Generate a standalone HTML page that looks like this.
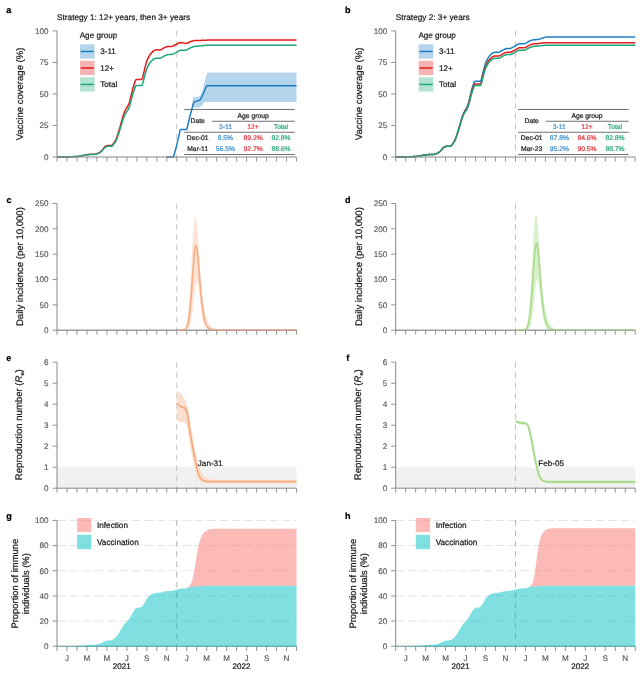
<!DOCTYPE html>
<html><head><meta charset="utf-8"><title>Figure</title>
<style>
html,body{margin:0;padding:0;background:#fff;}
body{width:640px;height:673px;overflow:hidden;font-family:"Liberation Sans", sans-serif;}
svg{display:block;font-family:"Liberation Sans", sans-serif;text-rendering:geometricPrecision;}
</style></head>
<body>
<svg width="640" height="673" viewBox="0 0 640 673">
<defs><filter id="soft" x="0" y="0" width="640" height="673" filterUnits="userSpaceOnUse"><feGaussianBlur stdDeviation="0.3"/></filter></defs>
<rect width="640" height="673" fill="#ffffff"/>
<g filter="url(#soft)">
<path d="M176.76,31 V157" fill="none" stroke="#c2c2c2" stroke-width="1" stroke-dasharray="5.6 4.7"/>
<path d="M192.5,99.5 L193.5,97.2 L199.9,96.4 L202,92 L204.5,82 L207.3,72.6 L296.5,72.6 L296.5,102.1 L204.3,102.1 L202,105.5 L199.4,107.6 L193.5,107.6 L192.5,104Z" fill="#1f7fc4" fill-opacity="0.33"/>
<path d="M57,157 L57.5,156.99 L58,156.99 L58.5,156.98 L59,156.98 L59.5,156.97 L60,156.97 L60.5,156.96 L61,156.96 L61.5,156.95 L62,156.95 L62.5,156.94 L63,156.93 L63.5,156.93 L64,156.92 L64.5,156.92 L65,156.91 L65.5,156.91 L66,156.9 L66.5,156.9 L67,156.88 L67.5,156.87 L68,156.85 L68.5,156.83 L69,156.81 L69.5,156.79 L70,156.77 L70.5,156.75 L71,156.73 L71.5,156.71 L72,156.68 L72.5,156.66 L73,156.64 L73.5,156.62 L74,156.6 L74.5,156.58 L75,156.56 L75.5,156.54 L76,156.52 L76.5,156.5 L77,156.47 L77.5,156.43 L78,156.37 L78.5,156.29 L79,156.2 L79.5,156.12 L80,156.04 L80.5,155.95 L81,155.87 L81.5,155.78 L82,155.69 L82.5,155.59 L83,155.48 L83.5,155.37 L84,155.26 L84.5,155.16 L85,155.05 L85.5,154.94 L86,154.83 L86.5,154.73 L87,154.64 L87.5,154.58 L88,154.53 L88.5,154.49 L89,154.45 L89.5,154.41 L90,154.37 L90.5,154.33 L91,154.3 L91.5,154.28 L92,154.26 L92.5,154.25 L93,154.24 L93.5,154.23 L94,154.22 L94.5,154.2 L95,154.18 L95.5,154.12 L96,153.99 L96.5,153.82 L97,153.62 L97.5,153.42 L98,153.22 L98.5,153.02 L99,152.79 L99.5,152.48 L100,152.09 L100.5,151.64 L101,151.17 L101.5,150.7 L102,150.2 L102.5,149.64 L103,149.03 L103.5,148.39 L104,147.75 L104.5,147.15 L105,146.66 L105.5,146.29 L106,146.04 L106.5,145.82 L107,145.63 L107.5,145.49 L108,145.42 L108.5,145.42 L109,145.43 L109.5,145.44 L110,145.45 L110.5,145.46 L111,145.48 L111.5,145.4 L112,145.14 L112.5,144.68 L113,144.06 L113.5,143.4 L114,142.75 L114.5,142.03 L115,141.21 L115.5,140.3 L116,139.29 L116.5,138.14 L117,136.82 L117.5,135.32 L118,133.71 L118.5,132.07 L119,130.41 L119.5,128.72 L120,127.03 L120.5,125.32 L121,123.56 L121.5,121.75 L122,119.89 L122.5,118.01 L123,116.26 L123.5,114.69 L124,113.31 L124.5,112.07 L125,110.86 L125.5,109.78 L126,108.82 L126.5,108 L127,107.24 L127.5,106.48 L128,105.69 L128.5,104.69 L129,103.47 L129.5,101.97 L130,100.21 L130.5,98.28 L131,96.17 L131.5,94.03 L132,91.92 L132.5,89.95 L133,88.13 L133.5,86.44 L134,84.79 L134.5,83.15 L135,81.58 L135.5,80.43 L136,79.75 L136.5,79.53 L137,79.53 L137.5,79.53 L138,79.53 L138.5,79.53 L139,79.53 L139.5,79.53 L140,79.53 L140.5,79.53 L141,79.53 L141.5,79.51 L142,79.03 L142.5,77.93 L143,76.2 L143.5,74.01 L144,71.8 L144.5,69.62 L145,67.56 L145.5,65.61 L146,63.78 L146.5,62.09 L147,60.63 L147.5,59.4 L148,58.39 L148.5,57.41 L149,56.43 L149.5,55.48 L150,54.67 L150.5,53.98 L151,53.43 L151.5,52.91 L152,52.38 L152.5,51.86 L153,51.35 L153.5,50.91 L154,50.57 L154.5,50.34 L155,50.18 L155.5,50.03 L156,49.91 L156.5,49.84 L157,49.8 L157.5,49.82 L158,49.84 L158.5,49.86 L159,49.88 L159.5,49.9 L160,49.91 L160.5,49.83 L161,49.67 L161.5,49.41 L162,49.11 L162.5,48.81 L163,48.51 L163.5,48.21 L164,47.91 L164.5,47.62 L165,47.38 L165.5,47.17 L166,47.01 L166.5,46.85 L167,46.7 L167.5,46.55 L168,46.45 L168.5,46.4 L169,46.4 L169.5,46.42 L170,46.44 L170.5,46.46 L171,46.48 L171.5,46.47 L172,46.38 L172.5,46.21 L173,45.98 L173.5,45.73 L174,45.48 L174.5,45.23 L175,44.98 L175.5,44.73 L176,44.48 L176.5,44.21 L177,43.99 L177.5,43.74 L178,43.5 L178.5,43.25 L179,43 L179.5,42.78 L180,42.65 L180.5,42.62 L181,42.67 L181.5,42.74 L182,42.82 L182.5,42.9 L183,42.97 L183.5,43.05 L184,43.13 L184.5,43.2 L185,43.28 L185.5,43.36 L186,43.39 L186.5,43.33 L187,43.18 L187.5,42.95 L188,42.71 L188.5,42.46 L189,42.21 L189.5,41.98 L190,41.77 L190.5,41.6 L191,41.46 L191.5,41.32 L192,41.19 L192.5,41.06 L193,40.88 L193.5,40.74 L194,40.64 L194.5,40.59 L195,40.58 L195.5,40.57 L196,40.56 L196.5,40.55 L197,40.53 L197.5,40.52 L198,40.51 L198.5,40.5 L199,40.49 L199.5,40.47 L200,40.45 L200.5,40.42 L201,40.39 L201.5,40.35 L202,40.31 L202.5,40.27 L203,40.24 L203.5,40.22 L204,40.2 L204.5,40.18 L205,40.17 L205.5,40.15 L206,40.14 L206.5,40.13 L207,40.13 L207.5,40.11 L208,40.11 L208.5,40.11 L209,40.11 L209.5,40.11 L210,40.11 L210.5,40.11 L211,40.11 L211.5,40.11 L212,40.11 L212.5,40.11 L213,40.11 L213.5,40.11 L214,40.11 L214.5,40.11 L215,40.11 L215.5,40.11 L216,40.11 L216.5,40.11 L217,40.11 L217.5,40.11 L218,40.11 L218.5,40.11 L219,40.11 L219.5,40.11 L220,40.11 L220.5,40.11 L221,40.11 L221.5,40.11 L222,40.11 L222.5,40.11 L223,40.11 L223.5,40.11 L224,40.11 L224.5,40.11 L225,40.11 L225.5,40.11 L226,40.11 L226.5,40.11 L227,40.11 L227.5,40.11 L228,40.11 L228.5,40.11 L229,40.11 L229.5,40.11 L230,40.11 L230.5,40.11 L231,40.11 L231.5,40.11 L232,40.11 L232.5,40.11 L233,40.11 L233.5,40.11 L234,40.11 L234.5,40.11 L235,40.11 L235.5,40.11 L236,40.11 L236.5,40.11 L237,40.11 L237.5,40.11 L238,40.11 L238.5,40.11 L239,40.11 L239.5,40.11 L240,40.11 L240.5,40.11 L241,40.11 L241.5,40.11 L242,40.11 L242.5,40.11 L243,40.11 L243.5,40.11 L244,40.11 L244.5,40.11 L245,40.11 L245.5,40.11 L246,40.11 L246.5,40.11 L247,40.11 L247.5,40.11 L248,40.11 L248.5,40.11 L249,40.11 L249.5,40.11 L250,40.11 L250.5,40.11 L251,40.11 L251.5,40.11 L252,40.11 L252.5,40.11 L253,40.11 L253.5,40.11 L254,40.11 L254.5,40.11 L255,40.11 L255.5,40.11 L256,40.11 L256.5,40.11 L257,40.11 L257.5,40.11 L258,40.11 L258.5,40.11 L259,40.11 L259.5,40.11 L260,40.11 L260.5,40.11 L261,40.11 L261.5,40.11 L262,40.11 L262.5,40.11 L263,40.11 L263.5,40.11 L264,40.11 L264.5,40.11 L265,40.11 L265.5,40.11 L266,40.11 L266.5,40.11 L267,40.11 L267.5,40.11 L268,40.11 L268.5,40.11 L269,40.11 L269.5,40.11 L270,40.11 L270.5,40.11 L271,40.11 L271.5,40.11 L272,40.11 L272.5,40.11 L273,40.11 L273.5,40.11 L274,40.11 L274.5,40.11 L275,40.11 L275.5,40.11 L276,40.11 L276.5,40.11 L277,40.11 L277.5,40.11 L278,40.11 L278.5,40.11 L279,40.11 L279.5,40.11 L280,40.11 L280.5,40.11 L281,40.11 L281.5,40.11 L282,40.11 L282.5,40.11 L283,40.11 L283.5,40.11 L284,40.11 L284.5,40.11 L285,40.11 L285.5,40.11 L286,40.11 L286.5,40.11 L287,40.11 L287.5,40.11 L288,40.11 L288.5,40.11 L289,40.11 L289.5,40.11 L290,40.11 L290.5,40.11 L291,40.11 L291.5,40.11 L292,40.11 L292.5,40.11 L293,40.11 L293.5,40.11 L294,40.11 L294.5,40.11 L295,40.11 L295.5,40.11 L296,40.11 L296.5,40.11" fill="none" stroke="#e41a1c" stroke-width="1.5" stroke-linejoin="round" stroke-linecap="butt" />
<path d="M57,157 L57.5,156.99 L58,156.99 L58.5,156.99 L59,156.98 L59.5,156.98 L60,156.97 L60.5,156.96 L61,156.96 L61.5,156.96 L62,156.95 L62.5,156.94 L63,156.94 L63.5,156.93 L64,156.93 L64.5,156.93 L65,156.92 L65.5,156.91 L66,156.91 L66.5,156.9 L67,156.89 L67.5,156.88 L68,156.86 L68.5,156.84 L69,156.82 L69.5,156.8 L70,156.79 L70.5,156.77 L71,156.75 L71.5,156.73 L72,156.71 L72.5,156.69 L73,156.67 L73.5,156.65 L74,156.63 L74.5,156.61 L75,156.6 L75.5,156.58 L76,156.56 L76.5,156.54 L77,156.51 L77.5,156.47 L78,156.42 L78.5,156.34 L79,156.27 L79.5,156.19 L80,156.11 L80.5,156.03 L81,155.96 L81.5,155.88 L82,155.79 L82.5,155.7 L83,155.6 L83.5,155.5 L84,155.4 L84.5,155.3 L85,155.2 L85.5,155.1 L86,155 L86.5,154.91 L87,154.83 L87.5,154.77 L88,154.73 L88.5,154.69 L89,154.65 L89.5,154.61 L90,154.58 L90.5,154.54 L91,154.51 L91.5,154.49 L92,154.48 L92.5,154.47 L93,154.46 L93.5,154.45 L94,154.43 L94.5,154.42 L95,154.41 L95.5,154.34 L96,154.23 L96.5,154.07 L97,153.88 L97.5,153.7 L98,153.52 L98.5,153.33 L99,153.12 L99.5,152.83 L100,152.48 L100.5,152.06 L101,151.63 L101.5,151.2 L102,150.73 L102.5,150.22 L103,149.66 L103.5,149.07 L104,148.48 L104.5,147.92 L105,147.47 L105.5,147.13 L106,146.9 L106.5,146.7 L107,146.52 L107.5,146.39 L108,146.33 L108.5,146.32 L109,146.33 L109.5,146.35 L110,146.36 L110.5,146.37 L111,146.38 L111.5,146.31 L112,146.07 L112.5,145.65 L113,145.07 L113.5,144.47 L114,143.87 L114.5,143.2 L115,142.45 L115.5,141.6 L116,140.68 L116.5,139.62 L117,138.4 L117.5,137.02 L118,135.53 L118.5,134.02 L119,132.49 L119.5,130.94 L120,129.38 L120.5,127.8 L121,126.18 L121.5,124.51 L122,122.79 L122.5,121.07 L123,119.45 L123.5,118 L124,116.73 L124.5,115.59 L125,114.48 L125.5,113.47 L126,112.6 L126.5,111.84 L127,111.14 L127.5,110.44 L128,109.71 L128.5,108.79 L129,107.66 L129.5,106.28 L130,104.66 L130.5,102.88 L131,100.94 L131.5,98.96 L132,97.02 L132.5,95.2 L133,93.52 L133.5,91.97 L134,90.45 L134.5,88.94 L135,87.49 L135.5,86.43 L136,85.8 L136.5,85.6 L137,85.6 L137.5,85.6 L138,85.6 L138.5,85.6 L139,85.6 L139.5,85.6 L140,85.6 L140.5,85.6 L141,85.6 L141.5,85.58 L142,85.14 L142.5,84.12 L143,82.53 L143.5,80.51 L144,78.47 L144.5,76.47 L145,74.57 L145.5,72.77 L146,71.08 L146.5,69.53 L147,68.18 L147.5,67.05 L148,66.11 L148.5,65.21 L149,64.31 L149.5,63.44 L150,62.68 L150.5,62.05 L151,61.54 L151.5,61.06 L152,60.58 L152.5,60.1 L153,59.62 L153.5,59.22 L154,58.91 L154.5,58.69 L155,58.55 L155.5,58.41 L156,58.3 L156.5,58.23 L157,58.2 L157.5,58.2 L158,58.2 L158.5,58.2 L159,58.2 L159.5,58.2 L160,58.19 L160.5,58.1 L161,57.92 L161.5,57.67 L162,57.37 L162.5,57.08 L163,56.78 L163.5,56.49 L164,56.19 L164.5,55.91 L165,55.66 L165.5,55.45 L166,55.28 L166.5,55.12 L167,54.95 L167.5,54.8 L168,54.69 L168.5,54.62 L169,54.6 L169.5,54.6 L170,54.6 L170.5,54.6 L171,54.6 L171.5,54.57 L172,54.46 L172.5,54.29 L173,54.05 L173.5,53.8 L174,53.55 L174.5,53.3 L175,53.05 L175.5,52.8 L176,52.55 L176.5,52.28 L177,52 L177.5,51.7 L178,51.4 L178.5,51.1 L179,50.8 L179.5,50.52 L180,50.33 L180.5,50.22 L181,50.2 L181.5,50.2 L182,50.2 L182.5,50.2 L183,50.2 L183.5,50.2 L184,50.2 L184.5,50.2 L185,50.2 L185.5,50.2 L186,50.16 L186.5,50.03 L187,49.82 L187.5,49.53 L188,49.22 L188.5,48.92 L189,48.61 L189.5,48.31 L190,48.05 L190.5,47.81 L191,47.6 L191.5,47.4 L192,47.2 L192.5,47 L193,46.8 L193.5,46.64 L194,46.52 L194.5,46.44 L195,46.4 L195.5,46.36 L196,46.32 L196.5,46.28 L197,46.24 L197.5,46.2 L198,46.16 L198.5,46.12 L199,46.08 L199.5,46.04 L200,45.99 L200.5,45.93 L201,45.87 L201.5,45.8 L202,45.73 L202.5,45.67 L203,45.61 L203.5,45.56 L204,45.51 L204.5,45.47 L205,45.42 L205.5,45.38 L206,45.34 L206.5,45.3 L207,45.27 L207.5,45.25 L208,45.25 L208.5,45.25 L209,45.25 L209.5,45.25 L210,45.25 L210.5,45.25 L211,45.25 L211.5,45.25 L212,45.25 L212.5,45.25 L213,45.25 L213.5,45.25 L214,45.25 L214.5,45.25 L215,45.25 L215.5,45.25 L216,45.25 L216.5,45.25 L217,45.25 L217.5,45.25 L218,45.25 L218.5,45.25 L219,45.25 L219.5,45.25 L220,45.25 L220.5,45.25 L221,45.25 L221.5,45.25 L222,45.25 L222.5,45.25 L223,45.25 L223.5,45.25 L224,45.25 L224.5,45.25 L225,45.25 L225.5,45.25 L226,45.25 L226.5,45.25 L227,45.25 L227.5,45.25 L228,45.25 L228.5,45.25 L229,45.25 L229.5,45.25 L230,45.25 L230.5,45.25 L231,45.25 L231.5,45.25 L232,45.25 L232.5,45.25 L233,45.25 L233.5,45.25 L234,45.25 L234.5,45.25 L235,45.25 L235.5,45.25 L236,45.25 L236.5,45.25 L237,45.25 L237.5,45.25 L238,45.25 L238.5,45.25 L239,45.25 L239.5,45.25 L240,45.25 L240.5,45.25 L241,45.25 L241.5,45.25 L242,45.25 L242.5,45.25 L243,45.25 L243.5,45.25 L244,45.25 L244.5,45.25 L245,45.25 L245.5,45.25 L246,45.25 L246.5,45.25 L247,45.25 L247.5,45.25 L248,45.25 L248.5,45.25 L249,45.25 L249.5,45.25 L250,45.25 L250.5,45.25 L251,45.25 L251.5,45.25 L252,45.25 L252.5,45.25 L253,45.25 L253.5,45.25 L254,45.25 L254.5,45.25 L255,45.25 L255.5,45.25 L256,45.25 L256.5,45.25 L257,45.25 L257.5,45.25 L258,45.25 L258.5,45.25 L259,45.25 L259.5,45.25 L260,45.25 L260.5,45.25 L261,45.25 L261.5,45.25 L262,45.25 L262.5,45.25 L263,45.25 L263.5,45.25 L264,45.25 L264.5,45.25 L265,45.25 L265.5,45.25 L266,45.25 L266.5,45.25 L267,45.25 L267.5,45.25 L268,45.25 L268.5,45.25 L269,45.25 L269.5,45.25 L270,45.25 L270.5,45.25 L271,45.25 L271.5,45.25 L272,45.25 L272.5,45.25 L273,45.25 L273.5,45.25 L274,45.25 L274.5,45.25 L275,45.25 L275.5,45.25 L276,45.25 L276.5,45.25 L277,45.25 L277.5,45.25 L278,45.25 L278.5,45.25 L279,45.25 L279.5,45.25 L280,45.25 L280.5,45.25 L281,45.25 L281.5,45.25 L282,45.25 L282.5,45.25 L283,45.25 L283.5,45.25 L284,45.25 L284.5,45.25 L285,45.25 L285.5,45.25 L286,45.25 L286.5,45.25 L287,45.25 L287.5,45.25 L288,45.25 L288.5,45.25 L289,45.25 L289.5,45.25 L290,45.25 L290.5,45.25 L291,45.25 L291.5,45.25 L292,45.25 L292.5,45.25 L293,45.25 L293.5,45.25 L294,45.25 L294.5,45.25 L295,45.25 L295.5,45.25 L296,45.25 L296.5,45.25" fill="none" stroke="#1aa67a" stroke-width="1.5" stroke-linejoin="round" stroke-linecap="butt" />
<path d="M166.7,157 L173.4,157 L176.5,146.2 L180.3,129.4 L186.8,129.4 L190,116 L193.7,102.4 L195,101.6 L199.7,100.3 L201.5,97.5 L206.6,86 L207.3,85.75 L296.5,85.75" fill="none" stroke="#1f7fc4" stroke-width="1.5" stroke-linejoin="round" stroke-linecap="butt" />
<path d="M57,30.9 V157 H296.52" fill="none" stroke="#888888" stroke-width="1"/>
<path d="M52.5,157 H57 M52.5,125.47 H57 M52.5,93.95 H57 M52.5,62.43 H57 M52.5,30.9 H57 M57,157 v4.5 M66.98,157 v4.5 M76.96,157 v4.5 M86.94,157 v4.5 M96.92,157 v4.5 M106.9,157 v4.5 M116.88,157 v4.5 M126.86,157 v4.5 M136.84,157 v4.5 M146.82,157 v4.5 M156.8,157 v4.5 M166.78,157 v4.5 M176.76,157 v4.5 M186.74,157 v4.5 M196.72,157 v4.5 M206.7,157 v4.5 M216.68,157 v4.5 M226.66,157 v4.5 M236.64,157 v4.5 M246.62,157 v4.5 M256.6,157 v4.5 M266.58,157 v4.5 M276.56,157 v4.5 M286.54,157 v4.5 M296.52,157 v4.5 " fill="none" stroke="#888888" stroke-width="0.9"/>
<text x="48.6" y="159.85" text-anchor="end" font-size="8.1" fill="#555555" stroke="#555555" stroke-width="0.14">0</text>
<text x="48.6" y="128.32" text-anchor="end" font-size="8.1" fill="#555555" stroke="#555555" stroke-width="0.14">25</text>
<text x="48.6" y="96.8" text-anchor="end" font-size="8.1" fill="#555555" stroke="#555555" stroke-width="0.14">50</text>
<text x="48.6" y="65.28" text-anchor="end" font-size="8.1" fill="#555555" stroke="#555555" stroke-width="0.14">75</text>
<text x="48.6" y="33.75" text-anchor="end" font-size="8.1" fill="#555555" stroke="#555555" stroke-width="0.14">100</text>
<text transform="translate(23.3,93.9) rotate(-90)" text-anchor="middle" font-size="9.55" fill="#1a1a1a" stroke="#1a1a1a" stroke-width="0.22">Vaccine coverage (%)</text>
<text x="57.1" y="20.1" font-size="8.22" fill="#1a1a1a" stroke="#1a1a1a" stroke-width="0.22">Strategy 1: 12+ years, then 3+ years</text>
<text x="79.7" y="38.1" font-size="8.15" fill="#1a1a1a" stroke="#1a1a1a" stroke-width="0.22">Age group</text>
<rect x="80" y="44.3" width="14.6" height="14.3" fill="#1f7fc4" fill-opacity="0.33"/>
<path d="M80.7,51.45 h13.2" stroke="#1f7fc4" stroke-width="1.5" fill="none"/>
<text x="100.2" y="54.3" font-size="8.15" fill="#1a1a1a" stroke="#1a1a1a" stroke-width="0.22">3-11</text>
<rect x="80" y="60.8" width="14.6" height="14.3" fill="#e41a1c" fill-opacity="0.33"/>
<path d="M80.7,67.95 h13.2" stroke="#e41a1c" stroke-width="1.5" fill="none"/>
<text x="100.2" y="70.8" font-size="8.15" fill="#1a1a1a" stroke="#1a1a1a" stroke-width="0.22">12+</text>
<rect x="80" y="77.3" width="14.6" height="14.3" fill="#1aa67a" fill-opacity="0.33"/>
<path d="M80.7,84.45 h13.2" stroke="#1aa67a" stroke-width="1.5" fill="none"/>
<text x="100.2" y="87.3" font-size="8.15" fill="#1a1a1a" stroke="#1a1a1a" stroke-width="0.22">Total</text>
<path d="M184.2,109.45 H294.8 M211.9,121.25 H294.8 M184.2,132.25 H294.8 M184.2,154.5 H294.8" stroke="#555555" stroke-width="0.85" fill="none"/>
<g font-size="6.75" text-anchor="middle">
<text x="253.1" y="118.3" fill="#1a1a1a" stroke="#1a1a1a" stroke-width="0.22">Age group</text>
<text x="197.7" y="123.2" fill="#1a1a1a" stroke="#1a1a1a" stroke-width="0.22">Date</text>
<text x="225.4" y="129.2" fill="#3f8fd0" stroke="#3f8fd0" stroke-width="0.22">3-11</text>
<text x="253.1" y="129.2" fill="#e2373f" stroke="#e2373f" stroke-width="0.22">12+</text>
<text x="281" y="129.2" fill="#2aa87c" stroke="#2aa87c" stroke-width="0.22">Total</text>
<text x="197.7" y="140.1" fill="#1a1a1a" stroke="#1a1a1a" stroke-width="0.22">Dec-01</text>
<text x="225.4" y="140.1" fill="#3f8fd0" stroke="#3f8fd0" stroke-width="0.22">8.5%</text>
<text x="253.1" y="140.1" fill="#e2373f" stroke="#e2373f" stroke-width="0.22">89.2%</text>
<text x="281" y="140.1" fill="#2aa87c" stroke="#2aa87c" stroke-width="0.22">82.8%</text>
<text x="197.7" y="151.0" fill="#1a1a1a" stroke="#1a1a1a" stroke-width="0.22">Mar-11</text>
<text x="225.4" y="151.0" fill="#3f8fd0" stroke="#3f8fd0" stroke-width="0.22">56.5%</text>
<text x="253.1" y="151.0" fill="#e2373f" stroke="#e2373f" stroke-width="0.22">92.7%</text>
<text x="281" y="151.0" fill="#2aa87c" stroke="#2aa87c" stroke-width="0.22">88.6%</text>
</g>
<text x="6.3" y="12.7" font-size="9.1" font-weight="bold" fill="#000" stroke="#000" stroke-width="0.22">a</text>
<path d="M515.46,31 V157" fill="none" stroke="#c2c2c2" stroke-width="1" stroke-dasharray="5.6 4.7"/>
<path d="M395.7,157 L396.2,156.99 L396.7,156.99 L397.2,156.99 L397.7,156.98 L398.2,156.98 L398.7,156.97 L399.2,156.96 L399.7,156.96 L400.2,156.96 L400.7,156.95 L401.2,156.94 L401.7,156.94 L402.2,156.93 L402.7,156.93 L403.2,156.93 L403.7,156.92 L404.2,156.91 L404.7,156.91 L405.2,156.9 L405.7,156.89 L406.2,156.88 L406.7,156.86 L407.2,156.84 L407.7,156.82 L408.2,156.8 L408.7,156.79 L409.2,156.77 L409.7,156.75 L410.2,156.73 L410.7,156.71 L411.2,156.69 L411.7,156.67 L412.2,156.65 L412.7,156.63 L413.2,156.61 L413.7,156.6 L414.2,156.58 L414.7,156.56 L415.2,156.54 L415.7,156.51 L416.2,156.47 L416.7,156.42 L417.2,156.34 L417.7,156.27 L418.2,156.19 L418.7,156.11 L419.2,156.03 L419.7,155.96 L420.2,155.88 L420.7,155.79 L421.2,155.7 L421.7,155.6 L422.2,155.5 L422.7,155.4 L423.2,155.3 L423.7,155.2 L424.2,155.1 L424.7,155 L425.2,154.91 L425.7,154.83 L426.2,154.77 L426.7,154.73 L427.2,154.69 L427.7,154.65 L428.2,154.61 L428.7,154.58 L429.2,154.54 L429.7,154.51 L430.2,154.49 L430.7,154.48 L431.2,154.47 L431.7,154.46 L432.2,154.45 L432.7,154.43 L433.2,154.42 L433.7,154.41 L434.2,154.34 L434.7,154.23 L435.2,154.07 L435.7,153.88 L436.2,153.7 L436.7,153.52 L437.2,153.33 L437.7,153.12 L438.2,152.83 L438.7,152.48 L439.2,152.06 L439.7,151.63 L440.2,151.2 L440.7,150.73 L441.2,150.22 L441.7,149.66 L442.2,149.07 L442.7,148.48 L443.2,147.92 L443.7,147.47 L444.2,147.13 L444.7,146.9 L445.2,146.7 L445.7,146.52 L446.2,146.39 L446.7,146.33 L447.2,146.32 L447.7,146.33 L448.2,146.35 L448.7,146.36 L449.2,146.37 L449.7,146.38 L450.2,146.31 L450.7,146.07 L451.2,145.65 L451.7,145.07 L452.2,144.47 L452.7,143.87 L453.2,143.2 L453.7,142.45 L454.2,141.6 L454.7,140.68 L455.2,139.62 L455.7,138.4 L456.2,136.98 L456.7,135.45 L457.2,133.88 L457.7,132.29 L458.2,130.68 L458.7,129.04 L459.2,127.39 L459.7,125.68 L460.2,123.92 L460.7,122.11 L461.2,120.27 L461.7,118.55 L462.2,116.99 L462.7,115.6 L463.2,114.34 L463.7,113.11 L464.2,111.99 L464.7,111 L465.2,110.12 L465.7,109.31 L466.2,108.48 L466.7,107.63 L467.2,106.57 L467.7,105.29 L468.2,103.75 L468.7,101.94 L469.2,99.95 L469.7,97.8 L470.2,95.59 L470.7,93.42 L471.2,91.49 L471.7,89.71 L472.2,88.07 L472.7,86.46 L473.2,84.85 L473.7,83.31 L474.2,82.19 L474.7,81.53 L475.2,81.32 L475.7,81.32 L476.2,81.32 L476.7,81.32 L477.2,81.32 L477.7,81.32 L478.2,81.32 L478.7,81.32 L479.2,81.32 L479.7,81.32 L480.2,81.3 L480.7,80.83 L481.2,79.75 L481.7,78.06 L482.2,75.92 L482.7,73.76 L483.2,71.63 L483.7,69.62 L484.2,67.72 L484.7,65.93 L485.2,64.28 L485.7,62.85 L486.2,61.65 L486.7,60.66 L487.2,59.7 L487.7,58.74 L488.2,57.82 L488.7,57.03 L489.2,56.36 L489.7,55.81 L490.2,55.3 L490.7,54.79 L491.2,54.29 L491.7,53.78 L492.2,53.35 L492.7,53.02 L493.2,52.79 L493.7,52.64 L494.2,52.5 L494.7,52.38 L495.2,52.31 L495.7,52.27 L496.2,52.27 L496.7,52.27 L497.2,52.27 L497.7,52.27 L498.2,52.27 L498.7,52.26 L499.2,52.16 L499.7,51.98 L500.2,51.71 L500.7,51.4 L501.2,51.08 L501.7,50.77 L502.2,50.46 L502.7,50.14 L503.2,49.84 L503.7,49.58 L504.2,49.36 L504.7,49.17 L505.2,49 L505.7,48.83 L506.2,48.67 L506.7,48.55 L507.2,48.48 L507.7,48.46 L508.2,48.46 L508.7,48.46 L509.2,48.46 L509.7,48.46 L510.2,48.42 L510.7,48.31 L511.2,48.13 L511.7,47.87 L512.2,47.61 L512.7,47.34 L513.2,47.08 L513.7,46.81 L514.2,46.55 L514.7,46.28 L515.2,45.99 L515.7,45.7 L516.2,45.38 L516.7,45.06 L517.2,44.75 L517.7,44.43 L518.2,44.14 L518.7,43.93 L519.2,43.82 L519.7,43.79 L520.2,43.79 L520.7,43.79 L521.2,43.79 L521.7,43.79 L522.2,43.79 L522.7,43.79 L523.2,43.79 L523.7,43.79 L524.2,43.79 L524.7,43.75 L525.2,43.62 L525.7,43.39 L526.2,43.08 L526.7,42.76 L527.2,42.43 L527.7,42.11 L528.2,41.79 L528.7,41.51 L529.2,41.26 L529.7,41.04 L530.2,40.82 L530.7,40.61 L531.2,40.4 L531.7,40.19 L532.2,40.01 L532.7,39.89 L533.2,39.81 L533.7,39.76 L534.2,39.72 L534.7,39.68 L535.2,39.64 L535.7,39.59 L536.2,39.55 L536.7,39.51 L537.2,39.47 L537.7,39.42 L538.2,39.38 L538.7,39.33 L539.2,39.27 L539.7,39.09 L540.2,38.91 L540.7,38.72 L541.2,38.54 L541.7,38.37 L542.2,38.2 L542.7,38.04 L543.2,37.88 L543.7,37.73 L544.2,37.57 L544.7,37.41 L545.2,37.25 L545.7,37.11 L546.2,37.1 L546.7,37.09 L547.2,37.09 L547.7,37.09 L548.2,37.09 L548.7,37.09 L549.2,37.09 L549.7,37.09 L550.2,37.09 L550.7,37.09 L551.2,37.09 L551.7,37.09 L552.2,37.09 L552.7,37.09 L553.2,37.09 L553.7,37.09 L554.2,37.09 L554.7,37.09 L555.2,37.09 L555.7,37.09 L556.2,37.09 L556.7,37.09 L557.2,37.09 L557.7,37.09 L558.2,37.09 L558.7,37.09 L559.2,37.09 L559.7,37.09 L560.2,37.09 L560.7,37.09 L561.2,37.09 L561.7,37.09 L562.2,37.09 L562.7,37.09 L563.2,37.09 L563.7,37.09 L564.2,37.09 L564.7,37.09 L565.2,37.09 L565.7,37.09 L566.2,37.09 L566.7,37.09 L567.2,37.09 L567.7,37.09 L568.2,37.09 L568.7,37.09 L569.2,37.09 L569.7,37.09 L570.2,37.09 L570.7,37.09 L571.2,37.09 L571.7,37.09 L572.2,37.09 L572.7,37.09 L573.2,37.09 L573.7,37.09 L574.2,37.09 L574.7,37.09 L575.2,37.09 L575.7,37.09 L576.2,37.09 L576.7,37.09 L577.2,37.09 L577.7,37.09 L578.2,37.09 L578.7,37.09 L579.2,37.09 L579.7,37.09 L580.2,37.09 L580.7,37.09 L581.2,37.09 L581.7,37.09 L582.2,37.09 L582.7,37.09 L583.2,37.09 L583.7,37.09 L584.2,37.09 L584.7,37.09 L585.2,37.09 L585.7,37.09 L586.2,37.09 L586.7,37.09 L587.2,37.09 L587.7,37.09 L588.2,37.09 L588.7,37.09 L589.2,37.09 L589.7,37.09 L590.2,37.09 L590.7,37.09 L591.2,37.09 L591.7,37.09 L592.2,37.09 L592.7,37.09 L593.2,37.09 L593.7,37.09 L594.2,37.09 L594.7,37.09 L595.2,37.09 L595.7,37.09 L596.2,37.09 L596.7,37.09 L597.2,37.09 L597.7,37.09 L598.2,37.09 L598.7,37.09 L599.2,37.09 L599.7,37.09 L600.2,37.09 L600.7,37.09 L601.2,37.09 L601.7,37.09 L602.2,37.09 L602.7,37.09 L603.2,37.09 L603.7,37.09 L604.2,37.09 L604.7,37.09 L605.2,37.09 L605.7,37.09 L606.2,37.09 L606.7,37.09 L607.2,37.09 L607.7,37.09 L608.2,37.09 L608.7,37.09 L609.2,37.09 L609.7,37.09 L610.2,37.09 L610.7,37.09 L611.2,37.09 L611.7,37.09 L612.2,37.09 L612.7,37.09 L613.2,37.09 L613.7,37.09 L614.2,37.09 L614.7,37.09 L615.2,37.09 L615.7,37.09 L616.2,37.09 L616.7,37.09 L617.2,37.09 L617.7,37.09 L618.2,37.09 L618.7,37.09 L619.2,37.09 L619.7,37.09 L620.2,37.09 L620.7,37.09 L621.2,37.09 L621.7,37.09 L622.2,37.09 L622.7,37.09 L623.2,37.09 L623.7,37.09 L624.2,37.09 L624.7,37.09 L625.2,37.09 L625.7,37.09 L626.2,37.09 L626.7,37.09 L627.2,37.09 L627.7,37.09 L628.2,37.09 L628.7,37.09 L629.2,37.09 L629.7,37.09 L630.2,37.09 L630.7,37.09 L631.2,37.09 L631.7,37.09 L632.2,37.09 L632.7,37.09 L633.2,37.09 L633.7,37.09 L634.2,37.09 L634.7,37.09 L635.2,37.09" fill="none" stroke="#1f7fc4" stroke-width="1.5" stroke-linejoin="round" stroke-linecap="butt" />
<path d="M395.7,157 L396.2,156.99 L396.7,156.99 L397.2,156.99 L397.7,156.98 L398.2,156.98 L398.7,156.97 L399.2,156.96 L399.7,156.96 L400.2,156.96 L400.7,156.95 L401.2,156.94 L401.7,156.94 L402.2,156.93 L402.7,156.93 L403.2,156.93 L403.7,156.92 L404.2,156.91 L404.7,156.91 L405.2,156.9 L405.7,156.89 L406.2,156.88 L406.7,156.86 L407.2,156.84 L407.7,156.82 L408.2,156.8 L408.7,156.79 L409.2,156.77 L409.7,156.75 L410.2,156.73 L410.7,156.71 L411.2,156.69 L411.7,156.67 L412.2,156.65 L412.7,156.63 L413.2,156.61 L413.7,156.6 L414.2,156.58 L414.7,156.56 L415.2,156.54 L415.7,156.51 L416.2,156.47 L416.7,156.42 L417.2,156.34 L417.7,156.27 L418.2,156.19 L418.7,156.11 L419.2,156.03 L419.7,155.96 L420.2,155.88 L420.7,155.79 L421.2,155.7 L421.7,155.6 L422.2,155.5 L422.7,155.4 L423.2,155.3 L423.7,155.2 L424.2,155.1 L424.7,155 L425.2,154.91 L425.7,154.83 L426.2,154.77 L426.7,154.73 L427.2,154.69 L427.7,154.65 L428.2,154.61 L428.7,154.58 L429.2,154.54 L429.7,154.51 L430.2,154.49 L430.7,154.48 L431.2,154.47 L431.7,154.46 L432.2,154.45 L432.7,154.43 L433.2,154.42 L433.7,154.41 L434.2,154.34 L434.7,154.23 L435.2,154.07 L435.7,153.88 L436.2,153.7 L436.7,153.52 L437.2,153.33 L437.7,153.12 L438.2,152.83 L438.7,152.48 L439.2,152.06 L439.7,151.63 L440.2,151.2 L440.7,150.73 L441.2,150.22 L441.7,149.66 L442.2,149.07 L442.7,148.48 L443.2,147.92 L443.7,147.47 L444.2,147.13 L444.7,146.9 L445.2,146.7 L445.7,146.52 L446.2,146.39 L446.7,146.33 L447.2,146.32 L447.7,146.33 L448.2,146.35 L448.7,146.36 L449.2,146.37 L449.7,146.38 L450.2,146.31 L450.7,146.07 L451.2,145.65 L451.7,145.07 L452.2,144.47 L452.7,143.87 L453.2,143.2 L453.7,142.45 L454.2,141.6 L454.7,140.68 L455.2,139.62 L455.7,138.4 L456.2,137.01 L456.7,135.5 L457.2,133.97 L457.7,132.41 L458.2,130.84 L458.7,129.25 L459.2,127.64 L459.7,125.99 L460.2,124.28 L460.7,122.53 L461.2,120.76 L461.7,119.1 L462.2,117.62 L462.7,116.3 L463.2,115.11 L463.7,113.95 L464.2,112.91 L464.7,111.98 L465.2,111.18 L465.7,110.44 L466.2,109.69 L466.7,108.91 L467.2,107.94 L467.7,106.75 L468.2,105.31 L468.7,103.62 L469.2,101.76 L469.7,99.74 L470.2,97.67 L470.7,95.67 L471.2,93.81 L471.7,92.09 L472.2,90.5 L472.7,88.95 L473.2,87.4 L473.7,85.92 L474.2,84.84 L474.7,84.2 L475.2,83.99 L475.7,83.99 L476.2,83.99 L476.7,83.99 L477.2,83.99 L477.7,83.99 L478.2,83.99 L478.7,83.99 L479.2,83.99 L479.7,83.99 L480.2,83.97 L480.7,83.52 L481.2,82.48 L481.7,80.85 L482.2,78.79 L482.7,76.71 L483.2,74.65 L483.7,72.71 L484.2,70.88 L484.7,69.15 L485.2,67.56 L485.7,66.18 L486.2,65.03 L486.7,64.07 L487.2,63.14 L487.7,62.22 L488.2,61.33 L488.7,60.56 L489.2,59.92 L489.7,59.39 L490.2,58.9 L490.7,58.41 L491.2,57.92 L491.7,57.43 L492.2,57.02 L492.7,56.7 L493.2,56.48 L493.7,56.33 L494.2,56.19 L494.7,56.08 L495.2,56.01 L495.7,55.98 L496.2,55.98 L496.7,55.98 L497.2,55.98 L497.7,55.98 L498.2,55.98 L498.7,55.96 L499.2,55.87 L499.7,55.7 L500.2,55.43 L500.7,55.13 L501.2,54.83 L501.7,54.53 L502.2,54.22 L502.7,53.92 L503.2,53.63 L503.7,53.38 L504.2,53.16 L504.7,52.99 L505.2,52.82 L505.7,52.66 L506.2,52.5 L506.7,52.39 L507.2,52.32 L507.7,52.3 L508.2,52.3 L508.7,52.3 L509.2,52.3 L509.7,52.3 L510.2,52.26 L510.7,52.16 L511.2,51.98 L511.7,51.73 L512.2,51.48 L512.7,51.22 L513.2,50.97 L513.7,50.71 L514.2,50.46 L514.7,50.2 L515.2,49.92 L515.7,49.63 L516.2,49.33 L516.7,49.02 L517.2,48.72 L517.7,48.41 L518.2,48.13 L518.7,47.93 L519.2,47.82 L519.7,47.8 L520.2,47.8 L520.7,47.8 L521.2,47.8 L521.7,47.8 L522.2,47.8 L522.7,47.8 L523.2,47.8 L523.7,47.8 L524.2,47.8 L524.7,47.76 L525.2,47.63 L525.7,47.41 L526.2,47.11 L526.7,46.8 L527.2,46.48 L527.7,46.17 L528.2,45.87 L528.7,45.59 L529.2,45.35 L529.7,45.14 L530.2,44.93 L530.7,44.73 L531.2,44.53 L531.7,44.32 L532.2,44.15 L532.7,44.03 L533.2,43.95 L533.7,43.91 L534.2,43.87 L534.7,43.83 L535.2,43.79 L535.7,43.75 L536.2,43.71 L536.7,43.67 L537.2,43.63 L537.7,43.58 L538.2,43.54 L538.7,43.49 L539.2,43.43 L539.7,43.37 L540.2,43.3 L540.7,43.23 L541.2,43.16 L541.7,43.1 L542.2,43.05 L542.7,43 L543.2,42.96 L543.7,42.91 L544.2,42.87 L544.7,42.83 L545.2,42.78 L545.7,42.76 L546.2,42.74 L546.7,42.74 L547.2,42.74 L547.7,42.74 L548.2,42.74 L548.7,42.74 L549.2,42.74 L549.7,42.74 L550.2,42.74 L550.7,42.74 L551.2,42.74 L551.7,42.74 L552.2,42.74 L552.7,42.74 L553.2,42.74 L553.7,42.74 L554.2,42.74 L554.7,42.74 L555.2,42.74 L555.7,42.74 L556.2,42.74 L556.7,42.74 L557.2,42.74 L557.7,42.74 L558.2,42.74 L558.7,42.74 L559.2,42.74 L559.7,42.74 L560.2,42.74 L560.7,42.74 L561.2,42.74 L561.7,42.74 L562.2,42.74 L562.7,42.74 L563.2,42.74 L563.7,42.74 L564.2,42.74 L564.7,42.74 L565.2,42.74 L565.7,42.74 L566.2,42.74 L566.7,42.74 L567.2,42.74 L567.7,42.74 L568.2,42.74 L568.7,42.74 L569.2,42.74 L569.7,42.74 L570.2,42.74 L570.7,42.74 L571.2,42.74 L571.7,42.74 L572.2,42.74 L572.7,42.74 L573.2,42.74 L573.7,42.74 L574.2,42.74 L574.7,42.74 L575.2,42.74 L575.7,42.74 L576.2,42.74 L576.7,42.74 L577.2,42.74 L577.7,42.74 L578.2,42.74 L578.7,42.74 L579.2,42.74 L579.7,42.74 L580.2,42.74 L580.7,42.74 L581.2,42.74 L581.7,42.74 L582.2,42.74 L582.7,42.74 L583.2,42.74 L583.7,42.74 L584.2,42.74 L584.7,42.74 L585.2,42.74 L585.7,42.74 L586.2,42.74 L586.7,42.74 L587.2,42.74 L587.7,42.74 L588.2,42.74 L588.7,42.74 L589.2,42.74 L589.7,42.74 L590.2,42.74 L590.7,42.74 L591.2,42.74 L591.7,42.74 L592.2,42.74 L592.7,42.74 L593.2,42.74 L593.7,42.74 L594.2,42.74 L594.7,42.74 L595.2,42.74 L595.7,42.74 L596.2,42.74 L596.7,42.74 L597.2,42.74 L597.7,42.74 L598.2,42.74 L598.7,42.74 L599.2,42.74 L599.7,42.74 L600.2,42.74 L600.7,42.74 L601.2,42.74 L601.7,42.74 L602.2,42.74 L602.7,42.74 L603.2,42.74 L603.7,42.74 L604.2,42.74 L604.7,42.74 L605.2,42.74 L605.7,42.74 L606.2,42.74 L606.7,42.74 L607.2,42.74 L607.7,42.74 L608.2,42.74 L608.7,42.74 L609.2,42.74 L609.7,42.74 L610.2,42.74 L610.7,42.74 L611.2,42.74 L611.7,42.74 L612.2,42.74 L612.7,42.74 L613.2,42.74 L613.7,42.74 L614.2,42.74 L614.7,42.74 L615.2,42.74 L615.7,42.74 L616.2,42.74 L616.7,42.74 L617.2,42.74 L617.7,42.74 L618.2,42.74 L618.7,42.74 L619.2,42.74 L619.7,42.74 L620.2,42.74 L620.7,42.74 L621.2,42.74 L621.7,42.74 L622.2,42.74 L622.7,42.74 L623.2,42.74 L623.7,42.74 L624.2,42.74 L624.7,42.74 L625.2,42.74 L625.7,42.74 L626.2,42.74 L626.7,42.74 L627.2,42.74 L627.7,42.74 L628.2,42.74 L628.7,42.74 L629.2,42.74 L629.7,42.74 L630.2,42.74 L630.7,42.74 L631.2,42.74 L631.7,42.74 L632.2,42.74 L632.7,42.74 L633.2,42.74 L633.7,42.74 L634.2,42.74 L634.7,42.74 L635.2,42.74" fill="none" stroke="#e41a1c" stroke-width="1.5" stroke-linejoin="round" stroke-linecap="butt" />
<path d="M395.7,157 L396.2,156.99 L396.7,156.99 L397.2,156.99 L397.7,156.98 L398.2,156.98 L398.7,156.97 L399.2,156.96 L399.7,156.96 L400.2,156.96 L400.7,156.95 L401.2,156.94 L401.7,156.94 L402.2,156.93 L402.7,156.93 L403.2,156.93 L403.7,156.92 L404.2,156.91 L404.7,156.91 L405.2,156.9 L405.7,156.89 L406.2,156.88 L406.7,156.86 L407.2,156.84 L407.7,156.82 L408.2,156.8 L408.7,156.79 L409.2,156.77 L409.7,156.75 L410.2,156.73 L410.7,156.71 L411.2,156.69 L411.7,156.67 L412.2,156.65 L412.7,156.63 L413.2,156.61 L413.7,156.6 L414.2,156.58 L414.7,156.56 L415.2,156.54 L415.7,156.51 L416.2,156.47 L416.7,156.42 L417.2,156.34 L417.7,156.27 L418.2,156.19 L418.7,156.11 L419.2,156.03 L419.7,155.96 L420.2,155.88 L420.7,155.79 L421.2,155.7 L421.7,155.6 L422.2,155.5 L422.7,155.4 L423.2,155.3 L423.7,155.2 L424.2,155.1 L424.7,155 L425.2,154.91 L425.7,154.83 L426.2,154.77 L426.7,154.73 L427.2,154.69 L427.7,154.65 L428.2,154.61 L428.7,154.58 L429.2,154.54 L429.7,154.51 L430.2,154.49 L430.7,154.48 L431.2,154.47 L431.7,154.46 L432.2,154.45 L432.7,154.43 L433.2,154.42 L433.7,154.41 L434.2,154.34 L434.7,154.23 L435.2,154.07 L435.7,153.88 L436.2,153.7 L436.7,153.52 L437.2,153.33 L437.7,153.12 L438.2,152.83 L438.7,152.48 L439.2,152.06 L439.7,151.63 L440.2,151.2 L440.7,150.73 L441.2,150.22 L441.7,149.66 L442.2,149.07 L442.7,148.48 L443.2,147.92 L443.7,147.47 L444.2,147.13 L444.7,146.9 L445.2,146.7 L445.7,146.52 L446.2,146.39 L446.7,146.33 L447.2,146.32 L447.7,146.33 L448.2,146.35 L448.7,146.36 L449.2,146.37 L449.7,146.38 L450.2,146.31 L450.7,146.07 L451.2,145.65 L451.7,145.07 L452.2,144.47 L452.7,143.87 L453.2,143.2 L453.7,142.45 L454.2,141.6 L454.7,140.68 L455.2,139.62 L455.7,138.4 L456.2,137.02 L456.7,135.53 L457.2,134.02 L457.7,132.49 L458.2,130.94 L458.7,129.38 L459.2,127.8 L459.7,126.18 L460.2,124.51 L460.7,122.79 L461.2,121.07 L461.7,119.45 L462.2,118 L462.7,116.73 L463.2,115.59 L463.7,114.48 L464.2,113.47 L464.7,112.6 L465.2,111.84 L465.7,111.14 L466.2,110.44 L466.7,109.71 L467.2,108.79 L467.7,107.66 L468.2,106.28 L468.7,104.66 L469.2,102.88 L469.7,100.94 L470.2,98.96 L470.7,97.02 L471.2,95.2 L471.7,93.52 L472.2,91.97 L472.7,90.45 L473.2,88.94 L473.7,87.49 L474.2,86.43 L474.7,85.8 L475.2,85.6 L475.7,85.6 L476.2,85.6 L476.7,85.6 L477.2,85.6 L477.7,85.6 L478.2,85.6 L478.7,85.6 L479.2,85.6 L479.7,85.6 L480.2,85.58 L480.7,85.14 L481.2,84.12 L481.7,82.53 L482.2,80.51 L482.7,78.47 L483.2,76.47 L483.7,74.57 L484.2,72.77 L484.7,71.08 L485.2,69.53 L485.7,68.18 L486.2,67.05 L486.7,66.11 L487.2,65.21 L487.7,64.31 L488.2,63.44 L488.7,62.68 L489.2,62.05 L489.7,61.54 L490.2,61.06 L490.7,60.58 L491.2,60.1 L491.7,59.62 L492.2,59.22 L492.7,58.91 L493.2,58.69 L493.7,58.55 L494.2,58.41 L494.7,58.3 L495.2,58.23 L495.7,58.2 L496.2,58.2 L496.7,58.2 L497.2,58.2 L497.7,58.2 L498.2,58.2 L498.7,58.19 L499.2,58.1 L499.7,57.92 L500.2,57.67 L500.7,57.37 L501.2,57.08 L501.7,56.78 L502.2,56.49 L502.7,56.19 L503.2,55.91 L503.7,55.66 L504.2,55.45 L504.7,55.28 L505.2,55.12 L505.7,54.95 L506.2,54.8 L506.7,54.69 L507.2,54.62 L507.7,54.6 L508.2,54.6 L508.7,54.6 L509.2,54.6 L509.7,54.6 L510.2,54.57 L510.7,54.46 L511.2,54.29 L511.7,54.05 L512.2,53.8 L512.7,53.55 L513.2,53.3 L513.7,53.05 L514.2,52.8 L514.7,52.55 L515.2,52.28 L515.7,52 L516.2,51.7 L516.7,51.4 L517.2,51.1 L517.7,50.8 L518.2,50.52 L518.7,50.33 L519.2,50.22 L519.7,50.2 L520.2,50.2 L520.7,50.2 L521.2,50.2 L521.7,50.2 L522.2,50.2 L522.7,50.2 L523.2,50.2 L523.7,50.2 L524.2,50.2 L524.7,50.16 L525.2,50.03 L525.7,49.82 L526.2,49.53 L526.7,49.22 L527.2,48.92 L527.7,48.61 L528.2,48.31 L528.7,48.05 L529.2,47.81 L529.7,47.6 L530.2,47.4 L530.7,47.2 L531.2,47 L531.7,46.8 L532.2,46.64 L532.7,46.52 L533.2,46.44 L533.7,46.4 L534.2,46.36 L534.7,46.32 L535.2,46.28 L535.7,46.24 L536.2,46.2 L536.7,46.16 L537.2,46.12 L537.7,46.08 L538.2,46.04 L538.7,45.99 L539.2,45.93 L539.7,45.87 L540.2,45.8 L540.7,45.73 L541.2,45.67 L541.7,45.61 L542.2,45.56 L542.7,45.51 L543.2,45.47 L543.7,45.42 L544.2,45.38 L544.7,45.34 L545.2,45.3 L545.7,45.27 L546.2,45.25 L546.7,45.25 L547.2,45.25 L547.7,45.25 L548.2,45.25 L548.7,45.25 L549.2,45.25 L549.7,45.25 L550.2,45.25 L550.7,45.25 L551.2,45.25 L551.7,45.25 L552.2,45.25 L552.7,45.25 L553.2,45.25 L553.7,45.25 L554.2,45.25 L554.7,45.25 L555.2,45.25 L555.7,45.25 L556.2,45.25 L556.7,45.25 L557.2,45.25 L557.7,45.25 L558.2,45.25 L558.7,45.25 L559.2,45.25 L559.7,45.25 L560.2,45.25 L560.7,45.25 L561.2,45.25 L561.7,45.25 L562.2,45.25 L562.7,45.25 L563.2,45.25 L563.7,45.25 L564.2,45.25 L564.7,45.25 L565.2,45.25 L565.7,45.25 L566.2,45.25 L566.7,45.25 L567.2,45.25 L567.7,45.25 L568.2,45.25 L568.7,45.25 L569.2,45.25 L569.7,45.25 L570.2,45.25 L570.7,45.25 L571.2,45.25 L571.7,45.25 L572.2,45.25 L572.7,45.25 L573.2,45.25 L573.7,45.25 L574.2,45.25 L574.7,45.25 L575.2,45.25 L575.7,45.25 L576.2,45.25 L576.7,45.25 L577.2,45.25 L577.7,45.25 L578.2,45.25 L578.7,45.25 L579.2,45.25 L579.7,45.25 L580.2,45.25 L580.7,45.25 L581.2,45.25 L581.7,45.25 L582.2,45.25 L582.7,45.25 L583.2,45.25 L583.7,45.25 L584.2,45.25 L584.7,45.25 L585.2,45.25 L585.7,45.25 L586.2,45.25 L586.7,45.25 L587.2,45.25 L587.7,45.25 L588.2,45.25 L588.7,45.25 L589.2,45.25 L589.7,45.25 L590.2,45.25 L590.7,45.25 L591.2,45.25 L591.7,45.25 L592.2,45.25 L592.7,45.25 L593.2,45.25 L593.7,45.25 L594.2,45.25 L594.7,45.25 L595.2,45.25 L595.7,45.25 L596.2,45.25 L596.7,45.25 L597.2,45.25 L597.7,45.25 L598.2,45.25 L598.7,45.25 L599.2,45.25 L599.7,45.25 L600.2,45.25 L600.7,45.25 L601.2,45.25 L601.7,45.25 L602.2,45.25 L602.7,45.25 L603.2,45.25 L603.7,45.25 L604.2,45.25 L604.7,45.25 L605.2,45.25 L605.7,45.25 L606.2,45.25 L606.7,45.25 L607.2,45.25 L607.7,45.25 L608.2,45.25 L608.7,45.25 L609.2,45.25 L609.7,45.25 L610.2,45.25 L610.7,45.25 L611.2,45.25 L611.7,45.25 L612.2,45.25 L612.7,45.25 L613.2,45.25 L613.7,45.25 L614.2,45.25 L614.7,45.25 L615.2,45.25 L615.7,45.25 L616.2,45.25 L616.7,45.25 L617.2,45.25 L617.7,45.25 L618.2,45.25 L618.7,45.25 L619.2,45.25 L619.7,45.25 L620.2,45.25 L620.7,45.25 L621.2,45.25 L621.7,45.25 L622.2,45.25 L622.7,45.25 L623.2,45.25 L623.7,45.25 L624.2,45.25 L624.7,45.25 L625.2,45.25 L625.7,45.25 L626.2,45.25 L626.7,45.25 L627.2,45.25 L627.7,45.25 L628.2,45.25 L628.7,45.25 L629.2,45.25 L629.7,45.25 L630.2,45.25 L630.7,45.25 L631.2,45.25 L631.7,45.25 L632.2,45.25 L632.7,45.25 L633.2,45.25 L633.7,45.25 L634.2,45.25 L634.7,45.25 L635.2,45.25" fill="none" stroke="#1aa67a" stroke-width="1.5" stroke-linejoin="round" stroke-linecap="butt" />
<path d="M395.7,30.9 V157 H635.22" fill="none" stroke="#888888" stroke-width="1"/>
<path d="M391.2,157 H395.7 M391.2,125.47 H395.7 M391.2,93.95 H395.7 M391.2,62.43 H395.7 M391.2,30.9 H395.7 M395.7,157 v4.5 M405.68,157 v4.5 M415.66,157 v4.5 M425.64,157 v4.5 M435.62,157 v4.5 M445.6,157 v4.5 M455.58,157 v4.5 M465.56,157 v4.5 M475.54,157 v4.5 M485.52,157 v4.5 M495.5,157 v4.5 M505.48,157 v4.5 M515.46,157 v4.5 M525.44,157 v4.5 M535.42,157 v4.5 M545.4,157 v4.5 M555.38,157 v4.5 M565.36,157 v4.5 M575.34,157 v4.5 M585.32,157 v4.5 M595.3,157 v4.5 M605.28,157 v4.5 M615.26,157 v4.5 M625.24,157 v4.5 M635.22,157 v4.5 " fill="none" stroke="#888888" stroke-width="0.9"/>
<text x="387.3" y="159.85" text-anchor="end" font-size="8.1" fill="#555555" stroke="#555555" stroke-width="0.14">0</text>
<text x="387.3" y="128.32" text-anchor="end" font-size="8.1" fill="#555555" stroke="#555555" stroke-width="0.14">25</text>
<text x="387.3" y="96.8" text-anchor="end" font-size="8.1" fill="#555555" stroke="#555555" stroke-width="0.14">50</text>
<text x="387.3" y="65.28" text-anchor="end" font-size="8.1" fill="#555555" stroke="#555555" stroke-width="0.14">75</text>
<text x="387.3" y="33.75" text-anchor="end" font-size="8.1" fill="#555555" stroke="#555555" stroke-width="0.14">100</text>
<text transform="translate(362,93.9) rotate(-90)" text-anchor="middle" font-size="9.55" fill="#1a1a1a" stroke="#1a1a1a" stroke-width="0.22">Vaccine coverage (%)</text>
<text x="395.8" y="20.1" font-size="8.22" fill="#1a1a1a" stroke="#1a1a1a" stroke-width="0.22">Strategy 2: 3+ years</text>
<text x="418.4" y="38.1" font-size="8.15" fill="#1a1a1a" stroke="#1a1a1a" stroke-width="0.22">Age group</text>
<rect x="418.7" y="44.3" width="14.6" height="14.3" fill="#1f7fc4" fill-opacity="0.33"/>
<path d="M419.4,51.45 h13.2" stroke="#1f7fc4" stroke-width="1.5" fill="none"/>
<text x="438.9" y="54.3" font-size="8.15" fill="#1a1a1a" stroke="#1a1a1a" stroke-width="0.22">3-11</text>
<rect x="418.7" y="60.8" width="14.6" height="14.3" fill="#e41a1c" fill-opacity="0.33"/>
<path d="M419.4,67.95 h13.2" stroke="#e41a1c" stroke-width="1.5" fill="none"/>
<text x="438.9" y="70.8" font-size="8.15" fill="#1a1a1a" stroke="#1a1a1a" stroke-width="0.22">12+</text>
<rect x="418.7" y="77.3" width="14.6" height="14.3" fill="#1aa67a" fill-opacity="0.33"/>
<path d="M419.4,84.45 h13.2" stroke="#1aa67a" stroke-width="1.5" fill="none"/>
<text x="438.9" y="87.3" font-size="8.15" fill="#1a1a1a" stroke="#1a1a1a" stroke-width="0.22">Total</text>
<path d="M518.15,109.45 H628.75 M545.85,121.25 H628.75 M518.15,132.25 H628.75 M518.15,154.5 H628.75" stroke="#555555" stroke-width="0.85" fill="none"/>
<g font-size="6.75" text-anchor="middle">
<text x="587.05" y="118.3" fill="#1a1a1a" stroke="#1a1a1a" stroke-width="0.22">Age group</text>
<text x="531.65" y="123.2" fill="#1a1a1a" stroke="#1a1a1a" stroke-width="0.22">Date</text>
<text x="559.35" y="129.2" fill="#3f8fd0" stroke="#3f8fd0" stroke-width="0.22">3-11</text>
<text x="587.05" y="129.2" fill="#e2373f" stroke="#e2373f" stroke-width="0.22">12+</text>
<text x="614.95" y="129.2" fill="#2aa87c" stroke="#2aa87c" stroke-width="0.22">Total</text>
<text x="531.65" y="140.1" fill="#1a1a1a" stroke="#1a1a1a" stroke-width="0.22">Dec-01</text>
<text x="559.35" y="140.1" fill="#3f8fd0" stroke="#3f8fd0" stroke-width="0.22">87.8%</text>
<text x="587.05" y="140.1" fill="#e2373f" stroke="#e2373f" stroke-width="0.22">84.6%</text>
<text x="614.95" y="140.1" fill="#2aa87c" stroke="#2aa87c" stroke-width="0.22">82.8%</text>
<text x="531.65" y="151.0" fill="#1a1a1a" stroke="#1a1a1a" stroke-width="0.22">Mar-23</text>
<text x="559.35" y="151.0" fill="#3f8fd0" stroke="#3f8fd0" stroke-width="0.22">95.2%</text>
<text x="587.05" y="151.0" fill="#e2373f" stroke="#e2373f" stroke-width="0.22">90.5%</text>
<text x="614.95" y="151.0" fill="#2aa87c" stroke="#2aa87c" stroke-width="0.22">88.7%</text>
</g>
<text x="345" y="12.7" font-size="9.1" font-weight="bold" fill="#000" stroke="#000" stroke-width="0.22">b</text>
<path d="M176.76,203.5 V330.2" fill="none" stroke="#c2c2c2" stroke-width="1" stroke-dasharray="5.6 4.7"/>
<path d="M57,203.5 V330.2 H296.52" fill="none" stroke="#888888" stroke-width="1"/>
<path d="M52.5,330.2 H57 M52.5,304.86 H57 M52.5,279.52 H57 M52.5,254.18 H57 M52.5,228.84 H57 M52.5,203.5 H57 M57,330.2 v4.5 M66.98,330.2 v4.5 M76.96,330.2 v4.5 M86.94,330.2 v4.5 M96.92,330.2 v4.5 M106.9,330.2 v4.5 M116.88,330.2 v4.5 M126.86,330.2 v4.5 M136.84,330.2 v4.5 M146.82,330.2 v4.5 M156.8,330.2 v4.5 M166.78,330.2 v4.5 M176.76,330.2 v4.5 M186.74,330.2 v4.5 M196.72,330.2 v4.5 M206.7,330.2 v4.5 M216.68,330.2 v4.5 M226.66,330.2 v4.5 M236.64,330.2 v4.5 M246.62,330.2 v4.5 M256.6,330.2 v4.5 M266.58,330.2 v4.5 M276.56,330.2 v4.5 M286.54,330.2 v4.5 M296.52,330.2 v4.5 " fill="none" stroke="#888888" stroke-width="0.9"/>
<text x="48.6" y="333.05" text-anchor="end" font-size="8.1" fill="#555555" stroke="#555555" stroke-width="0.14">0</text>
<text x="48.6" y="307.71" text-anchor="end" font-size="8.1" fill="#555555" stroke="#555555" stroke-width="0.14">50</text>
<text x="48.6" y="282.37" text-anchor="end" font-size="8.1" fill="#555555" stroke="#555555" stroke-width="0.14">100</text>
<text x="48.6" y="257.03" text-anchor="end" font-size="8.1" fill="#555555" stroke="#555555" stroke-width="0.14">150</text>
<text x="48.6" y="231.69" text-anchor="end" font-size="8.1" fill="#555555" stroke="#555555" stroke-width="0.14">200</text>
<text x="48.6" y="206.35" text-anchor="end" font-size="8.1" fill="#555555" stroke="#555555" stroke-width="0.14">250</text>
<path d="M176.76,330.2 L177.01,330.2 L177.26,330.2 L177.51,330.2 L177.76,330.2 L178.01,330.2 L178.26,330.2 L178.51,330.2 L178.76,330.19 L179.01,330.19 L179.26,330.19 L179.51,330.19 L179.76,330.18 L180.01,330.18 L180.26,330.17 L180.51,330.16 L180.76,330.14 L181.01,330.13 L181.26,330.11 L181.51,330.08 L181.76,330.05 L182.01,330.01 L182.26,329.96 L182.51,329.89 L182.76,329.81 L183.01,329.72 L183.26,329.6 L183.51,329.46 L183.76,329.29 L184.01,329.08 L184.26,328.83 L184.51,328.53 L184.76,328.18 L185.01,327.77 L185.26,327.28 L185.51,326.71 L185.76,326.05 L186.01,325.28 L186.26,324.4 L186.51,323.4 L186.76,322.25 L187.01,320.95 L187.26,319.49 L187.51,317.84 L187.76,316.02 L188.01,313.99 L188.26,311.75 L188.51,309.3 L188.76,306.63 L189.01,303.74 L189.26,300.62 L189.51,297.28 L189.76,293.73 L190.01,289.97 L190.26,286.02 L190.51,281.91 L190.76,277.64 L191.01,273.24 L191.26,268.76 L191.51,264.21 L191.76,259.64 L192.01,255.09 L192.26,250.6 L192.51,246.22 L192.76,241.99 L193.01,237.96 L193.26,234.17 L193.51,230.66 L193.76,227.49 L194.01,224.69 L194.26,222.29 L194.51,220.32 L194.76,218.82 L195.01,217.79 L195.26,217.26 L195.51,217.23 L195.76,217.64 L196.01,218.49 L196.26,219.77 L196.51,221.45 L196.76,223.53 L197.01,225.98 L197.26,228.76 L197.51,231.86 L197.76,235.24 L198.01,238.85 L198.26,242.68 L198.51,246.44 L198.76,249.99 L199.01,253.53 L199.26,257.06 L199.51,260.54 L199.76,263.97 L200.01,267.31 L200.26,270.57 L200.51,273.74 L200.76,276.79 L201.01,279.74 L201.26,282.57 L201.51,285.29 L201.76,287.88 L202.01,290.36 L202.26,292.71 L202.51,294.95 L202.76,297.08 L203.01,299.09 L203.26,301 L203.51,302.8 L203.76,304.5 L204.01,306.1 L204.26,307.61 L204.51,309.03 L204.76,310.36 L205.01,311.62 L205.26,312.79 L205.51,313.9 L205.76,314.93 L206.01,315.9 L206.26,316.81 L206.51,317.67 L206.76,318.46 L207.01,319.21 L207.26,319.91 L207.51,320.56 L207.76,321.17 L208.01,321.74 L208.26,322.28 L208.51,322.78 L208.76,323.25 L209.01,323.68 L209.26,324.09 L209.51,324.47 L209.76,324.83 L210.01,325.16 L210.26,325.47 L210.51,325.76 L210.76,326.04 L211.01,326.29 L211.26,326.53 L211.51,326.75 L211.76,326.96 L212.01,327.16 L212.26,327.34 L212.51,327.51 L212.76,327.67 L213.01,327.82 L213.26,327.96 L213.51,328.09 L213.76,328.21 L214.01,328.33 L214.26,328.44 L214.51,328.54 L214.76,328.63 L215.01,328.72 L215.26,328.81 L215.51,328.89 L215.76,328.96 L216.01,329.03 L216.26,329.09 L216.51,329.15 L216.76,329.21 L217.01,329.27 L217.26,329.32 L217.51,329.36 L217.76,329.41 L218.01,329.45 L218.26,329.49 L218.51,329.53 L218.76,329.56 L219.01,329.6 L219.26,329.63 L219.51,329.66 L219.76,329.69 L296.52,330.2 L296.52,330.2 L219.76,330.2 L219.51,330.2 L219.26,330.2 L219.01,330.2 L218.76,330.2 L218.51,330.2 L218.26,330.2 L218.01,330.2 L217.76,330.2 L217.51,330.2 L217.26,330.2 L217.01,330.2 L216.76,330.2 L216.51,330.2 L216.26,330.2 L216.01,330.2 L215.76,330.2 L215.51,330.2 L215.26,330.2 L215.01,330.2 L214.76,330.2 L214.51,330.2 L214.26,330.2 L214.01,330.2 L213.76,330.19 L213.51,330.19 L213.26,330.19 L213.01,330.19 L212.76,330.19 L212.51,330.18 L212.26,330.18 L212.01,330.18 L211.76,330.17 L211.51,330.17 L211.26,330.16 L211.01,330.15 L210.76,330.14 L210.51,330.13 L210.26,330.11 L210.01,330.09 L209.76,330.07 L209.51,330.04 L209.26,330.01 L209.01,329.97 L208.76,329.92 L208.51,329.87 L208.26,329.81 L208.01,329.73 L207.76,329.64 L207.51,329.54 L207.26,329.42 L207.01,329.28 L206.76,329.11 L206.51,328.92 L206.26,328.7 L206.01,328.45 L205.76,328.16 L205.51,327.83 L205.26,327.45 L205.01,327.02 L204.76,326.53 L204.51,325.97 L204.26,325.35 L204.01,324.66 L203.76,323.88 L203.51,323.02 L203.26,322.07 L203.01,321.02 L202.76,319.88 L202.51,318.63 L202.26,317.28 L202.01,315.82 L201.76,314.26 L201.51,312.6 L201.26,310.84 L201.01,309 L200.76,307.07 L200.51,305.08 L200.26,303.03 L200.01,300.95 L199.76,298.85 L199.51,296.69 L199.26,294.56 L199.01,292.52 L198.76,290.58 L198.51,288.78 L198.26,287.14 L198.01,285.7 L197.76,284.47 L197.51,283.48 L197.26,282.74 L197.01,282.27 L196.76,282.06 L196.51,282.14 L196.26,282.54 L196.01,283.23 L195.76,284.22 L195.51,285.47 L195.26,286.98 L195.01,288.7 L194.76,290.62 L194.51,292.69 L194.26,294.88 L194.01,297.16 L193.76,299.49 L193.51,301.85 L193.26,304.19 L193.01,306.49 L192.76,308.73 L192.51,310.89 L192.26,312.94 L192.01,314.87 L191.76,316.67 L191.51,318.34 L191.26,319.88 L191.01,321.27 L190.76,322.52 L190.51,323.64 L190.26,324.64 L190.01,325.51 L189.76,326.27 L189.51,326.93 L189.26,327.5 L189.01,327.98 L188.76,328.39 L188.51,328.73 L188.26,329.02 L188.01,329.25 L187.76,329.45 L187.51,329.61 L187.26,329.73 L187.01,329.84 L186.76,329.92 L186.51,329.98 L186.26,330.03 L186.01,330.07 L185.76,330.1 L185.51,330.13 L185.26,330.15 L185.01,330.16 L184.76,330.17 L184.51,330.18 L184.26,330.18 L184.01,330.19 L183.76,330.19 L183.51,330.19 L183.26,330.2 L183.01,330.2 L182.76,330.2 L182.51,330.2 L182.26,330.2 L182.01,330.2 L181.76,330.2 L181.51,330.2 L181.26,330.2 L181.01,330.2 L180.76,330.2 L180.51,330.2 L180.26,330.2 L180.01,330.2 L179.76,330.2 L179.51,330.2 L179.26,330.2 L179.01,330.2 L178.76,330.2 L178.51,330.2 L178.26,330.2 L178.01,330.2 L177.76,330.2 L177.51,330.2 L177.26,330.2 L177.01,330.2 L176.76,330.2Z" fill="#fcdfce" fill-opacity="0.9"/>
<path d="M176.76,330.2 L177.01,330.2 L177.26,330.2 L177.51,330.2 L177.76,330.2 L178.01,330.2 L178.26,330.2 L178.51,330.2 L178.76,330.2 L179.01,330.2 L179.26,330.2 L179.51,330.2 L179.76,330.2 L180.01,330.2 L180.26,330.19 L180.51,330.19 L180.76,330.19 L181.01,330.19 L181.26,330.18 L181.51,330.17 L181.76,330.17 L182.01,330.16 L182.26,330.14 L182.51,330.12 L182.76,330.1 L183.01,330.07 L183.26,330.04 L183.51,329.99 L183.76,329.94 L184.01,329.87 L184.26,329.78 L184.51,329.68 L184.76,329.55 L185.01,329.4 L185.26,329.21 L185.51,328.99 L185.76,328.72 L186.01,328.4 L186.26,328.02 L186.51,327.58 L186.76,327.06 L187.01,326.46 L187.26,325.76 L187.51,324.95 L187.76,324.04 L188.01,322.99 L188.26,321.81 L188.51,320.48 L188.76,319 L189.01,317.35 L189.26,315.53 L189.51,313.53 L189.76,311.36 L190.01,309 L190.26,306.46 L190.51,303.74 L190.76,300.86 L191.01,297.81 L191.26,294.63 L191.51,291.32 L191.76,287.9 L192.01,284.41 L192.26,280.86 L192.51,277.3 L192.76,273.75 L193.01,270.25 L193.26,266.85 L193.51,263.57 L193.76,260.46 L194.01,257.56 L194.26,254.89 L194.51,252.51 L194.76,250.44 L195.01,248.7 L195.26,247.33 L195.51,246.34 L195.76,245.75 L196.01,245.56 L196.26,245.78 L196.51,246.41 L196.76,247.43 L197.01,248.83 L197.26,250.59 L197.51,252.69 L197.76,255.1 L198.01,257.78 L198.26,260.7 L198.51,263.83 L198.76,267.12 L199.01,270.52 L199.26,273.67 L199.51,276.82 L199.76,279.93 L200.01,282.99 L200.26,285.98 L200.51,288.88 L200.76,291.68 L201.01,294.37 L201.26,296.94 L201.51,299.39 L201.76,301.71 L202.01,303.9 L202.26,305.96 L202.51,307.9 L202.76,309.71 L203.01,311.4 L203.26,312.98 L203.51,314.44 L203.76,315.79 L204.01,317.05 L204.26,318.2 L204.51,319.27 L204.76,320.25 L205.01,321.15 L205.26,321.97 L205.51,322.73 L205.76,323.42 L206.01,324.05 L206.26,324.63 L206.51,325.15 L206.76,325.63 L207.01,326.06 L207.26,326.46 L207.51,326.82 L207.76,327.14 L208.01,327.44 L208.26,327.7 L208.51,327.94 L208.76,328.16 L209.01,328.36 L209.26,328.54 L209.51,328.7 L209.76,328.85 L210.01,328.98 L210.26,329.1 L210.51,329.21 L210.76,329.3 L211.01,329.39 L211.26,329.47 L211.51,329.54 L211.76,329.61 L212.01,329.66 L212.26,329.72 L212.51,329.76 L212.76,329.81 L213.01,329.84 L213.26,329.88 L213.51,329.91 L213.76,329.94 L214.01,329.96 L214.26,329.99 L214.51,330.01 L214.76,330.03 L215.01,330.04 L215.26,330.06 L215.51,330.07 L215.76,330.08 L216.01,330.09 L216.26,330.1 L216.51,330.11 L216.76,330.12 L217.01,330.13 L217.26,330.14 L217.51,330.14 L217.76,330.15 L218.01,330.15 L218.26,330.16 L218.51,330.16 L218.76,330.16 L219.01,330.17 L219.26,330.17 L219.51,330.17 L219.76,330.18 L296.52,330.2" fill="none" stroke="#f5a880" stroke-width="1.6" stroke-linejoin="round" stroke-linecap="butt" stroke-opacity="0.92"/>
<path d="M57,330.2 H296.52" stroke="#888888" stroke-width="1" stroke-opacity="0.6" fill="none"/>
<text transform="translate(23.3,266.6) rotate(-90)" text-anchor="middle" font-size="9.55" fill="#1a1a1a" stroke="#1a1a1a" stroke-width="0.22">Daily incidence (per 10,000)</text>
<text x="6.6" y="202.5" font-size="9.1" font-weight="bold" fill="#000" stroke="#000" stroke-width="0.22">c</text>
<path d="M515.46,203.5 V330.2" fill="none" stroke="#c2c2c2" stroke-width="1" stroke-dasharray="5.6 4.7"/>
<path d="M395.7,203.5 V330.2 H635.22" fill="none" stroke="#888888" stroke-width="1"/>
<path d="M391.2,330.2 H395.7 M391.2,304.86 H395.7 M391.2,279.52 H395.7 M391.2,254.18 H395.7 M391.2,228.84 H395.7 M391.2,203.5 H395.7 M395.7,330.2 v4.5 M405.68,330.2 v4.5 M415.66,330.2 v4.5 M425.64,330.2 v4.5 M435.62,330.2 v4.5 M445.6,330.2 v4.5 M455.58,330.2 v4.5 M465.56,330.2 v4.5 M475.54,330.2 v4.5 M485.52,330.2 v4.5 M495.5,330.2 v4.5 M505.48,330.2 v4.5 M515.46,330.2 v4.5 M525.44,330.2 v4.5 M535.42,330.2 v4.5 M545.4,330.2 v4.5 M555.38,330.2 v4.5 M565.36,330.2 v4.5 M575.34,330.2 v4.5 M585.32,330.2 v4.5 M595.3,330.2 v4.5 M605.28,330.2 v4.5 M615.26,330.2 v4.5 M625.24,330.2 v4.5 M635.22,330.2 v4.5 " fill="none" stroke="#888888" stroke-width="0.9"/>
<text x="387.3" y="333.05" text-anchor="end" font-size="8.1" fill="#555555" stroke="#555555" stroke-width="0.14">0</text>
<text x="387.3" y="307.71" text-anchor="end" font-size="8.1" fill="#555555" stroke="#555555" stroke-width="0.14">50</text>
<text x="387.3" y="282.37" text-anchor="end" font-size="8.1" fill="#555555" stroke="#555555" stroke-width="0.14">100</text>
<text x="387.3" y="257.03" text-anchor="end" font-size="8.1" fill="#555555" stroke="#555555" stroke-width="0.14">150</text>
<text x="387.3" y="231.69" text-anchor="end" font-size="8.1" fill="#555555" stroke="#555555" stroke-width="0.14">200</text>
<text x="387.3" y="206.35" text-anchor="end" font-size="8.1" fill="#555555" stroke="#555555" stroke-width="0.14">250</text>
<path d="M515.46,330.2 L515.71,330.2 L515.96,330.2 L516.21,330.2 L516.46,330.2 L516.71,330.2 L516.96,330.2 L517.21,330.2 L517.46,330.2 L517.71,330.2 L517.96,330.2 L518.21,330.2 L518.46,330.2 L518.71,330.2 L518.96,330.2 L519.21,330.19 L519.46,330.19 L519.71,330.19 L519.96,330.19 L520.21,330.18 L520.46,330.18 L520.71,330.17 L520.96,330.16 L521.21,330.15 L521.46,330.14 L521.71,330.12 L521.96,330.1 L522.21,330.07 L522.46,330.03 L522.71,329.98 L522.96,329.93 L523.21,329.85 L523.46,329.77 L523.71,329.66 L523.96,329.53 L524.21,329.37 L524.46,329.18 L524.71,328.95 L524.96,328.68 L525.21,328.35 L525.46,327.97 L525.71,327.51 L525.96,326.98 L526.21,326.36 L526.46,325.64 L526.71,324.8 L526.96,323.85 L527.21,322.76 L527.46,321.52 L527.71,320.12 L527.96,318.55 L528.21,316.78 L528.46,314.83 L528.71,312.66 L528.96,310.28 L529.21,307.67 L529.46,304.84 L529.71,301.77 L529.96,298.48 L530.21,294.96 L530.46,291.23 L530.71,287.29 L530.96,283.16 L531.21,278.87 L531.46,274.43 L531.71,269.88 L531.96,265.24 L532.21,260.56 L532.46,255.87 L532.71,251.22 L532.96,246.65 L533.21,242.2 L533.46,237.93 L533.71,233.88 L533.96,230.11 L534.21,226.64 L534.46,223.53 L534.71,220.81 L534.96,218.52 L535.21,216.69 L535.46,215.34 L535.71,214.49 L535.96,214.15 L536.21,214.3 L536.46,214.91 L536.71,215.96 L536.96,217.44 L537.21,219.33 L537.46,221.62 L537.71,224.28 L537.96,227.27 L538.21,230.57 L538.46,234.14 L538.71,237.94 L538.96,241.94 L539.21,245.64 L539.46,249.29 L539.71,252.92 L539.96,256.53 L540.21,260.08 L540.46,263.57 L540.71,266.97 L540.96,270.28 L541.21,273.49 L541.46,276.58 L541.71,279.56 L541.96,282.42 L542.21,285.16 L542.46,287.77 L542.71,290.27 L542.96,292.64 L543.21,294.89 L543.46,297.03 L543.71,299.05 L543.96,300.96 L544.21,302.77 L544.46,304.48 L544.71,306.08 L544.96,307.59 L545.21,309.02 L545.46,310.35 L545.71,311.61 L545.96,312.79 L546.21,313.89 L546.46,314.93 L546.71,315.9 L546.96,316.81 L547.21,317.66 L547.46,318.46 L547.71,319.21 L547.96,319.91 L548.21,320.56 L548.46,321.17 L548.71,321.74 L548.96,322.28 L549.21,322.77 L549.46,323.24 L549.71,323.68 L549.96,324.09 L550.21,324.47 L550.46,324.82 L550.71,325.16 L550.96,325.47 L551.21,325.76 L551.46,326.03 L551.71,326.29 L551.96,326.53 L552.21,326.75 L552.46,326.96 L552.71,327.15 L552.96,327.33 L553.21,327.51 L553.46,327.66 L553.71,327.81 L553.96,327.96 L554.21,328.09 L554.46,328.21 L554.71,328.33 L554.96,328.43 L555.21,328.53 L555.46,328.63 L555.71,328.72 L555.96,328.8 L556.21,328.88 L556.46,328.96 L556.71,329.02 L556.96,329.09 L557.21,329.15 L557.46,329.21 L557.71,329.26 L557.96,329.31 L558.21,329.36 L558.46,329.41 L558.71,329.45 L558.96,329.49 L559.21,329.53 L559.46,329.56 L559.71,329.59 L559.96,329.63 L560.21,329.65 L560.46,329.68 L635.22,330.2 L635.22,330.2 L560.46,330.2 L560.21,330.2 L559.96,330.2 L559.71,330.2 L559.46,330.2 L559.21,330.2 L558.96,330.2 L558.71,330.2 L558.46,330.2 L558.21,330.2 L557.96,330.2 L557.71,330.2 L557.46,330.2 L557.21,330.2 L556.96,330.2 L556.71,330.2 L556.46,330.2 L556.21,330.2 L555.96,330.2 L555.71,330.2 L555.46,330.2 L555.21,330.2 L554.96,330.2 L554.71,330.2 L554.46,330.19 L554.21,330.19 L553.96,330.19 L553.71,330.19 L553.46,330.19 L553.21,330.19 L552.96,330.18 L552.71,330.18 L552.46,330.17 L552.21,330.17 L551.96,330.16 L551.71,330.15 L551.46,330.14 L551.21,330.13 L550.96,330.11 L550.71,330.09 L550.46,330.07 L550.21,330.04 L549.96,330.01 L549.71,329.97 L549.46,329.93 L549.21,329.88 L548.96,329.81 L548.71,329.74 L548.46,329.65 L548.21,329.55 L547.96,329.43 L547.71,329.29 L547.46,329.13 L547.21,328.94 L546.96,328.72 L546.71,328.47 L546.46,328.18 L546.21,327.85 L545.96,327.47 L545.71,327.04 L545.46,326.55 L545.21,325.99 L544.96,325.37 L544.71,324.67 L544.46,323.89 L544.21,323.02 L543.96,322.06 L543.71,320.99 L543.46,319.83 L543.21,318.56 L542.96,317.18 L542.71,315.69 L542.46,314.09 L542.21,312.39 L541.96,310.57 L541.71,308.67 L541.46,306.67 L541.21,304.6 L540.96,302.47 L540.71,300.29 L540.46,298.09 L540.21,295.85 L539.96,293.58 L539.71,291.38 L539.46,289.29 L539.21,287.34 L538.96,285.54 L538.71,283.94 L538.46,282.56 L538.21,281.41 L537.96,280.52 L537.71,279.91 L537.46,279.58 L537.21,279.54 L536.96,279.82 L536.71,280.43 L536.46,281.35 L536.21,282.56 L535.96,284.04 L535.71,285.77 L535.46,287.71 L535.21,289.82 L534.96,292.08 L534.71,294.45 L534.46,296.89 L534.21,299.36 L533.96,301.84 L533.71,304.28 L533.46,306.67 L533.21,308.97 L532.96,311.18 L532.71,313.27 L532.46,315.22 L532.21,317.04 L531.96,318.71 L531.71,320.23 L531.46,321.61 L531.21,322.84 L530.96,323.94 L530.71,324.91 L530.46,325.76 L530.21,326.49 L529.96,327.13 L529.71,327.67 L529.46,328.13 L529.21,328.52 L528.96,328.84 L528.71,329.11 L528.46,329.33 L528.21,329.51 L527.96,329.66 L527.71,329.78 L527.46,329.87 L527.21,329.95 L526.96,330.01 L526.71,330.05 L526.46,330.09 L526.21,330.12 L525.96,330.14 L525.71,330.15 L525.46,330.17 L525.21,330.17 L524.96,330.18 L524.71,330.19 L524.46,330.19 L524.21,330.19 L523.96,330.2 L523.71,330.2 L523.46,330.2 L523.21,330.2 L522.96,330.2 L522.71,330.2 L522.46,330.2 L522.21,330.2 L521.96,330.2 L521.71,330.2 L521.46,330.2 L521.21,330.2 L520.96,330.2 L520.71,330.2 L520.46,330.2 L520.21,330.2 L519.96,330.2 L519.71,330.2 L519.46,330.2 L519.21,330.2 L518.96,330.2 L518.71,330.2 L518.46,330.2 L518.21,330.2 L517.96,330.2 L517.71,330.2 L517.46,330.2 L517.21,330.2 L516.96,330.2 L516.71,330.2 L516.46,330.2 L516.21,330.2 L515.96,330.2 L515.71,330.2 L515.46,330.2Z" fill="#d6eec8" fill-opacity="0.9"/>
<path d="M515.46,330.2 L515.71,330.2 L515.96,330.2 L516.21,330.2 L516.46,330.2 L516.71,330.2 L516.96,330.2 L517.21,330.2 L517.46,330.2 L517.71,330.2 L517.96,330.2 L518.21,330.2 L518.46,330.2 L518.71,330.2 L518.96,330.2 L519.21,330.2 L519.46,330.2 L519.71,330.2 L519.96,330.2 L520.21,330.2 L520.46,330.2 L520.71,330.19 L520.96,330.19 L521.21,330.19 L521.46,330.19 L521.71,330.18 L521.96,330.18 L522.21,330.17 L522.46,330.16 L522.71,330.15 L522.96,330.13 L523.21,330.11 L523.46,330.09 L523.71,330.06 L523.96,330.02 L524.21,329.97 L524.46,329.91 L524.71,329.83 L524.96,329.73 L525.21,329.62 L525.46,329.48 L525.71,329.3 L525.96,329.1 L526.21,328.85 L526.46,328.55 L526.71,328.2 L526.96,327.79 L527.21,327.3 L527.46,326.74 L527.71,326.08 L527.96,325.32 L528.21,324.45 L528.46,323.46 L528.71,322.33 L528.96,321.06 L529.21,319.63 L529.46,318.04 L529.71,316.28 L529.96,314.34 L530.21,312.21 L530.46,309.9 L530.71,307.41 L530.96,304.72 L531.21,301.86 L531.46,298.84 L531.71,295.65 L531.96,292.32 L532.21,288.88 L532.46,285.33 L532.71,281.72 L532.96,278.07 L533.21,274.41 L533.46,270.78 L533.71,267.23 L533.96,263.78 L534.21,260.47 L534.46,257.36 L534.71,254.47 L534.96,251.85 L535.21,249.53 L535.46,247.53 L535.71,245.9 L535.96,244.65 L536.21,243.79 L536.46,243.35 L536.71,243.32 L536.96,243.72 L537.21,244.52 L537.46,245.73 L537.71,247.32 L537.96,249.27 L538.21,251.56 L538.46,254.14 L538.71,257 L538.96,260.09 L539.21,263.37 L539.46,266.81 L539.71,270.2 L539.96,273.44 L540.21,276.66 L540.46,279.84 L540.71,282.96 L540.96,285.99 L541.21,288.93 L541.46,291.76 L541.71,294.47 L541.96,297.06 L542.21,299.52 L542.46,301.85 L542.71,304.05 L542.96,306.12 L543.21,308.06 L543.46,309.87 L543.71,311.56 L543.96,313.13 L544.21,314.58 L544.46,315.93 L544.71,317.18 L544.96,318.33 L545.21,319.39 L545.46,320.36 L545.71,321.25 L545.96,322.07 L546.21,322.82 L546.46,323.5 L546.71,324.13 L546.96,324.7 L547.21,325.22 L547.46,325.69 L547.71,326.12 L547.96,326.51 L548.21,326.86 L548.46,327.18 L548.71,327.47 L548.96,327.74 L549.21,327.98 L549.46,328.19 L549.71,328.39 L549.96,328.56 L550.21,328.72 L550.46,328.87 L550.71,329 L550.96,329.12 L551.21,329.22 L551.46,329.32 L551.71,329.4 L551.96,329.48 L552.21,329.55 L552.46,329.62 L552.71,329.67 L552.96,329.72 L553.21,329.77 L553.46,329.81 L553.71,329.85 L553.96,329.88 L554.21,329.91 L554.46,329.94 L554.71,329.97 L554.96,329.99 L555.21,330.01 L555.46,330.03 L555.71,330.04 L555.96,330.06 L556.21,330.07 L556.46,330.09 L556.71,330.1 L556.96,330.11 L557.21,330.11 L557.46,330.12 L557.71,330.13 L557.96,330.14 L558.21,330.14 L558.46,330.15 L558.71,330.15 L558.96,330.16 L559.21,330.16 L559.46,330.16 L559.71,330.17 L559.96,330.17 L560.21,330.17 L560.46,330.18 L635.22,330.2" fill="none" stroke="#a5da88" stroke-width="1.6" stroke-linejoin="round" stroke-linecap="butt" stroke-opacity="0.92"/>
<path d="M395.7,330.2 H635.22" stroke="#888888" stroke-width="1" stroke-opacity="0.6" fill="none"/>
<text transform="translate(362,266.6) rotate(-90)" text-anchor="middle" font-size="9.55" fill="#1a1a1a" stroke="#1a1a1a" stroke-width="0.22">Daily incidence (per 10,000)</text>
<text x="345" y="202.5" font-size="9.1" font-weight="bold" fill="#000" stroke="#000" stroke-width="0.22">d</text>
<rect x="57" y="467.2" width="239.52" height="21" fill="#f1f1f1"/>
<path d="M176.76,362.2 V488.2" fill="none" stroke="#c2c2c2" stroke-width="1" stroke-dasharray="5.6 4.7"/>
<path d="M196.7,467.2 V488" stroke="#cfcfd6" stroke-width="0.8" stroke-dasharray="1 2.2" fill="none"/>
<path d="M176.8,390.68 L177.2,390.88 L177.6,391.15 L178,391.48 L178.4,391.81 L178.8,392.16 L179.2,392.52 L179.6,392.89 L180,393.27 L180.4,393.66 L180.8,394.05 L181.2,394.44 L181.6,394.83 L182,395.22 L182.4,395.66 L182.8,396.17 L183.2,396.75 L183.6,397.4 L184,398.1 L184.4,398.8 L184.8,399.5 L185.2,400.2 L185.6,400.9 L186,401.72 L186.4,402.69 L186.8,403.84 L187.2,405.14 L187.6,406.56 L188,408.15 L188.4,409.97 L188.8,412.03 L189.2,414.33 L189.6,416.86 L190,419.46 L190.4,422.13 L190.8,424.85 L191.2,427.56 L191.6,430.17 L192,432.66 L192.4,435.03 L192.8,437.3 L193.2,439.54 L193.6,441.78 L194,444.02 L194.4,446.26 L194.8,448.44 L195.2,450.48 L195.6,452.39 L196,454.15 L196.4,455.81 L196.8,457.45 L197.2,459.08 L197.6,460.72 L198,462.32 L198.4,463.85 L198.8,465.32 L199.2,466.74 L199.6,468.09 L200,469.32 L200.4,470.4 L200.8,471.33 L201.2,472.11 L201.6,472.83 L202,473.54 L202.4,474.18 L202.8,474.74 L203.2,475.22 L203.6,475.61 L204,475.97 L204.4,476.34 L204.8,476.7 L205.2,477.05 L205.6,477.36 L206,477.62 L206.4,477.85 L206.8,478.03 L207.2,478.21 L207.6,478.38 L208,478.55 L208.4,478.72 L208.8,478.89 L209.2,479.04 L209.6,479.16 L210,479.24 L210.4,479.3 L210.8,479.34 L211.2,479.39 L211.6,479.43 L212,479.48 L212.4,479.52 L212.8,479.57 L213.2,479.61 L213.6,479.65 L214,479.68 L214.4,479.69 L214.8,479.7 L215.2,479.7 L215.6,479.7 L216,479.7 L216.4,479.7 L216.8,479.7 L217.2,479.7 L217.6,479.7 L218,479.7 L218.4,479.7 L218.8,479.7 L219.2,479.7 L219.6,479.7 L220,479.7 L220.4,479.7 L220.8,479.7 L221.2,479.7 L221.6,479.7 L222,479.7 L222.4,479.7 L222.8,479.7 L223.2,479.7 L223.6,479.7 L224,479.7 L224.4,479.7 L224.8,479.7 L225.2,479.7 L225.6,479.7 L226,479.7 L226.4,479.7 L226.8,479.7 L227.2,479.7 L227.6,479.7 L228,479.7 L228.4,479.7 L228.8,479.7 L229.2,479.7 L229.6,479.7 L230,479.7 L230.4,479.7 L230.8,479.7 L231.2,479.7 L231.6,479.7 L232,479.7 L232.4,479.7 L232.8,479.7 L233.2,479.7 L233.6,479.7 L234,479.7 L234.4,479.7 L234.8,479.7 L235.2,479.7 L235.6,479.7 L236,479.7 L236.4,479.7 L236.8,479.7 L237.2,479.7 L237.6,479.7 L238,479.7 L238.4,479.7 L238.8,479.7 L239.2,479.7 L239.6,479.7 L240,479.7 L240.4,479.7 L240.8,479.7 L241.2,479.7 L241.6,479.7 L242,479.7 L242.4,479.7 L242.8,479.7 L243.2,479.7 L243.6,479.7 L244,479.7 L244.4,479.7 L244.8,479.7 L245.2,479.7 L245.6,479.7 L246,479.7 L246.4,479.7 L246.8,479.7 L247.2,479.7 L247.6,479.7 L248,479.7 L248.4,479.7 L248.8,479.7 L249.2,479.7 L249.6,479.7 L250,479.7 L250.4,479.7 L250.8,479.7 L251.2,479.7 L251.6,479.7 L252,479.7 L252.4,479.7 L252.8,479.7 L253.2,479.7 L253.6,479.7 L254,479.7 L254.4,479.7 L254.8,479.7 L255.2,479.7 L255.6,479.7 L256,479.7 L256.4,479.7 L256.8,479.7 L257.2,479.7 L257.6,479.7 L258,479.7 L258.4,479.7 L258.8,479.7 L259.2,479.7 L259.6,479.7 L260,479.7 L260.4,479.7 L260.8,479.7 L261.2,479.7 L261.6,479.7 L262,479.7 L262.4,479.7 L262.8,479.7 L263.2,479.7 L263.6,479.7 L264,479.7 L264.4,479.7 L264.8,479.7 L265.2,479.7 L265.6,479.7 L266,479.7 L266.4,479.7 L266.8,479.7 L267.2,479.7 L267.6,479.7 L268,479.7 L268.4,479.7 L268.8,479.7 L269.2,479.7 L269.6,479.7 L270,479.7 L270.4,479.7 L270.8,479.7 L271.2,479.7 L271.6,479.7 L272,479.7 L272.4,479.7 L272.8,479.7 L273.2,479.7 L273.6,479.7 L274,479.7 L274.4,479.7 L274.8,479.7 L275.2,479.7 L275.6,479.7 L276,479.7 L276.4,479.7 L276.8,479.7 L277.2,479.7 L277.6,479.7 L278,479.7 L278.4,479.7 L278.8,479.7 L279.2,479.7 L279.6,479.7 L280,479.7 L280.4,479.7 L280.8,479.7 L281.2,479.7 L281.6,479.7 L282,479.7 L282.4,479.7 L282.8,479.7 L283.2,479.7 L283.6,479.7 L284,479.7 L284.4,479.7 L284.8,479.7 L285.2,479.7 L285.6,479.7 L286,479.7 L286.4,479.7 L286.8,479.7 L287.2,479.7 L287.6,479.7 L288,479.7 L288.4,479.7 L288.8,479.7 L289.2,479.7 L289.6,479.7 L290,479.7 L290.4,479.7 L290.8,479.7 L291.2,479.7 L291.6,479.7 L292,479.7 L292.4,479.7 L292.8,479.7 L293.2,479.7 L293.6,479.7 L294,479.7 L294.4,479.7 L294.8,479.7 L295.2,479.7 L295.6,479.7 L296,479.7 L296.4,479.7 L296.4,483.6 L296,483.6 L295.6,483.6 L295.2,483.6 L294.8,483.6 L294.4,483.6 L294,483.6 L293.6,483.6 L293.2,483.6 L292.8,483.6 L292.4,483.6 L292,483.6 L291.6,483.6 L291.2,483.6 L290.8,483.6 L290.4,483.6 L290,483.6 L289.6,483.6 L289.2,483.6 L288.8,483.6 L288.4,483.6 L288,483.6 L287.6,483.6 L287.2,483.6 L286.8,483.6 L286.4,483.6 L286,483.6 L285.6,483.6 L285.2,483.6 L284.8,483.6 L284.4,483.6 L284,483.6 L283.6,483.6 L283.2,483.6 L282.8,483.6 L282.4,483.6 L282,483.6 L281.6,483.6 L281.2,483.6 L280.8,483.6 L280.4,483.6 L280,483.6 L279.6,483.6 L279.2,483.6 L278.8,483.6 L278.4,483.6 L278,483.6 L277.6,483.6 L277.2,483.6 L276.8,483.6 L276.4,483.6 L276,483.6 L275.6,483.6 L275.2,483.6 L274.8,483.6 L274.4,483.6 L274,483.6 L273.6,483.6 L273.2,483.6 L272.8,483.6 L272.4,483.6 L272,483.6 L271.6,483.6 L271.2,483.6 L270.8,483.6 L270.4,483.6 L270,483.6 L269.6,483.6 L269.2,483.6 L268.8,483.6 L268.4,483.6 L268,483.6 L267.6,483.6 L267.2,483.6 L266.8,483.6 L266.4,483.6 L266,483.6 L265.6,483.6 L265.2,483.6 L264.8,483.6 L264.4,483.6 L264,483.6 L263.6,483.6 L263.2,483.6 L262.8,483.6 L262.4,483.6 L262,483.6 L261.6,483.6 L261.2,483.6 L260.8,483.6 L260.4,483.6 L260,483.6 L259.6,483.6 L259.2,483.6 L258.8,483.6 L258.4,483.6 L258,483.6 L257.6,483.6 L257.2,483.6 L256.8,483.6 L256.4,483.6 L256,483.6 L255.6,483.6 L255.2,483.6 L254.8,483.6 L254.4,483.6 L254,483.6 L253.6,483.6 L253.2,483.6 L252.8,483.6 L252.4,483.6 L252,483.6 L251.6,483.6 L251.2,483.6 L250.8,483.6 L250.4,483.6 L250,483.6 L249.6,483.6 L249.2,483.6 L248.8,483.6 L248.4,483.6 L248,483.6 L247.6,483.6 L247.2,483.6 L246.8,483.6 L246.4,483.6 L246,483.6 L245.6,483.6 L245.2,483.6 L244.8,483.6 L244.4,483.6 L244,483.6 L243.6,483.6 L243.2,483.6 L242.8,483.6 L242.4,483.6 L242,483.6 L241.6,483.6 L241.2,483.6 L240.8,483.6 L240.4,483.6 L240,483.6 L239.6,483.6 L239.2,483.6 L238.8,483.6 L238.4,483.6 L238,483.6 L237.6,483.6 L237.2,483.6 L236.8,483.6 L236.4,483.6 L236,483.6 L235.6,483.6 L235.2,483.6 L234.8,483.6 L234.4,483.6 L234,483.6 L233.6,483.6 L233.2,483.6 L232.8,483.6 L232.4,483.6 L232,483.6 L231.6,483.6 L231.2,483.6 L230.8,483.6 L230.4,483.6 L230,483.6 L229.6,483.6 L229.2,483.6 L228.8,483.6 L228.4,483.6 L228,483.6 L227.6,483.6 L227.2,483.6 L226.8,483.6 L226.4,483.6 L226,483.6 L225.6,483.6 L225.2,483.6 L224.8,483.6 L224.4,483.6 L224,483.6 L223.6,483.6 L223.2,483.6 L222.8,483.6 L222.4,483.6 L222,483.6 L221.6,483.6 L221.2,483.6 L220.8,483.6 L220.4,483.6 L220,483.6 L219.6,483.6 L219.2,483.6 L218.8,483.6 L218.4,483.6 L218,483.6 L217.6,483.6 L217.2,483.6 L216.8,483.6 L216.4,483.6 L216,483.6 L215.6,483.6 L215.2,483.6 L214.8,483.6 L214.4,483.6 L214,483.6 L213.6,483.6 L213.2,483.6 L212.8,483.6 L212.4,483.6 L212,483.6 L211.6,483.6 L211.2,483.6 L210.8,483.6 L210.4,483.6 L210,483.6 L209.6,483.6 L209.2,483.6 L208.8,483.6 L208.4,483.6 L208,483.59 L207.6,483.57 L207.2,483.55 L206.8,483.52 L206.4,483.49 L206,483.46 L205.6,483.43 L205.2,483.39 L204.8,483.36 L204.4,483.32 L204,483.25 L203.6,483.16 L203.2,483.05 L202.8,482.93 L202.4,482.8 L202,482.68 L201.6,482.55 L201.2,482.38 L200.8,482.14 L200.4,481.84 L200,481.47 L199.6,481.06 L199.2,480.64 L198.8,480.23 L198.4,479.72 L198,479.09 L197.6,478.32 L197.2,477.42 L196.8,476.36 L196.4,475.12 L196,473.7 L195.6,472.11 L195.2,470.37 L194.8,468.6 L194.4,466.81 L194,465.01 L193.6,463.19 L193.2,461.36 L192.8,459.53 L192.4,457.7 L192,455.87 L191.6,454 L191.2,451.96 L190.8,449.74 L190.4,447.34 L190,444.76 L189.6,442.15 L189.2,439.54 L188.8,436.92 L188.4,434.29 L188,431.65 L187.6,429.09 L187.2,426.92 L186.8,425.14 L186.4,423.91 L186,423.25 L185.6,422.89 L185.2,422.7 L184.8,422.65 L184.4,422.6 L184,422.55 L183.6,422.5 L183.2,422.44 L182.8,422.38 L182.4,422.3 L182,422.21 L181.6,422.12 L181.2,422.03 L180.8,421.93 L180.4,421.84 L180,421.75 L179.6,421.65 L179.2,421.56 L178.8,421.47 L178.4,421.37 L178,421.28 L177.6,421.19 L177.2,421.11 L176.8,421.05Z" fill="#fcdfce"/>
<path d="M176.8,403.38 L177.2,403.58 L177.6,403.86 L178,404.2 L178.4,404.57 L178.8,404.97 L179.2,405.39 L179.6,405.81 L180,406.15 L180.4,406.43 L180.8,406.63 L181.2,406.77 L181.6,406.9 L182,407.03 L182.4,407.17 L182.8,407.3 L183.2,407.44 L183.6,407.61 L184,407.8 L184.4,408.01 L184.8,408.27 L185.2,408.65 L185.6,409.13 L186,409.77 L186.4,410.72 L186.8,411.88 L187.2,413.33 L187.6,415.28 L188,417.61 L188.4,420.28 L188.8,423.27 L189.2,426.31 L189.6,429.19 L190,431.86 L190.4,434.33 L190.8,436.6 L191.2,438.78 L191.6,440.96 L192,443.13 L192.4,445.31 L192.8,447.48 L193.2,449.62 L193.6,451.72 L194,453.78 L194.4,455.8 L194.8,457.8 L195.2,459.8 L195.6,461.8 L196,463.79 L196.4,465.69 L196.8,467.49 L197.2,469.19 L197.6,470.78 L198,472.21 L198.4,473.52 L198.8,474.72 L199.2,475.69 L199.6,476.49 L200,477.15 L200.4,477.69 L200.8,478.13 L201.2,478.57 L201.6,479.01 L202,479.41 L202.4,479.76 L202.8,480.04 L203.2,480.27 L203.6,480.45 L204,480.64 L204.4,480.82 L204.8,480.97 L205.2,481.1 L205.6,481.2 L206,481.28 L206.4,481.35 L206.8,481.42 L207.2,481.49 L207.6,481.54 L208,481.58 L208.4,481.6 L208.8,481.6 L209.2,481.6 L209.6,481.6 L210,481.6 L210.4,481.6 L210.8,481.6 L211.2,481.6 L211.6,481.6 L212,481.6 L212.4,481.6 L212.8,481.6 L213.2,481.6 L213.6,481.6 L214,481.6 L214.4,481.6 L214.8,481.6 L215.2,481.6 L215.6,481.6 L216,481.6 L216.4,481.6 L216.8,481.6 L217.2,481.6 L217.6,481.6 L218,481.6 L218.4,481.6 L218.8,481.6 L219.2,481.6 L219.6,481.6 L220,481.6 L220.4,481.6 L220.8,481.6 L221.2,481.6 L221.6,481.6 L222,481.6 L222.4,481.6 L222.8,481.6 L223.2,481.6 L223.6,481.6 L224,481.6 L224.4,481.6 L224.8,481.6 L225.2,481.6 L225.6,481.6 L226,481.6 L226.4,481.6 L226.8,481.6 L227.2,481.6 L227.6,481.6 L228,481.6 L228.4,481.6 L228.8,481.6 L229.2,481.6 L229.6,481.6 L230,481.6 L230.4,481.6 L230.8,481.6 L231.2,481.6 L231.6,481.6 L232,481.6 L232.4,481.6 L232.8,481.6 L233.2,481.6 L233.6,481.6 L234,481.6 L234.4,481.6 L234.8,481.6 L235.2,481.6 L235.6,481.6 L236,481.6 L236.4,481.6 L236.8,481.6 L237.2,481.6 L237.6,481.6 L238,481.6 L238.4,481.6 L238.8,481.6 L239.2,481.6 L239.6,481.6 L240,481.6 L240.4,481.6 L240.8,481.6 L241.2,481.6 L241.6,481.6 L242,481.6 L242.4,481.6 L242.8,481.6 L243.2,481.6 L243.6,481.6 L244,481.6 L244.4,481.6 L244.8,481.6 L245.2,481.6 L245.6,481.6 L246,481.6 L246.4,481.6 L246.8,481.6 L247.2,481.6 L247.6,481.6 L248,481.6 L248.4,481.6 L248.8,481.6 L249.2,481.6 L249.6,481.6 L250,481.6 L250.4,481.6 L250.8,481.6 L251.2,481.6 L251.6,481.6 L252,481.6 L252.4,481.6 L252.8,481.6 L253.2,481.6 L253.6,481.6 L254,481.6 L254.4,481.6 L254.8,481.6 L255.2,481.6 L255.6,481.6 L256,481.6 L256.4,481.6 L256.8,481.6 L257.2,481.6 L257.6,481.6 L258,481.6 L258.4,481.6 L258.8,481.6 L259.2,481.6 L259.6,481.6 L260,481.6 L260.4,481.6 L260.8,481.6 L261.2,481.6 L261.6,481.6 L262,481.6 L262.4,481.6 L262.8,481.6 L263.2,481.6 L263.6,481.6 L264,481.6 L264.4,481.6 L264.8,481.6 L265.2,481.6 L265.6,481.6 L266,481.6 L266.4,481.6 L266.8,481.6 L267.2,481.6 L267.6,481.6 L268,481.6 L268.4,481.6 L268.8,481.6 L269.2,481.6 L269.6,481.6 L270,481.6 L270.4,481.6 L270.8,481.6 L271.2,481.6 L271.6,481.6 L272,481.6 L272.4,481.6 L272.8,481.6 L273.2,481.6 L273.6,481.6 L274,481.6 L274.4,481.6 L274.8,481.6 L275.2,481.6 L275.6,481.6 L276,481.6 L276.4,481.6 L276.8,481.6 L277.2,481.6 L277.6,481.6 L278,481.6 L278.4,481.6 L278.8,481.6 L279.2,481.6 L279.6,481.6 L280,481.6 L280.4,481.6 L280.8,481.6 L281.2,481.6 L281.6,481.6 L282,481.6 L282.4,481.6 L282.8,481.6 L283.2,481.6 L283.6,481.6 L284,481.6 L284.4,481.6 L284.8,481.6 L285.2,481.6 L285.6,481.6 L286,481.6 L286.4,481.6 L286.8,481.6 L287.2,481.6 L287.6,481.6 L288,481.6 L288.4,481.6 L288.8,481.6 L289.2,481.6 L289.6,481.6 L290,481.6 L290.4,481.6 L290.8,481.6 L291.2,481.6 L291.6,481.6 L292,481.6 L292.4,481.6 L292.8,481.6 L293.2,481.6 L293.6,481.6 L294,481.6 L294.4,481.6 L294.8,481.6 L295.2,481.6 L295.6,481.6 L296,481.6 L296.4,481.6" fill="none" stroke="#f5a880" stroke-width="1.65" stroke-linejoin="round" stroke-linecap="butt" />
<path d="M57,362.2 V488.2 H296.52" fill="none" stroke="#888888" stroke-width="1"/>
<path d="M52.5,488.2 H57 M52.5,467.2 H57 M52.5,446.2 H57 M52.5,425.2 H57 M52.5,404.2 H57 M52.5,383.2 H57 M52.5,362.2 H57 M57,488.2 v4.5 M66.98,488.2 v4.5 M76.96,488.2 v4.5 M86.94,488.2 v4.5 M96.92,488.2 v4.5 M106.9,488.2 v4.5 M116.88,488.2 v4.5 M126.86,488.2 v4.5 M136.84,488.2 v4.5 M146.82,488.2 v4.5 M156.8,488.2 v4.5 M166.78,488.2 v4.5 M176.76,488.2 v4.5 M186.74,488.2 v4.5 M196.72,488.2 v4.5 M206.7,488.2 v4.5 M216.68,488.2 v4.5 M226.66,488.2 v4.5 M236.64,488.2 v4.5 M246.62,488.2 v4.5 M256.6,488.2 v4.5 M266.58,488.2 v4.5 M276.56,488.2 v4.5 M286.54,488.2 v4.5 M296.52,488.2 v4.5 " fill="none" stroke="#888888" stroke-width="0.9"/>
<text x="48.6" y="491.05" text-anchor="end" font-size="8.1" fill="#555555" stroke="#555555" stroke-width="0.14">0</text>
<text x="48.6" y="470.05" text-anchor="end" font-size="8.1" fill="#555555" stroke="#555555" stroke-width="0.14">1</text>
<text x="48.6" y="449.05" text-anchor="end" font-size="8.1" fill="#555555" stroke="#555555" stroke-width="0.14">2</text>
<text x="48.6" y="428.05" text-anchor="end" font-size="8.1" fill="#555555" stroke="#555555" stroke-width="0.14">3</text>
<text x="48.6" y="407.05" text-anchor="end" font-size="8.1" fill="#555555" stroke="#555555" stroke-width="0.14">4</text>
<text x="48.6" y="386.05" text-anchor="end" font-size="8.1" fill="#555555" stroke="#555555" stroke-width="0.14">5</text>
<text x="48.6" y="365.05" text-anchor="end" font-size="8.1" fill="#555555" stroke="#555555" stroke-width="0.14">6</text>
<text transform="translate(22.4,424.7) rotate(-90)" text-anchor="middle" font-size="9.55" fill="#1a1a1a" stroke="#1a1a1a" stroke-width="0.22">Reproduction number (<tspan font-style="italic">R</tspan><tspan font-size="5.6" dy="1.6">e</tspan><tspan dy="-1.6">)</tspan></text>
<text x="197.8" y="465.9" font-size="8.15" fill="#1a1a1a" stroke="#1a1a1a" stroke-width="0.22">Jan-31</text>
<text x="6.3" y="360.5" font-size="9.1" font-weight="bold" fill="#000" stroke="#000" stroke-width="0.22">e</text>
<rect x="395.7" y="467.2" width="239.52" height="21" fill="#f1f1f1"/>
<path d="M515.46,362.2 V488.2" fill="none" stroke="#c2c2c2" stroke-width="1" stroke-dasharray="5.6 4.7"/>
<path d="M537.1,467.2 V488" stroke="#cfcfd6" stroke-width="0.8" stroke-dasharray="1 2.2" fill="none"/>
<path d="M515.6,419.9 L516,420.02 L516.4,420.18 L516.8,420.37 L517.2,420.54 L517.6,420.7 L518,420.84 L518.4,420.96 L518.8,421.07 L519.2,421.17 L519.6,421.26 L520,421.32 L520.4,421.36 L520.8,421.4 L521.2,421.43 L521.6,421.46 L522,421.49 L522.4,421.53 L522.8,421.56 L523.2,421.59 L523.6,421.62 L524,421.65 L524.4,421.69 L524.8,421.72 L525.2,421.76 L525.6,421.86 L526,422.01 L526.4,422.21 L526.8,422.51 L527.2,422.91 L527.6,423.39 L528,424.08 L529.1,425.08 L529.5,426.31 L529.9,427.79 L530.3,428.66 L530.7,430.38 L531.1,432.18 L531.5,434.07 L531.9,436.05 L532.3,438.11 L532.7,440.19 L533.1,442.28 L533.5,444.4 L533.9,446.54 L534.3,448.71 L534.7,450.9 L535.1,453.1 L535.5,455.3 L535.9,457.41 L536.3,459.4 L536.7,461.26 L537.1,463.01 L537.5,464.68 L537.9,466.38 L538.3,468.06 L538.7,469.63 L539.1,471.07 L539.5,472.34 L539.9,473.38 L540.3,474.27 L540.7,475.05 L541.1,476.51 L541.5,477.08 L541.9,477.58 L542.3,478.02 L542.7,478.39 L542.4,478.71 L542.8,478.99 L543.2,479.21 L543.6,479.4 L544,479.54 L544.4,479.69 L544.8,479.84 L545.2,479.96 L545.6,480.07 L546,480.15 L546.4,480.2 L546.8,480.25 L547.2,480.3 L547.6,480.34 L548,480.37 L548.4,480.39 L548.8,480.4 L549.2,480.4 L549.6,480.4 L550,480.4 L550.4,480.4 L550.8,480.4 L551.2,480.4 L551.6,480.4 L552,480.4 L552.4,480.4 L552.8,480.4 L553.2,480.4 L553.6,480.4 L554,480.4 L554.4,480.4 L554.8,480.4 L555.2,480.4 L555.6,480.4 L556,480.4 L556.4,480.4 L556.8,480.4 L557.2,480.4 L557.6,480.4 L558,480.4 L558.4,480.4 L558.8,480.4 L559.2,480.4 L559.6,480.4 L560,480.4 L560.4,480.4 L560.8,480.4 L561.2,480.4 L561.6,480.4 L562,480.4 L562.4,480.4 L562.8,480.4 L563.2,480.4 L563.6,480.4 L564,480.4 L564.4,480.4 L564.8,480.4 L565.2,480.4 L565.6,480.4 L566,480.4 L566.4,480.4 L566.8,480.4 L567.2,480.4 L567.6,480.4 L568,480.4 L568.4,480.4 L568.8,480.4 L569.2,480.4 L569.6,480.4 L570,480.4 L570.4,480.4 L570.8,480.4 L571.2,480.4 L571.6,480.4 L572,480.4 L572.4,480.4 L572.8,480.4 L573.2,480.4 L573.6,480.4 L574,480.4 L574.4,480.4 L574.8,480.4 L575.2,480.4 L575.6,480.4 L576,480.4 L576.4,480.4 L576.8,480.4 L577.2,480.4 L577.6,480.4 L578,480.4 L578.4,480.4 L578.8,480.4 L579.2,480.4 L579.6,480.4 L580,480.4 L580.4,480.4 L580.8,480.4 L581.2,480.4 L581.6,480.4 L582,480.4 L582.4,480.4 L582.8,480.4 L583.2,480.4 L583.6,480.4 L584,480.4 L584.4,480.4 L584.8,480.4 L585.2,480.4 L585.6,480.4 L586,480.4 L586.4,480.4 L586.8,480.4 L587.2,480.4 L587.6,480.4 L588,480.4 L588.4,480.4 L588.8,480.4 L589.2,480.4 L589.6,480.4 L590,480.4 L590.4,480.4 L590.8,480.4 L591.2,480.4 L591.6,480.4 L592,480.4 L592.4,480.4 L592.8,480.4 L593.2,480.4 L593.6,480.4 L594,480.4 L594.4,480.4 L594.8,480.4 L595.2,480.4 L595.6,480.4 L596,480.4 L596.4,480.4 L596.8,480.4 L597.2,480.4 L597.6,480.4 L598,480.4 L598.4,480.4 L598.8,480.4 L599.2,480.4 L599.6,480.4 L600,480.4 L600.4,480.4 L600.8,480.4 L601.2,480.4 L601.6,480.4 L602,480.4 L602.4,480.4 L602.8,480.4 L603.2,480.4 L603.6,480.4 L604,480.4 L604.4,480.4 L604.8,480.4 L605.2,480.4 L605.6,480.4 L606,480.4 L606.4,480.4 L606.8,480.4 L607.2,480.4 L607.6,480.4 L608,480.4 L608.4,480.4 L608.8,480.4 L609.2,480.4 L609.6,480.4 L610,480.4 L610.4,480.4 L610.8,480.4 L611.2,480.4 L611.6,480.4 L612,480.4 L612.4,480.4 L612.8,480.4 L613.2,480.4 L613.6,480.4 L614,480.4 L614.4,480.4 L614.8,480.4 L615.2,480.4 L615.6,480.4 L616,480.4 L616.4,480.4 L616.8,480.4 L617.2,480.4 L617.6,480.4 L618,480.4 L618.4,480.4 L618.8,480.4 L619.2,480.4 L619.6,480.4 L620,480.4 L620.4,480.4 L620.8,480.4 L621.2,480.4 L621.6,480.4 L622,480.4 L622.4,480.4 L622.8,480.4 L623.2,480.4 L623.6,480.4 L624,480.4 L624.4,480.4 L624.8,480.4 L625.2,480.4 L625.6,480.4 L626,480.4 L626.4,480.4 L626.8,480.4 L627.2,480.4 L627.6,480.4 L628,480.4 L628.4,480.4 L628.8,480.4 L629.2,480.4 L629.6,480.4 L630,480.4 L630.4,480.4 L630.8,480.4 L631.2,480.4 L631.6,480.4 L632,480.4 L632.4,480.4 L632.8,480.4 L633.2,480.4 L633.6,480.4 L634,480.4 L634.4,480.4 L634.8,480.4 L635.2,480.4 L635.2,483.4 L634.8,483.4 L634.4,483.4 L634,483.4 L633.6,483.4 L633.2,483.4 L632.8,483.4 L632.4,483.4 L632,483.4 L631.6,483.4 L631.2,483.4 L630.8,483.4 L630.4,483.4 L630,483.4 L629.6,483.4 L629.2,483.4 L628.8,483.4 L628.4,483.4 L628,483.4 L627.6,483.4 L627.2,483.4 L626.8,483.4 L626.4,483.4 L626,483.4 L625.6,483.4 L625.2,483.4 L624.8,483.4 L624.4,483.4 L624,483.4 L623.6,483.4 L623.2,483.4 L622.8,483.4 L622.4,483.4 L622,483.4 L621.6,483.4 L621.2,483.4 L620.8,483.4 L620.4,483.4 L620,483.4 L619.6,483.4 L619.2,483.4 L618.8,483.4 L618.4,483.4 L618,483.4 L617.6,483.4 L617.2,483.4 L616.8,483.4 L616.4,483.4 L616,483.4 L615.6,483.4 L615.2,483.4 L614.8,483.4 L614.4,483.4 L614,483.4 L613.6,483.4 L613.2,483.4 L612.8,483.4 L612.4,483.4 L612,483.4 L611.6,483.4 L611.2,483.4 L610.8,483.4 L610.4,483.4 L610,483.4 L609.6,483.4 L609.2,483.4 L608.8,483.4 L608.4,483.4 L608,483.4 L607.6,483.4 L607.2,483.4 L606.8,483.4 L606.4,483.4 L606,483.4 L605.6,483.4 L605.2,483.4 L604.8,483.4 L604.4,483.4 L604,483.4 L603.6,483.4 L603.2,483.4 L602.8,483.4 L602.4,483.4 L602,483.4 L601.6,483.4 L601.2,483.4 L600.8,483.4 L600.4,483.4 L600,483.4 L599.6,483.4 L599.2,483.4 L598.8,483.4 L598.4,483.4 L598,483.4 L597.6,483.4 L597.2,483.4 L596.8,483.4 L596.4,483.4 L596,483.4 L595.6,483.4 L595.2,483.4 L594.8,483.4 L594.4,483.4 L594,483.4 L593.6,483.4 L593.2,483.4 L592.8,483.4 L592.4,483.4 L592,483.4 L591.6,483.4 L591.2,483.4 L590.8,483.4 L590.4,483.4 L590,483.4 L589.6,483.4 L589.2,483.4 L588.8,483.4 L588.4,483.4 L588,483.4 L587.6,483.4 L587.2,483.4 L586.8,483.4 L586.4,483.4 L586,483.4 L585.6,483.4 L585.2,483.4 L584.8,483.4 L584.4,483.4 L584,483.4 L583.6,483.4 L583.2,483.4 L582.8,483.4 L582.4,483.4 L582,483.4 L581.6,483.4 L581.2,483.4 L580.8,483.4 L580.4,483.4 L580,483.4 L579.6,483.4 L579.2,483.4 L578.8,483.4 L578.4,483.4 L578,483.4 L577.6,483.4 L577.2,483.4 L576.8,483.4 L576.4,483.4 L576,483.4 L575.6,483.4 L575.2,483.4 L574.8,483.4 L574.4,483.4 L574,483.4 L573.6,483.4 L573.2,483.4 L572.8,483.4 L572.4,483.4 L572,483.4 L571.6,483.4 L571.2,483.4 L570.8,483.4 L570.4,483.4 L570,483.4 L569.6,483.4 L569.2,483.4 L568.8,483.4 L568.4,483.4 L568,483.4 L567.6,483.4 L567.2,483.4 L566.8,483.4 L566.4,483.4 L566,483.4 L565.6,483.4 L565.2,483.4 L564.8,483.4 L564.4,483.4 L564,483.4 L563.6,483.4 L563.2,483.4 L562.8,483.4 L562.4,483.4 L562,483.4 L561.6,483.4 L561.2,483.4 L560.8,483.4 L560.4,483.4 L560,483.4 L559.6,483.4 L559.2,483.4 L558.8,483.4 L558.4,483.4 L558,483.4 L557.6,483.4 L557.2,483.4 L556.8,483.4 L556.4,483.4 L556,483.4 L555.6,483.4 L555.2,483.4 L554.8,483.4 L554.4,483.4 L554,483.4 L553.6,483.4 L553.2,483.4 L552.8,483.4 L552.4,483.4 L552,483.4 L551.6,483.4 L551.2,483.4 L550.8,483.4 L550.4,483.4 L550,483.4 L549.6,483.4 L549.2,483.4 L548.8,483.4 L548.4,483.39 L548,483.37 L547.6,483.34 L547.2,483.3 L546.8,483.25 L546.4,483.2 L546,483.15 L545.6,483.07 L545.2,482.96 L544.8,482.84 L544.4,482.69 L544,482.54 L543.6,482.4 L543.2,482.21 L542.8,481.99 L542.4,481.71 L541.3,481.39 L540.9,481.02 L540.5,480.58 L540.1,480.08 L539.7,479.51 L539.3,479.65 L538.9,478.87 L538.5,477.98 L538.1,476.94 L537.7,475.67 L537.3,474.23 L536.9,472.66 L536.5,470.98 L536.1,469.28 L535.7,467.61 L535.3,465.86 L534.9,464 L534.5,462.01 L534.1,459.9 L533.7,457.7 L533.3,455.5 L532.9,453.31 L532.5,451.14 L532.1,449 L531.7,446.88 L531.3,444.79 L530.9,442.71 L530.5,440.65 L530.1,438.67 L529.7,436.78 L529.3,434.98 L528.9,433.26 L528.5,430.79 L528.1,429.31 L527.7,428.08 L528,427.08 L527.6,426.39 L527.2,425.91 L526.8,425.51 L526.4,425.21 L526,425.01 L525.6,424.86 L525.2,424.76 L524.8,424.72 L524.4,424.69 L524,424.65 L523.6,424.62 L523.2,424.59 L522.8,424.56 L522.4,424.53 L522,424.49 L521.6,424.46 L521.2,424.43 L520.8,424.4 L520.4,424.36 L520,424.32 L519.6,424.26 L519.2,424.17 L518.8,424.07 L518.4,423.96 L518,423.84 L517.6,423.7 L517.2,423.54 L516.8,423.37 L516.4,423.18 L516,423.02 L515.6,422.9Z" fill="#d6eec8"/>
<path d="M515.6,421.4 L516,421.52 L516.4,421.68 L516.8,421.87 L517.2,422.04 L517.6,422.2 L518,422.34 L518.4,422.46 L518.8,422.57 L519.2,422.67 L519.6,422.76 L520,422.82 L520.4,422.86 L520.8,422.9 L521.2,422.93 L521.6,422.96 L522,422.99 L522.4,423.03 L522.8,423.06 L523.2,423.09 L523.6,423.12 L524,423.15 L524.4,423.19 L524.8,423.22 L525.2,423.26 L525.6,423.36 L526,423.51 L526.4,423.71 L526.8,424.01 L527.2,424.41 L527.6,424.89 L528,425.58 L528.4,426.58 L528.8,427.81 L529.2,429.29 L529.6,430.96 L530,432.68 L530.4,434.48 L530.8,436.37 L531.2,438.35 L531.6,440.41 L532,442.49 L532.4,444.58 L532.8,446.7 L533.2,448.84 L533.6,451.01 L534,453.2 L534.4,455.4 L534.8,457.6 L535.2,459.71 L535.6,461.7 L536,463.56 L536.4,465.31 L536.8,466.98 L537.2,468.68 L537.6,470.36 L538,471.93 L538.4,473.37 L538.8,474.64 L539.2,475.68 L539.6,476.57 L540,477.35 L540.4,478.01 L540.8,478.58 L541.2,479.08 L541.6,479.52 L542,479.89 L542.4,480.21 L542.8,480.49 L543.2,480.71 L543.6,480.9 L544,481.04 L544.4,481.19 L544.8,481.34 L545.2,481.46 L545.6,481.57 L546,481.65 L546.4,481.7 L546.8,481.75 L547.2,481.8 L547.6,481.84 L548,481.87 L548.4,481.89 L548.8,481.9 L549.2,481.9 L549.6,481.9 L550,481.9 L550.4,481.9 L550.8,481.9 L551.2,481.9 L551.6,481.9 L552,481.9 L552.4,481.9 L552.8,481.9 L553.2,481.9 L553.6,481.9 L554,481.9 L554.4,481.9 L554.8,481.9 L555.2,481.9 L555.6,481.9 L556,481.9 L556.4,481.9 L556.8,481.9 L557.2,481.9 L557.6,481.9 L558,481.9 L558.4,481.9 L558.8,481.9 L559.2,481.9 L559.6,481.9 L560,481.9 L560.4,481.9 L560.8,481.9 L561.2,481.9 L561.6,481.9 L562,481.9 L562.4,481.9 L562.8,481.9 L563.2,481.9 L563.6,481.9 L564,481.9 L564.4,481.9 L564.8,481.9 L565.2,481.9 L565.6,481.9 L566,481.9 L566.4,481.9 L566.8,481.9 L567.2,481.9 L567.6,481.9 L568,481.9 L568.4,481.9 L568.8,481.9 L569.2,481.9 L569.6,481.9 L570,481.9 L570.4,481.9 L570.8,481.9 L571.2,481.9 L571.6,481.9 L572,481.9 L572.4,481.9 L572.8,481.9 L573.2,481.9 L573.6,481.9 L574,481.9 L574.4,481.9 L574.8,481.9 L575.2,481.9 L575.6,481.9 L576,481.9 L576.4,481.9 L576.8,481.9 L577.2,481.9 L577.6,481.9 L578,481.9 L578.4,481.9 L578.8,481.9 L579.2,481.9 L579.6,481.9 L580,481.9 L580.4,481.9 L580.8,481.9 L581.2,481.9 L581.6,481.9 L582,481.9 L582.4,481.9 L582.8,481.9 L583.2,481.9 L583.6,481.9 L584,481.9 L584.4,481.9 L584.8,481.9 L585.2,481.9 L585.6,481.9 L586,481.9 L586.4,481.9 L586.8,481.9 L587.2,481.9 L587.6,481.9 L588,481.9 L588.4,481.9 L588.8,481.9 L589.2,481.9 L589.6,481.9 L590,481.9 L590.4,481.9 L590.8,481.9 L591.2,481.9 L591.6,481.9 L592,481.9 L592.4,481.9 L592.8,481.9 L593.2,481.9 L593.6,481.9 L594,481.9 L594.4,481.9 L594.8,481.9 L595.2,481.9 L595.6,481.9 L596,481.9 L596.4,481.9 L596.8,481.9 L597.2,481.9 L597.6,481.9 L598,481.9 L598.4,481.9 L598.8,481.9 L599.2,481.9 L599.6,481.9 L600,481.9 L600.4,481.9 L600.8,481.9 L601.2,481.9 L601.6,481.9 L602,481.9 L602.4,481.9 L602.8,481.9 L603.2,481.9 L603.6,481.9 L604,481.9 L604.4,481.9 L604.8,481.9 L605.2,481.9 L605.6,481.9 L606,481.9 L606.4,481.9 L606.8,481.9 L607.2,481.9 L607.6,481.9 L608,481.9 L608.4,481.9 L608.8,481.9 L609.2,481.9 L609.6,481.9 L610,481.9 L610.4,481.9 L610.8,481.9 L611.2,481.9 L611.6,481.9 L612,481.9 L612.4,481.9 L612.8,481.9 L613.2,481.9 L613.6,481.9 L614,481.9 L614.4,481.9 L614.8,481.9 L615.2,481.9 L615.6,481.9 L616,481.9 L616.4,481.9 L616.8,481.9 L617.2,481.9 L617.6,481.9 L618,481.9 L618.4,481.9 L618.8,481.9 L619.2,481.9 L619.6,481.9 L620,481.9 L620.4,481.9 L620.8,481.9 L621.2,481.9 L621.6,481.9 L622,481.9 L622.4,481.9 L622.8,481.9 L623.2,481.9 L623.6,481.9 L624,481.9 L624.4,481.9 L624.8,481.9 L625.2,481.9 L625.6,481.9 L626,481.9 L626.4,481.9 L626.8,481.9 L627.2,481.9 L627.6,481.9 L628,481.9 L628.4,481.9 L628.8,481.9 L629.2,481.9 L629.6,481.9 L630,481.9 L630.4,481.9 L630.8,481.9 L631.2,481.9 L631.6,481.9 L632,481.9 L632.4,481.9 L632.8,481.9 L633.2,481.9 L633.6,481.9 L634,481.9 L634.4,481.9 L634.8,481.9 L635.2,481.9" fill="none" stroke="#a5da88" stroke-width="1.65" stroke-linejoin="round" stroke-linecap="butt" />
<path d="M395.7,362.2 V488.2 H635.22" fill="none" stroke="#888888" stroke-width="1"/>
<path d="M391.2,488.2 H395.7 M391.2,467.2 H395.7 M391.2,446.2 H395.7 M391.2,425.2 H395.7 M391.2,404.2 H395.7 M391.2,383.2 H395.7 M391.2,362.2 H395.7 M395.7,488.2 v4.5 M405.68,488.2 v4.5 M415.66,488.2 v4.5 M425.64,488.2 v4.5 M435.62,488.2 v4.5 M445.6,488.2 v4.5 M455.58,488.2 v4.5 M465.56,488.2 v4.5 M475.54,488.2 v4.5 M485.52,488.2 v4.5 M495.5,488.2 v4.5 M505.48,488.2 v4.5 M515.46,488.2 v4.5 M525.44,488.2 v4.5 M535.42,488.2 v4.5 M545.4,488.2 v4.5 M555.38,488.2 v4.5 M565.36,488.2 v4.5 M575.34,488.2 v4.5 M585.32,488.2 v4.5 M595.3,488.2 v4.5 M605.28,488.2 v4.5 M615.26,488.2 v4.5 M625.24,488.2 v4.5 M635.22,488.2 v4.5 " fill="none" stroke="#888888" stroke-width="0.9"/>
<text x="387.3" y="491.05" text-anchor="end" font-size="8.1" fill="#555555" stroke="#555555" stroke-width="0.14">0</text>
<text x="387.3" y="470.05" text-anchor="end" font-size="8.1" fill="#555555" stroke="#555555" stroke-width="0.14">1</text>
<text x="387.3" y="449.05" text-anchor="end" font-size="8.1" fill="#555555" stroke="#555555" stroke-width="0.14">2</text>
<text x="387.3" y="428.05" text-anchor="end" font-size="8.1" fill="#555555" stroke="#555555" stroke-width="0.14">3</text>
<text x="387.3" y="407.05" text-anchor="end" font-size="8.1" fill="#555555" stroke="#555555" stroke-width="0.14">4</text>
<text x="387.3" y="386.05" text-anchor="end" font-size="8.1" fill="#555555" stroke="#555555" stroke-width="0.14">5</text>
<text x="387.3" y="365.05" text-anchor="end" font-size="8.1" fill="#555555" stroke="#555555" stroke-width="0.14">6</text>
<text transform="translate(361.1,424.7) rotate(-90)" text-anchor="middle" font-size="9.55" fill="#1a1a1a" stroke="#1a1a1a" stroke-width="0.22">Reproduction number (<tspan font-style="italic">R</tspan><tspan font-size="5.6" dy="1.6">e</tspan><tspan dy="-1.6">)</tspan></text>
<text x="538.2" y="465.9" font-size="8.15" fill="#1a1a1a" stroke="#1a1a1a" stroke-width="0.22">Feb-05</text>
<text x="346.2" y="360.5" font-size="9.1" font-weight="bold" fill="#000" stroke="#000" stroke-width="0.22">f</text>
<path d="M57,621.05 H296.52 M57,595.9 H296.52 M57,570.75 H296.52 M57,545.6 H296.52 M57,520.45 H296.52 " stroke="#e4e4e4" stroke-width="1" stroke-dasharray="8.7 3.8" fill="none"/>
<path d="M176.76,520.3 V646.2" fill="none" stroke="#b4b4b4" stroke-width="1" stroke-dasharray="5.6 4.7"/>
<path d="M57,520.4 V646.2 H296.52" fill="none" stroke="#888888" stroke-width="1"/>
<path d="M52.5,646.2 H57 M52.5,621.05 H57 M52.5,595.9 H57 M52.5,570.75 H57 M52.5,545.6 H57 M52.5,520.45 H57 M57,646.2 v4.8 M66.98,646.2 v4.8 M76.96,646.2 v4.8 M86.94,646.2 v4.8 M96.92,646.2 v4.8 M106.9,646.2 v4.8 M116.88,646.2 v4.8 M126.86,646.2 v4.8 M136.84,646.2 v4.8 M146.82,646.2 v4.8 M156.8,646.2 v4.8 M166.78,646.2 v4.8 M176.76,646.2 v4.8 M186.74,646.2 v4.8 M196.72,646.2 v4.8 M206.7,646.2 v4.8 M216.68,646.2 v4.8 M226.66,646.2 v4.8 M236.64,646.2 v4.8 M246.62,646.2 v4.8 M256.6,646.2 v4.8 M266.58,646.2 v4.8 M276.56,646.2 v4.8 M286.54,646.2 v4.8 M296.52,646.2 v4.8 " fill="none" stroke="#888888" stroke-width="0.9"/>
<text x="48.6" y="649.05" text-anchor="end" font-size="8.1" fill="#555555" stroke="#555555" stroke-width="0.14">0</text>
<text x="48.6" y="623.9" text-anchor="end" font-size="8.1" fill="#555555" stroke="#555555" stroke-width="0.14">20</text>
<text x="48.6" y="598.75" text-anchor="end" font-size="8.1" fill="#555555" stroke="#555555" stroke-width="0.14">40</text>
<text x="48.6" y="573.6" text-anchor="end" font-size="8.1" fill="#555555" stroke="#555555" stroke-width="0.14">60</text>
<text x="48.6" y="548.45" text-anchor="end" font-size="8.1" fill="#555555" stroke="#555555" stroke-width="0.14">80</text>
<text x="48.6" y="523.3" text-anchor="end" font-size="8.1" fill="#555555" stroke="#555555" stroke-width="0.14">100</text>
<text x="66.98" y="660.6" text-anchor="middle" font-size="8.1" fill="#555555" stroke="#555555" stroke-width="0.14">J</text>
<text x="86.94" y="660.6" text-anchor="middle" font-size="8.1" fill="#555555" stroke="#555555" stroke-width="0.14">M</text>
<text x="106.9" y="660.6" text-anchor="middle" font-size="8.1" fill="#555555" stroke="#555555" stroke-width="0.14">M</text>
<text x="126.86" y="660.6" text-anchor="middle" font-size="8.1" fill="#555555" stroke="#555555" stroke-width="0.14">J</text>
<text x="146.82" y="660.6" text-anchor="middle" font-size="8.1" fill="#555555" stroke="#555555" stroke-width="0.14">S</text>
<text x="166.78" y="660.6" text-anchor="middle" font-size="8.1" fill="#555555" stroke="#555555" stroke-width="0.14">N</text>
<text x="186.74" y="660.6" text-anchor="middle" font-size="8.1" fill="#555555" stroke="#555555" stroke-width="0.14">J</text>
<text x="206.7" y="660.6" text-anchor="middle" font-size="8.1" fill="#555555" stroke="#555555" stroke-width="0.14">M</text>
<text x="226.66" y="660.6" text-anchor="middle" font-size="8.1" fill="#555555" stroke="#555555" stroke-width="0.14">M</text>
<text x="246.62" y="660.6" text-anchor="middle" font-size="8.1" fill="#555555" stroke="#555555" stroke-width="0.14">J</text>
<text x="266.58" y="660.6" text-anchor="middle" font-size="8.1" fill="#555555" stroke="#555555" stroke-width="0.14">S</text>
<text x="286.54" y="660.6" text-anchor="middle" font-size="8.1" fill="#555555" stroke="#555555" stroke-width="0.14">N</text>
<text x="121.87" y="668.8" text-anchor="middle" font-size="8.1" fill="#1a1a1a" stroke="#1a1a1a" stroke-width="0.22">2021</text>
<text x="241.63" y="668.8" text-anchor="middle" font-size="8.1" fill="#1a1a1a" stroke="#1a1a1a" stroke-width="0.22">2022</text>
<path d="M57,646.2 L57.5,646.19 L58,646.19 L58.5,646.19 L59,646.19 L59.5,646.19 L60,646.18 L60.5,646.18 L61,646.18 L61.5,646.18 L62,646.17 L62.5,646.17 L63,646.17 L63.5,646.16 L64,646.16 L64.5,646.16 L65,646.16 L65.5,646.15 L66,646.15 L66.5,646.14 L67,646.14 L67.5,646.13 L68,646.12 L68.5,646.11 L69,646.1 L69.5,646.09 L70,646.08 L70.5,646.07 L71,646.06 L71.5,646.05 L72,646.04 L72.5,646.03 L73,646.02 L73.5,646.01 L74,646 L74.5,645.99 L75,645.98 L75.5,645.97 L76,645.95 L76.5,645.93 L77,645.91 L77.5,645.89 L78,645.86 L78.5,645.83 L79,645.79 L79.5,645.76 L80,645.72 L80.5,645.67 L81,645.63 L81.5,645.58 L82,645.54 L82.5,645.49 L83,645.44 L83.5,645.39 L84,645.33 L84.5,645.28 L85,645.23 L85.5,645.18 L86,645.14 L86.5,645.1 L87,645.06 L87.5,645.02 L88,644.99 L88.5,644.96 L89,644.93 L89.5,644.91 L90,644.9 L90.5,644.88 L91,644.87 L91.5,644.86 L92,644.84 L92.5,644.84 L93,644.83 L93.5,644.81 L94,644.79 L94.5,644.76 L95,644.72 L95.5,644.68 L96,644.62 L96.5,644.56 L97,644.48 L97.5,644.39 L98,644.27 L98.5,644.14 L99,643.99 L99.5,643.82 L100,643.64 L100.5,643.45 L101,643.23 L101.5,642.99 L102,642.73 L102.5,642.45 L103,642.19 L103.5,641.94 L104,641.69 L104.5,641.46 L105,641.24 L105.5,641.05 L106,640.89 L106.5,640.75 L107,640.65 L107.5,640.57 L108,640.53 L108.5,640.49 L109,640.47 L109.5,640.45 L110,640.41 L110.5,640.34 L111,640.25 L111.5,640.13 L112,639.98 L112.5,639.8 L113,639.56 L113.5,639.28 L114,638.96 L114.5,638.57 L115,638.12 L115.5,637.62 L116,637.08 L116.5,636.49 L117,635.85 L117.5,635.17 L118,634.45 L118.5,633.69 L119,632.9 L119.5,632.06 L120,631.21 L120.5,630.34 L121,629.47 L121.5,628.62 L122,627.79 L122.5,626.98 L123,626.19 L123.5,625.44 L124,624.73 L124.5,624.07 L125,623.46 L125.5,622.91 L126,622.4 L126.5,621.91 L127,621.4 L127.5,620.87 L128,620.3 L128.5,619.7 L129,619.03 L129.5,618.3 L130,617.5 L130.5,616.67 L131,615.8 L131.5,614.89 L132,613.96 L132.5,613.03 L133,612.1 L133.5,611.25 L134,610.49 L134.5,609.84 L135,609.28 L135.5,608.82 L136,608.43 L136.5,608.12 L137,607.88 L137.5,607.71 L138,607.62 L138.5,607.61 L139,607.61 L139.5,607.61 L140,607.56 L140.5,607.41 L141,607.16 L141.5,606.81 L142,606.36 L142.5,605.81 L143,605.18 L143.5,604.46 L144,603.67 L144.5,602.8 L145,601.89 L145.5,600.98 L146,600.13 L146.5,599.33 L147,598.59 L147.5,597.91 L148,597.3 L148.5,596.75 L149,596.25 L149.5,595.82 L150,595.44 L150.5,595.07 L151,594.73 L151.5,594.42 L152,594.14 L152.5,593.9 L153,593.7 L153.5,593.52 L154,593.35 L154.5,593.21 L155,593.09 L155.5,593 L156,592.93 L156.5,592.89 L157,592.85 L157.5,592.83 L158,592.81 L158.5,592.79 L159,592.76 L159.5,592.72 L160,592.67 L160.5,592.6 L161,592.51 L161.5,592.41 L162,592.3 L162.5,592.17 L163,592.04 L163.5,591.89 L164,591.75 L164.5,591.62 L165,591.49 L165.5,591.37 L166,591.27 L166.5,591.17 L167,591.09 L167.5,591.03 L168,590.98 L168.5,590.94 L169,590.91 L169.5,590.88 L170,590.85 L170.5,590.81 L171,590.77 L171.5,590.72 L172,590.65 L172.5,590.58 L173,590.49 L173.5,590.39 L174,590.28 L174.5,590.15 L175,590.01 L175.5,589.87 L176,589.72 L176.5,589.57 L177,589.42 L177.5,589.27 L178,589.13 L178.5,589 L179,588.89 L179.5,588.78 L180,588.69 L180.5,588.62 L181,588.56 L181.5,588.51 L182,588.48 L182.5,588.46 L183,588.45 L183.5,588.45 L184,588.43 L184.5,588.4 L185,588.35 L185.5,588.28 L186,588.18 L186.5,588.06 L187,587.9 L187.5,587.68 L188,587.39 L188.5,587.04 L189,586.59 L189.5,586.03 L190,585.33 L190.5,584.48 L191,583.43 L191.5,582.16 L192,580.64 L192.5,578.84 L193,576.76 L193.5,574.4 L194,571.77 L194.5,568.92 L195,565.91 L195.5,562.8 L196,559.67 L196.5,556.6 L197,553.65 L197.5,550.87 L198,548.29 L198.5,545.93 L199,543.8 L199.5,541.9 L200,540.22 L200.5,538.75 L201,537.46 L201.5,536.33 L202,535.35 L202.5,534.5 L203,533.77 L203.5,533.13 L204,532.57 L204.5,532.09 L205,531.67 L205.5,531.31 L206,531 L206.5,530.71 L207,530.41 L207.5,530.15 L208,529.94 L208.5,529.75 L209,529.59 L209.5,529.46 L210,529.35 L210.5,529.25 L211,529.17 L211.5,529.1 L212,529.04 L212.5,528.99 L213,528.95 L213.5,528.91 L214,528.88 L214.5,528.86 L215,528.83 L215.5,528.82 L216,528.8 L216.5,528.79 L217,528.77 L217.5,528.76 L218,528.76 L218.5,528.75 L219,528.74 L219.5,528.74 L220,528.73 L220.5,528.73 L221,528.73 L221.5,528.72 L222,528.72 L222.5,528.72 L223,528.72 L223.5,528.72 L224,528.72 L224.5,528.71 L225,528.71 L225.5,528.71 L226,528.71 L226.5,528.71 L227,528.71 L227.5,528.71 L228,528.71 L228.5,528.71 L229,528.71 L229.5,528.71 L230,528.71 L230.5,528.71 L231,528.71 L231.5,528.71 L232,528.71 L232.5,528.71 L233,528.71 L233.5,528.71 L234,528.71 L234.5,528.71 L235,528.71 L235.5,528.71 L236,528.71 L236.5,528.71 L237,528.71 L237.5,528.71 L238,528.71 L238.5,528.71 L239,528.71 L239.5,528.71 L240,528.71 L240.5,528.71 L241,528.71 L241.5,528.71 L242,528.71 L242.5,528.71 L243,528.71 L243.5,528.71 L244,528.71 L244.5,528.71 L245,528.71 L245.5,528.71 L246,528.71 L246.5,528.71 L247,528.71 L247.5,528.71 L248,528.71 L248.5,528.71 L249,528.71 L249.5,528.71 L250,528.71 L250.5,528.71 L251,528.71 L251.5,528.71 L252,528.71 L252.5,528.71 L253,528.71 L253.5,528.71 L254,528.71 L254.5,528.71 L255,528.71 L255.5,528.71 L256,528.71 L256.5,528.71 L257,528.71 L257.5,528.71 L258,528.71 L258.5,528.71 L259,528.71 L259.5,528.71 L260,528.71 L260.5,528.71 L261,528.71 L261.5,528.71 L262,528.71 L262.5,528.71 L263,528.71 L263.5,528.71 L264,528.71 L264.5,528.71 L265,528.71 L265.5,528.71 L266,528.71 L266.5,528.71 L267,528.71 L267.5,528.71 L268,528.71 L268.5,528.71 L269,528.71 L269.5,528.71 L270,528.71 L270.5,528.71 L271,528.71 L271.5,528.71 L272,528.71 L272.5,528.71 L273,528.71 L273.5,528.71 L274,528.71 L274.5,528.71 L275,528.71 L275.5,528.71 L276,528.71 L276.5,528.71 L277,528.71 L277.5,528.71 L278,528.71 L278.5,528.71 L279,528.71 L279.5,528.71 L280,528.71 L280.5,528.71 L281,528.71 L281.5,528.71 L282,528.71 L282.5,528.71 L283,528.71 L283.5,528.71 L284,528.71 L284.5,528.71 L285,528.71 L285.5,528.71 L286,528.71 L286.5,528.71 L287,528.71 L287.5,528.71 L288,528.71 L288.5,528.71 L289,528.71 L289.5,528.71 L290,528.71 L290.5,528.71 L291,528.71 L291.5,528.71 L292,528.71 L292.5,528.71 L293,528.71 L293.5,528.71 L294,528.71 L294.5,528.71 L295,528.71 L295.5,528.71 L296,528.71 L296.5,528.71 L296.5,585.8 L296,585.8 L295.5,585.8 L295,585.8 L294.5,585.8 L294,585.8 L293.5,585.8 L293,585.8 L292.5,585.8 L292,585.8 L291.5,585.8 L291,585.8 L290.5,585.8 L290,585.8 L289.5,585.8 L289,585.8 L288.5,585.8 L288,585.8 L287.5,585.8 L287,585.8 L286.5,585.8 L286,585.8 L285.5,585.8 L285,585.8 L284.5,585.8 L284,585.8 L283.5,585.8 L283,585.8 L282.5,585.8 L282,585.8 L281.5,585.8 L281,585.8 L280.5,585.8 L280,585.8 L279.5,585.8 L279,585.8 L278.5,585.8 L278,585.8 L277.5,585.8 L277,585.8 L276.5,585.8 L276,585.8 L275.5,585.8 L275,585.8 L274.5,585.8 L274,585.8 L273.5,585.8 L273,585.8 L272.5,585.8 L272,585.8 L271.5,585.8 L271,585.8 L270.5,585.8 L270,585.8 L269.5,585.8 L269,585.8 L268.5,585.8 L268,585.8 L267.5,585.8 L267,585.8 L266.5,585.8 L266,585.8 L265.5,585.8 L265,585.8 L264.5,585.8 L264,585.8 L263.5,585.8 L263,585.8 L262.5,585.8 L262,585.8 L261.5,585.8 L261,585.8 L260.5,585.8 L260,585.8 L259.5,585.8 L259,585.8 L258.5,585.8 L258,585.8 L257.5,585.8 L257,585.8 L256.5,585.8 L256,585.8 L255.5,585.8 L255,585.8 L254.5,585.8 L254,585.8 L253.5,585.8 L253,585.8 L252.5,585.8 L252,585.8 L251.5,585.8 L251,585.8 L250.5,585.8 L250,585.8 L249.5,585.8 L249,585.8 L248.5,585.8 L248,585.8 L247.5,585.8 L247,585.8 L246.5,585.8 L246,585.8 L245.5,585.8 L245,585.8 L244.5,585.8 L244,585.8 L243.5,585.8 L243,585.8 L242.5,585.8 L242,585.8 L241.5,585.8 L241,585.8 L240.5,585.8 L240,585.8 L239.5,585.8 L239,585.8 L238.5,585.8 L238,585.8 L237.5,585.8 L237,585.8 L236.5,585.8 L236,585.8 L235.5,585.8 L235,585.8 L234.5,585.8 L234,585.8 L233.5,585.8 L233,585.8 L232.5,585.8 L232,585.8 L231.5,585.8 L231,585.8 L230.5,585.8 L230,585.8 L229.5,585.8 L229,585.8 L228.5,585.8 L228,585.8 L227.5,585.8 L227,585.8 L226.5,585.8 L226,585.8 L225.5,585.8 L225,585.8 L224.5,585.8 L224,585.8 L223.5,585.8 L223,585.8 L222.5,585.8 L222,585.8 L221.5,585.8 L221,585.8 L220.5,585.8 L220,585.8 L219.5,585.8 L219,585.8 L218.5,585.8 L218,585.8 L217.5,585.8 L217,585.8 L216.5,585.8 L216,585.8 L215.5,585.8 L215,585.8 L214.5,585.8 L214,585.8 L213.5,585.8 L213,585.8 L212.5,585.8 L212,585.8 L211.5,585.8 L211,585.8 L210.5,585.8 L210,585.8 L209.5,585.8 L209,585.8 L208.5,585.81 L208,585.81 L207.5,585.82 L207,585.83 L206.5,585.84 L206,585.86 L205.5,585.88 L205,585.9 L204.5,585.92 L204,585.95 L203.5,585.98 L203,586.01 L202.5,586.04 L202,586.07 L201.5,586.1 L201,586.13 L200.5,586.16 L200,586.19 L199.5,586.21 L199,586.24 L198.5,586.27 L198,586.29 L197.5,586.31 L197,586.33 L196.5,586.36 L196,586.38 L195.5,586.42 L195,586.46 L194.5,586.51 L194,586.56 L193.5,586.63 L193,586.7 L192.5,586.78 L192,586.87 L191.5,586.98 L191,587.1 L190.5,587.23 L190,587.36 L189.5,587.5 L189,587.65 L188.5,587.78 L188,587.91 L187.5,588.03 L187,588.14 L186.5,588.23 L186,588.31 L185.5,588.37 L185,588.42 L184.5,588.45 L184,588.47 L183.5,588.48 L183,588.48 L182.5,588.48 L182,588.49 L181.5,588.52 L181,588.56 L180.5,588.62 L180,588.7 L179.5,588.78 L179,588.89 L178.5,589 L178,589.13 L177.5,589.27 L177,589.42 L176.5,589.57 L176,589.72 L175.5,589.87 L175,590.01 L174.5,590.15 L174,590.28 L173.5,590.39 L173,590.49 L172.5,590.58 L172,590.65 L171.5,590.72 L171,590.77 L170.5,590.81 L170,590.85 L169.5,590.88 L169,590.91 L168.5,590.94 L168,590.98 L167.5,591.03 L167,591.09 L166.5,591.17 L166,591.27 L165.5,591.37 L165,591.49 L164.5,591.62 L164,591.75 L163.5,591.89 L163,592.04 L162.5,592.17 L162,592.3 L161.5,592.41 L161,592.51 L160.5,592.6 L160,592.67 L159.5,592.72 L159,592.76 L158.5,592.79 L158,592.81 L157.5,592.83 L157,592.85 L156.5,592.89 L156,592.93 L155.5,593 L155,593.09 L154.5,593.21 L154,593.35 L153.5,593.52 L153,593.7 L152.5,593.9 L152,594.14 L151.5,594.42 L151,594.73 L150.5,595.07 L150,595.44 L149.5,595.82 L149,596.25 L148.5,596.75 L148,597.3 L147.5,597.91 L147,598.59 L146.5,599.33 L146,600.13 L145.5,600.98 L145,601.89 L144.5,602.8 L144,603.67 L143.5,604.46 L143,605.18 L142.5,605.81 L142,606.36 L141.5,606.81 L141,607.16 L140.5,607.41 L140,607.56 L139.5,607.61 L139,607.61 L138.5,607.61 L138,607.62 L137.5,607.71 L137,607.88 L136.5,608.12 L136,608.43 L135.5,608.82 L135,609.28 L134.5,609.84 L134,610.49 L133.5,611.25 L133,612.1 L132.5,613.03 L132,613.96 L131.5,614.89 L131,615.8 L130.5,616.67 L130,617.5 L129.5,618.3 L129,619.03 L128.5,619.7 L128,620.3 L127.5,620.87 L127,621.4 L126.5,621.91 L126,622.4 L125.5,622.91 L125,623.46 L124.5,624.07 L124,624.73 L123.5,625.44 L123,626.19 L122.5,626.98 L122,627.79 L121.5,628.62 L121,629.47 L120.5,630.34 L120,631.21 L119.5,632.06 L119,632.9 L118.5,633.69 L118,634.45 L117.5,635.17 L117,635.85 L116.5,636.49 L116,637.08 L115.5,637.62 L115,638.12 L114.5,638.57 L114,638.96 L113.5,639.28 L113,639.56 L112.5,639.8 L112,639.98 L111.5,640.13 L111,640.25 L110.5,640.34 L110,640.41 L109.5,640.45 L109,640.47 L108.5,640.49 L108,640.53 L107.5,640.57 L107,640.65 L106.5,640.75 L106,640.89 L105.5,641.05 L105,641.24 L104.5,641.46 L104,641.69 L103.5,641.94 L103,642.19 L102.5,642.45 L102,642.73 L101.5,642.99 L101,643.23 L100.5,643.45 L100,643.64 L99.5,643.82 L99,643.99 L98.5,644.14 L98,644.27 L97.5,644.39 L97,644.48 L96.5,644.56 L96,644.62 L95.5,644.68 L95,644.72 L94.5,644.76 L94,644.79 L93.5,644.81 L93,644.83 L92.5,644.84 L92,644.84 L91.5,644.86 L91,644.87 L90.5,644.88 L90,644.9 L89.5,644.91 L89,644.93 L88.5,644.96 L88,644.99 L87.5,645.02 L87,645.06 L86.5,645.1 L86,645.14 L85.5,645.18 L85,645.23 L84.5,645.28 L84,645.33 L83.5,645.39 L83,645.44 L82.5,645.49 L82,645.54 L81.5,645.58 L81,645.63 L80.5,645.67 L80,645.72 L79.5,645.76 L79,645.79 L78.5,645.83 L78,645.86 L77.5,645.89 L77,645.91 L76.5,645.93 L76,645.95 L75.5,645.97 L75,645.98 L74.5,645.99 L74,646 L73.5,646.01 L73,646.02 L72.5,646.03 L72,646.04 L71.5,646.05 L71,646.06 L70.5,646.07 L70,646.08 L69.5,646.09 L69,646.1 L68.5,646.11 L68,646.12 L67.5,646.13 L67,646.14 L66.5,646.14 L66,646.15 L65.5,646.15 L65,646.16 L64.5,646.16 L64,646.16 L63.5,646.16 L63,646.17 L62.5,646.17 L62,646.17 L61.5,646.18 L61,646.18 L60.5,646.18 L60,646.18 L59.5,646.19 L59,646.19 L58.5,646.19 L58,646.19 L57.5,646.19 L57,646.2Z" fill="#F8766D" fill-opacity="0.5"/>
<path d="M57,646.2 L57.5,646.19 L58,646.19 L58.5,646.19 L59,646.19 L59.5,646.19 L60,646.18 L60.5,646.18 L61,646.18 L61.5,646.18 L62,646.17 L62.5,646.17 L63,646.17 L63.5,646.16 L64,646.16 L64.5,646.16 L65,646.16 L65.5,646.15 L66,646.15 L66.5,646.14 L67,646.14 L67.5,646.13 L68,646.12 L68.5,646.11 L69,646.1 L69.5,646.09 L70,646.08 L70.5,646.07 L71,646.06 L71.5,646.05 L72,646.04 L72.5,646.03 L73,646.02 L73.5,646.01 L74,646 L74.5,645.99 L75,645.98 L75.5,645.97 L76,645.95 L76.5,645.93 L77,645.91 L77.5,645.89 L78,645.86 L78.5,645.83 L79,645.79 L79.5,645.76 L80,645.72 L80.5,645.67 L81,645.63 L81.5,645.58 L82,645.54 L82.5,645.49 L83,645.44 L83.5,645.39 L84,645.33 L84.5,645.28 L85,645.23 L85.5,645.18 L86,645.14 L86.5,645.1 L87,645.06 L87.5,645.02 L88,644.99 L88.5,644.96 L89,644.93 L89.5,644.91 L90,644.9 L90.5,644.88 L91,644.87 L91.5,644.86 L92,644.84 L92.5,644.84 L93,644.83 L93.5,644.81 L94,644.79 L94.5,644.76 L95,644.72 L95.5,644.68 L96,644.62 L96.5,644.56 L97,644.48 L97.5,644.39 L98,644.27 L98.5,644.14 L99,643.99 L99.5,643.82 L100,643.64 L100.5,643.45 L101,643.23 L101.5,642.99 L102,642.73 L102.5,642.45 L103,642.19 L103.5,641.94 L104,641.69 L104.5,641.46 L105,641.24 L105.5,641.05 L106,640.89 L106.5,640.75 L107,640.65 L107.5,640.57 L108,640.53 L108.5,640.49 L109,640.47 L109.5,640.45 L110,640.41 L110.5,640.34 L111,640.25 L111.5,640.13 L112,639.98 L112.5,639.8 L113,639.56 L113.5,639.28 L114,638.96 L114.5,638.57 L115,638.12 L115.5,637.62 L116,637.08 L116.5,636.49 L117,635.85 L117.5,635.17 L118,634.45 L118.5,633.69 L119,632.9 L119.5,632.06 L120,631.21 L120.5,630.34 L121,629.47 L121.5,628.62 L122,627.79 L122.5,626.98 L123,626.19 L123.5,625.44 L124,624.73 L124.5,624.07 L125,623.46 L125.5,622.91 L126,622.4 L126.5,621.91 L127,621.4 L127.5,620.87 L128,620.3 L128.5,619.7 L129,619.03 L129.5,618.3 L130,617.5 L130.5,616.67 L131,615.8 L131.5,614.89 L132,613.96 L132.5,613.03 L133,612.1 L133.5,611.25 L134,610.49 L134.5,609.84 L135,609.28 L135.5,608.82 L136,608.43 L136.5,608.12 L137,607.88 L137.5,607.71 L138,607.62 L138.5,607.61 L139,607.61 L139.5,607.61 L140,607.56 L140.5,607.41 L141,607.16 L141.5,606.81 L142,606.36 L142.5,605.81 L143,605.18 L143.5,604.46 L144,603.67 L144.5,602.8 L145,601.89 L145.5,600.98 L146,600.13 L146.5,599.33 L147,598.59 L147.5,597.91 L148,597.3 L148.5,596.75 L149,596.25 L149.5,595.82 L150,595.44 L150.5,595.07 L151,594.73 L151.5,594.42 L152,594.14 L152.5,593.9 L153,593.7 L153.5,593.52 L154,593.35 L154.5,593.21 L155,593.09 L155.5,593 L156,592.93 L156.5,592.89 L157,592.85 L157.5,592.83 L158,592.81 L158.5,592.79 L159,592.76 L159.5,592.72 L160,592.67 L160.5,592.6 L161,592.51 L161.5,592.41 L162,592.3 L162.5,592.17 L163,592.04 L163.5,591.89 L164,591.75 L164.5,591.62 L165,591.49 L165.5,591.37 L166,591.27 L166.5,591.17 L167,591.09 L167.5,591.03 L168,590.98 L168.5,590.94 L169,590.91 L169.5,590.88 L170,590.85 L170.5,590.81 L171,590.77 L171.5,590.72 L172,590.65 L172.5,590.58 L173,590.49 L173.5,590.39 L174,590.28 L174.5,590.15 L175,590.01 L175.5,589.87 L176,589.72 L176.5,589.57 L177,589.42 L177.5,589.27 L178,589.13 L178.5,589 L179,588.89 L179.5,588.78 L180,588.7 L180.5,588.62 L181,588.56 L181.5,588.52 L182,588.49 L182.5,588.48 L183,588.48 L183.5,588.48 L184,588.47 L184.5,588.45 L185,588.42 L185.5,588.37 L186,588.31 L186.5,588.23 L187,588.14 L187.5,588.03 L188,587.91 L188.5,587.78 L189,587.65 L189.5,587.5 L190,587.36 L190.5,587.23 L191,587.1 L191.5,586.98 L192,586.87 L192.5,586.78 L193,586.7 L193.5,586.63 L194,586.56 L194.5,586.51 L195,586.46 L195.5,586.42 L196,586.38 L196.5,586.36 L197,586.33 L197.5,586.31 L198,586.29 L198.5,586.27 L199,586.24 L199.5,586.21 L200,586.19 L200.5,586.16 L201,586.13 L201.5,586.1 L202,586.07 L202.5,586.04 L203,586.01 L203.5,585.98 L204,585.95 L204.5,585.92 L205,585.9 L205.5,585.88 L206,585.86 L206.5,585.84 L207,585.83 L207.5,585.82 L208,585.81 L208.5,585.81 L209,585.8 L209.5,585.8 L210,585.8 L210.5,585.8 L211,585.8 L211.5,585.8 L212,585.8 L212.5,585.8 L213,585.8 L213.5,585.8 L214,585.8 L214.5,585.8 L215,585.8 L215.5,585.8 L216,585.8 L216.5,585.8 L217,585.8 L217.5,585.8 L218,585.8 L218.5,585.8 L219,585.8 L219.5,585.8 L220,585.8 L220.5,585.8 L221,585.8 L221.5,585.8 L222,585.8 L222.5,585.8 L223,585.8 L223.5,585.8 L224,585.8 L224.5,585.8 L225,585.8 L225.5,585.8 L226,585.8 L226.5,585.8 L227,585.8 L227.5,585.8 L228,585.8 L228.5,585.8 L229,585.8 L229.5,585.8 L230,585.8 L230.5,585.8 L231,585.8 L231.5,585.8 L232,585.8 L232.5,585.8 L233,585.8 L233.5,585.8 L234,585.8 L234.5,585.8 L235,585.8 L235.5,585.8 L236,585.8 L236.5,585.8 L237,585.8 L237.5,585.8 L238,585.8 L238.5,585.8 L239,585.8 L239.5,585.8 L240,585.8 L240.5,585.8 L241,585.8 L241.5,585.8 L242,585.8 L242.5,585.8 L243,585.8 L243.5,585.8 L244,585.8 L244.5,585.8 L245,585.8 L245.5,585.8 L246,585.8 L246.5,585.8 L247,585.8 L247.5,585.8 L248,585.8 L248.5,585.8 L249,585.8 L249.5,585.8 L250,585.8 L250.5,585.8 L251,585.8 L251.5,585.8 L252,585.8 L252.5,585.8 L253,585.8 L253.5,585.8 L254,585.8 L254.5,585.8 L255,585.8 L255.5,585.8 L256,585.8 L256.5,585.8 L257,585.8 L257.5,585.8 L258,585.8 L258.5,585.8 L259,585.8 L259.5,585.8 L260,585.8 L260.5,585.8 L261,585.8 L261.5,585.8 L262,585.8 L262.5,585.8 L263,585.8 L263.5,585.8 L264,585.8 L264.5,585.8 L265,585.8 L265.5,585.8 L266,585.8 L266.5,585.8 L267,585.8 L267.5,585.8 L268,585.8 L268.5,585.8 L269,585.8 L269.5,585.8 L270,585.8 L270.5,585.8 L271,585.8 L271.5,585.8 L272,585.8 L272.5,585.8 L273,585.8 L273.5,585.8 L274,585.8 L274.5,585.8 L275,585.8 L275.5,585.8 L276,585.8 L276.5,585.8 L277,585.8 L277.5,585.8 L278,585.8 L278.5,585.8 L279,585.8 L279.5,585.8 L280,585.8 L280.5,585.8 L281,585.8 L281.5,585.8 L282,585.8 L282.5,585.8 L283,585.8 L283.5,585.8 L284,585.8 L284.5,585.8 L285,585.8 L285.5,585.8 L286,585.8 L286.5,585.8 L287,585.8 L287.5,585.8 L288,585.8 L288.5,585.8 L289,585.8 L289.5,585.8 L290,585.8 L290.5,585.8 L291,585.8 L291.5,585.8 L292,585.8 L292.5,585.8 L293,585.8 L293.5,585.8 L294,585.8 L294.5,585.8 L295,585.8 L295.5,585.8 L296,585.8 L296.5,585.8 L296.52,646.8 L57.5,646.8Z" fill="#00BFC4" fill-opacity="0.5"/>
<text transform="translate(17.7,583.7) rotate(-90)" text-anchor="middle" font-size="9.4" fill="#1a1a1a" stroke="#1a1a1a" stroke-width="0.22"><tspan x="0" y="0">Proportion of immune</tspan><tspan x="0" y="10.9">individuals (%)</tspan></text>
<rect x="77.1" y="518" width="14.3" height="14" fill="#F8766D" fill-opacity="0.5"/>
<rect x="77.1" y="534.8" width="14.3" height="14.4" fill="#00BFC4" fill-opacity="0.5"/>
<text x="97" y="528.3" font-size="8.2" fill="#1a1a1a" stroke="#1a1a1a" stroke-width="0.22">Infection</text>
<text x="97" y="545.1" font-size="8.2" fill="#1a1a1a" stroke="#1a1a1a" stroke-width="0.22">Vaccination</text>
<text x="6.3" y="518.7" font-size="9.1" font-weight="bold" fill="#000" stroke="#000" stroke-width="0.22">g</text>
<path d="M395.7,621.05 H635.22 M395.7,595.9 H635.22 M395.7,570.75 H635.22 M395.7,545.6 H635.22 M395.7,520.45 H635.22 " stroke="#e4e4e4" stroke-width="1" stroke-dasharray="8.7 3.8" fill="none"/>
<path d="M515.46,520.3 V646.2" fill="none" stroke="#b4b4b4" stroke-width="1" stroke-dasharray="5.6 4.7"/>
<path d="M395.7,520.4 V646.2 H635.22" fill="none" stroke="#888888" stroke-width="1"/>
<path d="M391.2,646.2 H395.7 M391.2,621.05 H395.7 M391.2,595.9 H395.7 M391.2,570.75 H395.7 M391.2,545.6 H395.7 M391.2,520.45 H395.7 M395.7,646.2 v4.8 M405.68,646.2 v4.8 M415.66,646.2 v4.8 M425.64,646.2 v4.8 M435.62,646.2 v4.8 M445.6,646.2 v4.8 M455.58,646.2 v4.8 M465.56,646.2 v4.8 M475.54,646.2 v4.8 M485.52,646.2 v4.8 M495.5,646.2 v4.8 M505.48,646.2 v4.8 M515.46,646.2 v4.8 M525.44,646.2 v4.8 M535.42,646.2 v4.8 M545.4,646.2 v4.8 M555.38,646.2 v4.8 M565.36,646.2 v4.8 M575.34,646.2 v4.8 M585.32,646.2 v4.8 M595.3,646.2 v4.8 M605.28,646.2 v4.8 M615.26,646.2 v4.8 M625.24,646.2 v4.8 M635.22,646.2 v4.8 " fill="none" stroke="#888888" stroke-width="0.9"/>
<text x="387.3" y="649.05" text-anchor="end" font-size="8.1" fill="#555555" stroke="#555555" stroke-width="0.14">0</text>
<text x="387.3" y="623.9" text-anchor="end" font-size="8.1" fill="#555555" stroke="#555555" stroke-width="0.14">20</text>
<text x="387.3" y="598.75" text-anchor="end" font-size="8.1" fill="#555555" stroke="#555555" stroke-width="0.14">40</text>
<text x="387.3" y="573.6" text-anchor="end" font-size="8.1" fill="#555555" stroke="#555555" stroke-width="0.14">60</text>
<text x="387.3" y="548.45" text-anchor="end" font-size="8.1" fill="#555555" stroke="#555555" stroke-width="0.14">80</text>
<text x="387.3" y="523.3" text-anchor="end" font-size="8.1" fill="#555555" stroke="#555555" stroke-width="0.14">100</text>
<text x="405.68" y="660.6" text-anchor="middle" font-size="8.1" fill="#555555" stroke="#555555" stroke-width="0.14">J</text>
<text x="425.64" y="660.6" text-anchor="middle" font-size="8.1" fill="#555555" stroke="#555555" stroke-width="0.14">M</text>
<text x="445.6" y="660.6" text-anchor="middle" font-size="8.1" fill="#555555" stroke="#555555" stroke-width="0.14">M</text>
<text x="465.56" y="660.6" text-anchor="middle" font-size="8.1" fill="#555555" stroke="#555555" stroke-width="0.14">J</text>
<text x="485.52" y="660.6" text-anchor="middle" font-size="8.1" fill="#555555" stroke="#555555" stroke-width="0.14">S</text>
<text x="505.48" y="660.6" text-anchor="middle" font-size="8.1" fill="#555555" stroke="#555555" stroke-width="0.14">N</text>
<text x="525.44" y="660.6" text-anchor="middle" font-size="8.1" fill="#555555" stroke="#555555" stroke-width="0.14">J</text>
<text x="545.4" y="660.6" text-anchor="middle" font-size="8.1" fill="#555555" stroke="#555555" stroke-width="0.14">M</text>
<text x="565.36" y="660.6" text-anchor="middle" font-size="8.1" fill="#555555" stroke="#555555" stroke-width="0.14">M</text>
<text x="585.32" y="660.6" text-anchor="middle" font-size="8.1" fill="#555555" stroke="#555555" stroke-width="0.14">J</text>
<text x="605.28" y="660.6" text-anchor="middle" font-size="8.1" fill="#555555" stroke="#555555" stroke-width="0.14">S</text>
<text x="625.24" y="660.6" text-anchor="middle" font-size="8.1" fill="#555555" stroke="#555555" stroke-width="0.14">N</text>
<text x="460.57" y="668.8" text-anchor="middle" font-size="8.1" fill="#1a1a1a" stroke="#1a1a1a" stroke-width="0.22">2021</text>
<text x="580.33" y="668.8" text-anchor="middle" font-size="8.1" fill="#1a1a1a" stroke="#1a1a1a" stroke-width="0.22">2022</text>
<path d="M395.7,646.2 L396.2,646.19 L396.7,646.19 L397.2,646.19 L397.7,646.19 L398.2,646.19 L398.7,646.18 L399.2,646.18 L399.7,646.18 L400.2,646.18 L400.7,646.17 L401.2,646.17 L401.7,646.17 L402.2,646.16 L402.7,646.16 L403.2,646.16 L403.7,646.16 L404.2,646.15 L404.7,646.15 L405.2,646.14 L405.7,646.14 L406.2,646.13 L406.7,646.12 L407.2,646.11 L407.7,646.1 L408.2,646.09 L408.7,646.08 L409.2,646.07 L409.7,646.06 L410.2,646.05 L410.7,646.04 L411.2,646.03 L411.7,646.02 L412.2,646.01 L412.7,646 L413.2,645.99 L413.7,645.98 L414.2,645.97 L414.7,645.95 L415.2,645.93 L415.7,645.91 L416.2,645.89 L416.7,645.86 L417.2,645.83 L417.7,645.79 L418.2,645.76 L418.7,645.72 L419.2,645.67 L419.7,645.63 L420.2,645.58 L420.7,645.54 L421.2,645.49 L421.7,645.44 L422.2,645.39 L422.7,645.33 L423.2,645.28 L423.7,645.23 L424.2,645.18 L424.7,645.14 L425.2,645.1 L425.7,645.06 L426.2,645.02 L426.7,644.99 L427.2,644.96 L427.7,644.93 L428.2,644.91 L428.7,644.9 L429.2,644.88 L429.7,644.87 L430.2,644.86 L430.7,644.84 L431.2,644.84 L431.7,644.83 L432.2,644.81 L432.7,644.79 L433.2,644.76 L433.7,644.72 L434.2,644.68 L434.7,644.62 L435.2,644.56 L435.7,644.48 L436.2,644.39 L436.7,644.27 L437.2,644.14 L437.7,643.99 L438.2,643.82 L438.7,643.64 L439.2,643.45 L439.7,643.23 L440.2,642.99 L440.7,642.73 L441.2,642.45 L441.7,642.19 L442.2,641.94 L442.7,641.69 L443.2,641.46 L443.7,641.24 L444.2,641.05 L444.7,640.89 L445.2,640.75 L445.7,640.65 L446.2,640.57 L446.7,640.53 L447.2,640.49 L447.7,640.47 L448.2,640.45 L448.7,640.41 L449.2,640.34 L449.7,640.25 L450.2,640.13 L450.7,639.98 L451.2,639.8 L451.7,639.56 L452.2,639.28 L452.7,638.96 L453.2,638.57 L453.7,638.12 L454.2,637.62 L454.7,637.08 L455.2,636.49 L455.7,635.85 L456.2,635.17 L456.7,634.45 L457.2,633.69 L457.7,632.9 L458.2,632.06 L458.7,631.21 L459.2,630.34 L459.7,629.47 L460.2,628.62 L460.7,627.79 L461.2,626.98 L461.7,626.19 L462.2,625.44 L462.7,624.73 L463.2,624.07 L463.7,623.46 L464.2,622.91 L464.7,622.4 L465.2,621.91 L465.7,621.4 L466.2,620.87 L466.7,620.3 L467.2,619.7 L467.7,619.03 L468.2,618.3 L468.7,617.5 L469.2,616.67 L469.7,615.8 L470.2,614.89 L470.7,613.96 L471.2,613.03 L471.7,612.1 L472.2,611.25 L472.7,610.49 L473.2,609.84 L473.7,609.28 L474.2,608.82 L474.7,608.43 L475.2,608.12 L475.7,607.88 L476.2,607.71 L476.7,607.62 L477.2,607.61 L477.7,607.61 L478.2,607.61 L478.7,607.56 L479.2,607.41 L479.7,607.16 L480.2,606.81 L480.7,606.36 L481.2,605.81 L481.7,605.18 L482.2,604.46 L482.7,603.67 L483.2,602.8 L483.7,601.89 L484.2,600.98 L484.7,600.13 L485.2,599.33 L485.7,598.59 L486.2,597.91 L486.7,597.3 L487.2,596.75 L487.7,596.25 L488.2,595.82 L488.7,595.44 L489.2,595.07 L489.7,594.73 L490.2,594.42 L490.7,594.14 L491.2,593.9 L491.7,593.7 L492.2,593.52 L492.7,593.35 L493.2,593.21 L493.7,593.09 L494.2,593 L494.7,592.93 L495.2,592.89 L495.7,592.85 L496.2,592.83 L496.7,592.81 L497.2,592.79 L497.7,592.76 L498.2,592.72 L498.7,592.67 L499.2,592.6 L499.7,592.51 L500.2,592.41 L500.7,592.3 L501.2,592.17 L501.7,592.04 L502.2,591.89 L502.7,591.75 L503.2,591.62 L503.7,591.49 L504.2,591.37 L504.7,591.27 L505.2,591.17 L505.7,591.09 L506.2,591.03 L506.7,590.98 L507.2,590.94 L507.7,590.91 L508.2,590.88 L508.7,590.85 L509.2,590.81 L509.7,590.77 L510.2,590.72 L510.7,590.65 L511.2,590.58 L511.7,590.49 L512.2,590.39 L512.7,590.28 L513.2,590.15 L513.7,590.01 L514.2,589.87 L514.7,589.72 L515.2,589.57 L515.7,589.42 L516.2,589.27 L516.7,589.13 L517.2,589 L517.7,588.89 L518.2,588.78 L518.7,588.7 L519.2,588.62 L519.7,588.56 L520.2,588.52 L520.7,588.49 L521.2,588.47 L521.7,588.47 L522.2,588.47 L522.7,588.47 L523.2,588.45 L523.7,588.42 L524.2,588.37 L524.7,588.3 L525.2,588.22 L525.7,588.12 L526.2,588 L526.7,587.87 L527.2,587.73 L527.7,587.57 L528.2,587.39 L528.7,587.2 L529.2,586.99 L529.7,586.71 L530.2,586.36 L530.7,585.93 L531.2,585.36 L531.7,584.61 L532.2,583.62 L532.7,582.34 L533.2,580.7 L533.7,578.66 L534.2,576.19 L534.7,573.3 L535.2,570.04 L535.7,566.49 L536.2,562.76 L536.7,558.98 L537.2,555.28 L537.7,551.78 L538.2,548.54 L538.7,545.63 L539.2,543.06 L539.7,540.82 L540.2,538.9 L540.7,537.26 L541.2,535.87 L541.7,534.7 L542.2,533.71 L542.7,532.88 L543.2,532.18 L543.7,531.6 L544.2,531.1 L544.7,530.69 L545.2,530.34 L545.7,529.97 L546.2,529.66 L546.7,529.4 L547.2,529.19 L547.7,529.01 L548.2,528.87 L548.7,528.75 L549.2,528.65 L549.7,528.57 L550.2,528.51 L550.7,528.45 L551.2,528.41 L551.7,528.37 L552.2,528.34 L552.7,528.32 L553.2,528.3 L553.7,528.28 L554.2,528.27 L554.7,528.26 L555.2,528.25 L555.7,528.24 L556.2,528.23 L556.7,528.23 L557.2,528.23 L557.7,528.22 L558.2,528.22 L558.7,528.22 L559.2,528.21 L559.7,528.21 L560.2,528.21 L560.7,528.21 L561.2,528.21 L561.7,528.21 L562.2,528.21 L562.7,528.21 L563.2,528.21 L563.7,528.21 L564.2,528.21 L564.7,528.21 L565.2,528.21 L565.7,528.21 L566.2,528.21 L566.7,528.21 L567.2,528.21 L567.7,528.21 L568.2,528.21 L568.7,528.21 L569.2,528.21 L569.7,528.21 L570.2,528.21 L570.7,528.21 L571.2,528.21 L571.7,528.21 L572.2,528.21 L572.7,528.21 L573.2,528.21 L573.7,528.21 L574.2,528.21 L574.7,528.21 L575.2,528.21 L575.7,528.21 L576.2,528.21 L576.7,528.21 L577.2,528.21 L577.7,528.21 L578.2,528.21 L578.7,528.21 L579.2,528.21 L579.7,528.21 L580.2,528.21 L580.7,528.21 L581.2,528.21 L581.7,528.21 L582.2,528.21 L582.7,528.21 L583.2,528.21 L583.7,528.21 L584.2,528.21 L584.7,528.21 L585.2,528.21 L585.7,528.21 L586.2,528.21 L586.7,528.21 L587.2,528.21 L587.7,528.21 L588.2,528.21 L588.7,528.21 L589.2,528.21 L589.7,528.21 L590.2,528.21 L590.7,528.21 L591.2,528.21 L591.7,528.21 L592.2,528.21 L592.7,528.21 L593.2,528.21 L593.7,528.21 L594.2,528.21 L594.7,528.21 L595.2,528.21 L595.7,528.21 L596.2,528.21 L596.7,528.21 L597.2,528.21 L597.7,528.21 L598.2,528.21 L598.7,528.21 L599.2,528.21 L599.7,528.21 L600.2,528.21 L600.7,528.21 L601.2,528.21 L601.7,528.21 L602.2,528.21 L602.7,528.21 L603.2,528.21 L603.7,528.21 L604.2,528.21 L604.7,528.21 L605.2,528.21 L605.7,528.21 L606.2,528.21 L606.7,528.21 L607.2,528.21 L607.7,528.21 L608.2,528.21 L608.7,528.21 L609.2,528.21 L609.7,528.21 L610.2,528.21 L610.7,528.21 L611.2,528.21 L611.7,528.21 L612.2,528.21 L612.7,528.21 L613.2,528.21 L613.7,528.21 L614.2,528.21 L614.7,528.21 L615.2,528.21 L615.7,528.21 L616.2,528.21 L616.7,528.21 L617.2,528.21 L617.7,528.21 L618.2,528.21 L618.7,528.21 L619.2,528.21 L619.7,528.21 L620.2,528.21 L620.7,528.21 L621.2,528.21 L621.7,528.21 L622.2,528.21 L622.7,528.21 L623.2,528.21 L623.7,528.21 L624.2,528.21 L624.7,528.21 L625.2,528.21 L625.7,528.21 L626.2,528.21 L626.7,528.21 L627.2,528.21 L627.7,528.21 L628.2,528.21 L628.7,528.21 L629.2,528.21 L629.7,528.21 L630.2,528.21 L630.7,528.21 L631.2,528.21 L631.7,528.21 L632.2,528.21 L632.7,528.21 L633.2,528.21 L633.7,528.21 L634.2,528.21 L634.7,528.21 L635.2,528.21 L635.2,585.8 L634.7,585.8 L634.2,585.8 L633.7,585.8 L633.2,585.8 L632.7,585.8 L632.2,585.8 L631.7,585.8 L631.2,585.8 L630.7,585.8 L630.2,585.8 L629.7,585.8 L629.2,585.8 L628.7,585.8 L628.2,585.8 L627.7,585.8 L627.2,585.8 L626.7,585.8 L626.2,585.8 L625.7,585.8 L625.2,585.8 L624.7,585.8 L624.2,585.8 L623.7,585.8 L623.2,585.8 L622.7,585.8 L622.2,585.8 L621.7,585.8 L621.2,585.8 L620.7,585.8 L620.2,585.8 L619.7,585.8 L619.2,585.8 L618.7,585.8 L618.2,585.8 L617.7,585.8 L617.2,585.8 L616.7,585.8 L616.2,585.8 L615.7,585.8 L615.2,585.8 L614.7,585.8 L614.2,585.8 L613.7,585.8 L613.2,585.8 L612.7,585.8 L612.2,585.8 L611.7,585.8 L611.2,585.8 L610.7,585.8 L610.2,585.8 L609.7,585.8 L609.2,585.8 L608.7,585.8 L608.2,585.8 L607.7,585.8 L607.2,585.8 L606.7,585.8 L606.2,585.8 L605.7,585.8 L605.2,585.8 L604.7,585.8 L604.2,585.8 L603.7,585.8 L603.2,585.8 L602.7,585.8 L602.2,585.8 L601.7,585.8 L601.2,585.8 L600.7,585.8 L600.2,585.8 L599.7,585.8 L599.2,585.8 L598.7,585.8 L598.2,585.8 L597.7,585.8 L597.2,585.8 L596.7,585.8 L596.2,585.8 L595.7,585.8 L595.2,585.8 L594.7,585.8 L594.2,585.8 L593.7,585.8 L593.2,585.8 L592.7,585.8 L592.2,585.8 L591.7,585.8 L591.2,585.8 L590.7,585.8 L590.2,585.8 L589.7,585.8 L589.2,585.8 L588.7,585.8 L588.2,585.8 L587.7,585.8 L587.2,585.8 L586.7,585.8 L586.2,585.8 L585.7,585.8 L585.2,585.8 L584.7,585.8 L584.2,585.8 L583.7,585.8 L583.2,585.8 L582.7,585.8 L582.2,585.8 L581.7,585.8 L581.2,585.8 L580.7,585.8 L580.2,585.8 L579.7,585.8 L579.2,585.8 L578.7,585.8 L578.2,585.8 L577.7,585.8 L577.2,585.8 L576.7,585.8 L576.2,585.8 L575.7,585.8 L575.2,585.8 L574.7,585.8 L574.2,585.8 L573.7,585.8 L573.2,585.8 L572.7,585.8 L572.2,585.8 L571.7,585.8 L571.2,585.8 L570.7,585.8 L570.2,585.8 L569.7,585.8 L569.2,585.8 L568.7,585.8 L568.2,585.8 L567.7,585.8 L567.2,585.8 L566.7,585.8 L566.2,585.8 L565.7,585.8 L565.2,585.8 L564.7,585.8 L564.2,585.8 L563.7,585.8 L563.2,585.8 L562.7,585.8 L562.2,585.8 L561.7,585.8 L561.2,585.8 L560.7,585.8 L560.2,585.8 L559.7,585.8 L559.2,585.8 L558.7,585.8 L558.2,585.8 L557.7,585.8 L557.2,585.8 L556.7,585.8 L556.2,585.8 L555.7,585.8 L555.2,585.8 L554.7,585.8 L554.2,585.8 L553.7,585.8 L553.2,585.8 L552.7,585.8 L552.2,585.8 L551.7,585.8 L551.2,585.8 L550.7,585.8 L550.2,585.8 L549.7,585.8 L549.2,585.8 L548.7,585.8 L548.2,585.8 L547.7,585.8 L547.2,585.81 L546.7,585.81 L546.2,585.82 L545.7,585.83 L545.2,585.84 L544.7,585.86 L544.2,585.88 L543.7,585.9 L543.2,585.92 L542.7,585.95 L542.2,585.98 L541.7,586.01 L541.2,586.04 L540.7,586.07 L540.2,586.1 L539.7,586.13 L539.2,586.16 L538.7,586.19 L538.2,586.21 L537.7,586.24 L537.2,586.27 L536.7,586.29 L536.2,586.31 L535.7,586.33 L535.2,586.36 L534.7,586.38 L534.2,586.42 L533.7,586.46 L533.2,586.51 L532.7,586.56 L532.2,586.63 L531.7,586.7 L531.2,586.78 L530.7,586.87 L530.2,586.98 L529.7,587.1 L529.2,587.23 L528.7,587.36 L528.2,587.5 L527.7,587.65 L527.2,587.78 L526.7,587.91 L526.2,588.03 L525.7,588.14 L525.2,588.23 L524.7,588.31 L524.2,588.37 L523.7,588.42 L523.2,588.45 L522.7,588.47 L522.2,588.48 L521.7,588.48 L521.2,588.48 L520.7,588.49 L520.2,588.52 L519.7,588.56 L519.2,588.62 L518.7,588.7 L518.2,588.78 L517.7,588.89 L517.2,589 L516.7,589.13 L516.2,589.27 L515.7,589.42 L515.2,589.57 L514.7,589.72 L514.2,589.87 L513.7,590.01 L513.2,590.15 L512.7,590.28 L512.2,590.39 L511.7,590.49 L511.2,590.58 L510.7,590.65 L510.2,590.72 L509.7,590.77 L509.2,590.81 L508.7,590.85 L508.2,590.88 L507.7,590.91 L507.2,590.94 L506.7,590.98 L506.2,591.03 L505.7,591.09 L505.2,591.17 L504.7,591.27 L504.2,591.37 L503.7,591.49 L503.2,591.62 L502.7,591.75 L502.2,591.89 L501.7,592.04 L501.2,592.17 L500.7,592.3 L500.2,592.41 L499.7,592.51 L499.2,592.6 L498.7,592.67 L498.2,592.72 L497.7,592.76 L497.2,592.79 L496.7,592.81 L496.2,592.83 L495.7,592.85 L495.2,592.89 L494.7,592.93 L494.2,593 L493.7,593.09 L493.2,593.21 L492.7,593.35 L492.2,593.52 L491.7,593.7 L491.2,593.9 L490.7,594.14 L490.2,594.42 L489.7,594.73 L489.2,595.07 L488.7,595.44 L488.2,595.82 L487.7,596.25 L487.2,596.75 L486.7,597.3 L486.2,597.91 L485.7,598.59 L485.2,599.33 L484.7,600.13 L484.2,600.98 L483.7,601.89 L483.2,602.8 L482.7,603.67 L482.2,604.46 L481.7,605.18 L481.2,605.81 L480.7,606.36 L480.2,606.81 L479.7,607.16 L479.2,607.41 L478.7,607.56 L478.2,607.61 L477.7,607.61 L477.2,607.61 L476.7,607.62 L476.2,607.71 L475.7,607.88 L475.2,608.12 L474.7,608.43 L474.2,608.82 L473.7,609.28 L473.2,609.84 L472.7,610.49 L472.2,611.25 L471.7,612.1 L471.2,613.03 L470.7,613.96 L470.2,614.89 L469.7,615.8 L469.2,616.67 L468.7,617.5 L468.2,618.3 L467.7,619.03 L467.2,619.7 L466.7,620.3 L466.2,620.87 L465.7,621.4 L465.2,621.91 L464.7,622.4 L464.2,622.91 L463.7,623.46 L463.2,624.07 L462.7,624.73 L462.2,625.44 L461.7,626.19 L461.2,626.98 L460.7,627.79 L460.2,628.62 L459.7,629.47 L459.2,630.34 L458.7,631.21 L458.2,632.06 L457.7,632.9 L457.2,633.69 L456.7,634.45 L456.2,635.17 L455.7,635.85 L455.2,636.49 L454.7,637.08 L454.2,637.62 L453.7,638.12 L453.2,638.57 L452.7,638.96 L452.2,639.28 L451.7,639.56 L451.2,639.8 L450.7,639.98 L450.2,640.13 L449.7,640.25 L449.2,640.34 L448.7,640.41 L448.2,640.45 L447.7,640.47 L447.2,640.49 L446.7,640.53 L446.2,640.57 L445.7,640.65 L445.2,640.75 L444.7,640.89 L444.2,641.05 L443.7,641.24 L443.2,641.46 L442.7,641.69 L442.2,641.94 L441.7,642.19 L441.2,642.45 L440.7,642.73 L440.2,642.99 L439.7,643.23 L439.2,643.45 L438.7,643.64 L438.2,643.82 L437.7,643.99 L437.2,644.14 L436.7,644.27 L436.2,644.39 L435.7,644.48 L435.2,644.56 L434.7,644.62 L434.2,644.68 L433.7,644.72 L433.2,644.76 L432.7,644.79 L432.2,644.81 L431.7,644.83 L431.2,644.84 L430.7,644.84 L430.2,644.86 L429.7,644.87 L429.2,644.88 L428.7,644.9 L428.2,644.91 L427.7,644.93 L427.2,644.96 L426.7,644.99 L426.2,645.02 L425.7,645.06 L425.2,645.1 L424.7,645.14 L424.2,645.18 L423.7,645.23 L423.2,645.28 L422.7,645.33 L422.2,645.39 L421.7,645.44 L421.2,645.49 L420.7,645.54 L420.2,645.58 L419.7,645.63 L419.2,645.67 L418.7,645.72 L418.2,645.76 L417.7,645.79 L417.2,645.83 L416.7,645.86 L416.2,645.89 L415.7,645.91 L415.2,645.93 L414.7,645.95 L414.2,645.97 L413.7,645.98 L413.2,645.99 L412.7,646 L412.2,646.01 L411.7,646.02 L411.2,646.03 L410.7,646.04 L410.2,646.05 L409.7,646.06 L409.2,646.07 L408.7,646.08 L408.2,646.09 L407.7,646.1 L407.2,646.11 L406.7,646.12 L406.2,646.13 L405.7,646.14 L405.2,646.14 L404.7,646.15 L404.2,646.15 L403.7,646.16 L403.2,646.16 L402.7,646.16 L402.2,646.16 L401.7,646.17 L401.2,646.17 L400.7,646.17 L400.2,646.18 L399.7,646.18 L399.2,646.18 L398.7,646.18 L398.2,646.19 L397.7,646.19 L397.2,646.19 L396.7,646.19 L396.2,646.19 L395.7,646.2Z" fill="#F8766D" fill-opacity="0.5"/>
<path d="M395.7,646.2 L396.2,646.19 L396.7,646.19 L397.2,646.19 L397.7,646.19 L398.2,646.19 L398.7,646.18 L399.2,646.18 L399.7,646.18 L400.2,646.18 L400.7,646.17 L401.2,646.17 L401.7,646.17 L402.2,646.16 L402.7,646.16 L403.2,646.16 L403.7,646.16 L404.2,646.15 L404.7,646.15 L405.2,646.14 L405.7,646.14 L406.2,646.13 L406.7,646.12 L407.2,646.11 L407.7,646.1 L408.2,646.09 L408.7,646.08 L409.2,646.07 L409.7,646.06 L410.2,646.05 L410.7,646.04 L411.2,646.03 L411.7,646.02 L412.2,646.01 L412.7,646 L413.2,645.99 L413.7,645.98 L414.2,645.97 L414.7,645.95 L415.2,645.93 L415.7,645.91 L416.2,645.89 L416.7,645.86 L417.2,645.83 L417.7,645.79 L418.2,645.76 L418.7,645.72 L419.2,645.67 L419.7,645.63 L420.2,645.58 L420.7,645.54 L421.2,645.49 L421.7,645.44 L422.2,645.39 L422.7,645.33 L423.2,645.28 L423.7,645.23 L424.2,645.18 L424.7,645.14 L425.2,645.1 L425.7,645.06 L426.2,645.02 L426.7,644.99 L427.2,644.96 L427.7,644.93 L428.2,644.91 L428.7,644.9 L429.2,644.88 L429.7,644.87 L430.2,644.86 L430.7,644.84 L431.2,644.84 L431.7,644.83 L432.2,644.81 L432.7,644.79 L433.2,644.76 L433.7,644.72 L434.2,644.68 L434.7,644.62 L435.2,644.56 L435.7,644.48 L436.2,644.39 L436.7,644.27 L437.2,644.14 L437.7,643.99 L438.2,643.82 L438.7,643.64 L439.2,643.45 L439.7,643.23 L440.2,642.99 L440.7,642.73 L441.2,642.45 L441.7,642.19 L442.2,641.94 L442.7,641.69 L443.2,641.46 L443.7,641.24 L444.2,641.05 L444.7,640.89 L445.2,640.75 L445.7,640.65 L446.2,640.57 L446.7,640.53 L447.2,640.49 L447.7,640.47 L448.2,640.45 L448.7,640.41 L449.2,640.34 L449.7,640.25 L450.2,640.13 L450.7,639.98 L451.2,639.8 L451.7,639.56 L452.2,639.28 L452.7,638.96 L453.2,638.57 L453.7,638.12 L454.2,637.62 L454.7,637.08 L455.2,636.49 L455.7,635.85 L456.2,635.17 L456.7,634.45 L457.2,633.69 L457.7,632.9 L458.2,632.06 L458.7,631.21 L459.2,630.34 L459.7,629.47 L460.2,628.62 L460.7,627.79 L461.2,626.98 L461.7,626.19 L462.2,625.44 L462.7,624.73 L463.2,624.07 L463.7,623.46 L464.2,622.91 L464.7,622.4 L465.2,621.91 L465.7,621.4 L466.2,620.87 L466.7,620.3 L467.2,619.7 L467.7,619.03 L468.2,618.3 L468.7,617.5 L469.2,616.67 L469.7,615.8 L470.2,614.89 L470.7,613.96 L471.2,613.03 L471.7,612.1 L472.2,611.25 L472.7,610.49 L473.2,609.84 L473.7,609.28 L474.2,608.82 L474.7,608.43 L475.2,608.12 L475.7,607.88 L476.2,607.71 L476.7,607.62 L477.2,607.61 L477.7,607.61 L478.2,607.61 L478.7,607.56 L479.2,607.41 L479.7,607.16 L480.2,606.81 L480.7,606.36 L481.2,605.81 L481.7,605.18 L482.2,604.46 L482.7,603.67 L483.2,602.8 L483.7,601.89 L484.2,600.98 L484.7,600.13 L485.2,599.33 L485.7,598.59 L486.2,597.91 L486.7,597.3 L487.2,596.75 L487.7,596.25 L488.2,595.82 L488.7,595.44 L489.2,595.07 L489.7,594.73 L490.2,594.42 L490.7,594.14 L491.2,593.9 L491.7,593.7 L492.2,593.52 L492.7,593.35 L493.2,593.21 L493.7,593.09 L494.2,593 L494.7,592.93 L495.2,592.89 L495.7,592.85 L496.2,592.83 L496.7,592.81 L497.2,592.79 L497.7,592.76 L498.2,592.72 L498.7,592.67 L499.2,592.6 L499.7,592.51 L500.2,592.41 L500.7,592.3 L501.2,592.17 L501.7,592.04 L502.2,591.89 L502.7,591.75 L503.2,591.62 L503.7,591.49 L504.2,591.37 L504.7,591.27 L505.2,591.17 L505.7,591.09 L506.2,591.03 L506.7,590.98 L507.2,590.94 L507.7,590.91 L508.2,590.88 L508.7,590.85 L509.2,590.81 L509.7,590.77 L510.2,590.72 L510.7,590.65 L511.2,590.58 L511.7,590.49 L512.2,590.39 L512.7,590.28 L513.2,590.15 L513.7,590.01 L514.2,589.87 L514.7,589.72 L515.2,589.57 L515.7,589.42 L516.2,589.27 L516.7,589.13 L517.2,589 L517.7,588.89 L518.2,588.78 L518.7,588.7 L519.2,588.62 L519.7,588.56 L520.2,588.52 L520.7,588.49 L521.2,588.48 L521.7,588.48 L522.2,588.48 L522.7,588.47 L523.2,588.45 L523.7,588.42 L524.2,588.37 L524.7,588.31 L525.2,588.23 L525.7,588.14 L526.2,588.03 L526.7,587.91 L527.2,587.78 L527.7,587.65 L528.2,587.5 L528.7,587.36 L529.2,587.23 L529.7,587.1 L530.2,586.98 L530.7,586.87 L531.2,586.78 L531.7,586.7 L532.2,586.63 L532.7,586.56 L533.2,586.51 L533.7,586.46 L534.2,586.42 L534.7,586.38 L535.2,586.36 L535.7,586.33 L536.2,586.31 L536.7,586.29 L537.2,586.27 L537.7,586.24 L538.2,586.21 L538.7,586.19 L539.2,586.16 L539.7,586.13 L540.2,586.1 L540.7,586.07 L541.2,586.04 L541.7,586.01 L542.2,585.98 L542.7,585.95 L543.2,585.92 L543.7,585.9 L544.2,585.88 L544.7,585.86 L545.2,585.84 L545.7,585.83 L546.2,585.82 L546.7,585.81 L547.2,585.81 L547.7,585.8 L548.2,585.8 L548.7,585.8 L549.2,585.8 L549.7,585.8 L550.2,585.8 L550.7,585.8 L551.2,585.8 L551.7,585.8 L552.2,585.8 L552.7,585.8 L553.2,585.8 L553.7,585.8 L554.2,585.8 L554.7,585.8 L555.2,585.8 L555.7,585.8 L556.2,585.8 L556.7,585.8 L557.2,585.8 L557.7,585.8 L558.2,585.8 L558.7,585.8 L559.2,585.8 L559.7,585.8 L560.2,585.8 L560.7,585.8 L561.2,585.8 L561.7,585.8 L562.2,585.8 L562.7,585.8 L563.2,585.8 L563.7,585.8 L564.2,585.8 L564.7,585.8 L565.2,585.8 L565.7,585.8 L566.2,585.8 L566.7,585.8 L567.2,585.8 L567.7,585.8 L568.2,585.8 L568.7,585.8 L569.2,585.8 L569.7,585.8 L570.2,585.8 L570.7,585.8 L571.2,585.8 L571.7,585.8 L572.2,585.8 L572.7,585.8 L573.2,585.8 L573.7,585.8 L574.2,585.8 L574.7,585.8 L575.2,585.8 L575.7,585.8 L576.2,585.8 L576.7,585.8 L577.2,585.8 L577.7,585.8 L578.2,585.8 L578.7,585.8 L579.2,585.8 L579.7,585.8 L580.2,585.8 L580.7,585.8 L581.2,585.8 L581.7,585.8 L582.2,585.8 L582.7,585.8 L583.2,585.8 L583.7,585.8 L584.2,585.8 L584.7,585.8 L585.2,585.8 L585.7,585.8 L586.2,585.8 L586.7,585.8 L587.2,585.8 L587.7,585.8 L588.2,585.8 L588.7,585.8 L589.2,585.8 L589.7,585.8 L590.2,585.8 L590.7,585.8 L591.2,585.8 L591.7,585.8 L592.2,585.8 L592.7,585.8 L593.2,585.8 L593.7,585.8 L594.2,585.8 L594.7,585.8 L595.2,585.8 L595.7,585.8 L596.2,585.8 L596.7,585.8 L597.2,585.8 L597.7,585.8 L598.2,585.8 L598.7,585.8 L599.2,585.8 L599.7,585.8 L600.2,585.8 L600.7,585.8 L601.2,585.8 L601.7,585.8 L602.2,585.8 L602.7,585.8 L603.2,585.8 L603.7,585.8 L604.2,585.8 L604.7,585.8 L605.2,585.8 L605.7,585.8 L606.2,585.8 L606.7,585.8 L607.2,585.8 L607.7,585.8 L608.2,585.8 L608.7,585.8 L609.2,585.8 L609.7,585.8 L610.2,585.8 L610.7,585.8 L611.2,585.8 L611.7,585.8 L612.2,585.8 L612.7,585.8 L613.2,585.8 L613.7,585.8 L614.2,585.8 L614.7,585.8 L615.2,585.8 L615.7,585.8 L616.2,585.8 L616.7,585.8 L617.2,585.8 L617.7,585.8 L618.2,585.8 L618.7,585.8 L619.2,585.8 L619.7,585.8 L620.2,585.8 L620.7,585.8 L621.2,585.8 L621.7,585.8 L622.2,585.8 L622.7,585.8 L623.2,585.8 L623.7,585.8 L624.2,585.8 L624.7,585.8 L625.2,585.8 L625.7,585.8 L626.2,585.8 L626.7,585.8 L627.2,585.8 L627.7,585.8 L628.2,585.8 L628.7,585.8 L629.2,585.8 L629.7,585.8 L630.2,585.8 L630.7,585.8 L631.2,585.8 L631.7,585.8 L632.2,585.8 L632.7,585.8 L633.2,585.8 L633.7,585.8 L634.2,585.8 L634.7,585.8 L635.2,585.8 L635.22,646.8 L396.2,646.8Z" fill="#00BFC4" fill-opacity="0.5"/>
<text transform="translate(356.4,583.7) rotate(-90)" text-anchor="middle" font-size="9.4" fill="#1a1a1a" stroke="#1a1a1a" stroke-width="0.22"><tspan x="0" y="0">Proportion of immune</tspan><tspan x="0" y="10.9">individuals (%)</tspan></text>
<rect x="415.8" y="518" width="14.3" height="14" fill="#F8766D" fill-opacity="0.5"/>
<rect x="415.8" y="534.8" width="14.3" height="14.4" fill="#00BFC4" fill-opacity="0.5"/>
<text x="435.7" y="528.3" font-size="8.2" fill="#1a1a1a" stroke="#1a1a1a" stroke-width="0.22">Infection</text>
<text x="435.7" y="545.1" font-size="8.2" fill="#1a1a1a" stroke="#1a1a1a" stroke-width="0.22">Vaccination</text>
<text x="345" y="518.7" font-size="9.1" font-weight="bold" fill="#000" stroke="#000" stroke-width="0.22">h</text>
</g>
</svg>
</body></html>
